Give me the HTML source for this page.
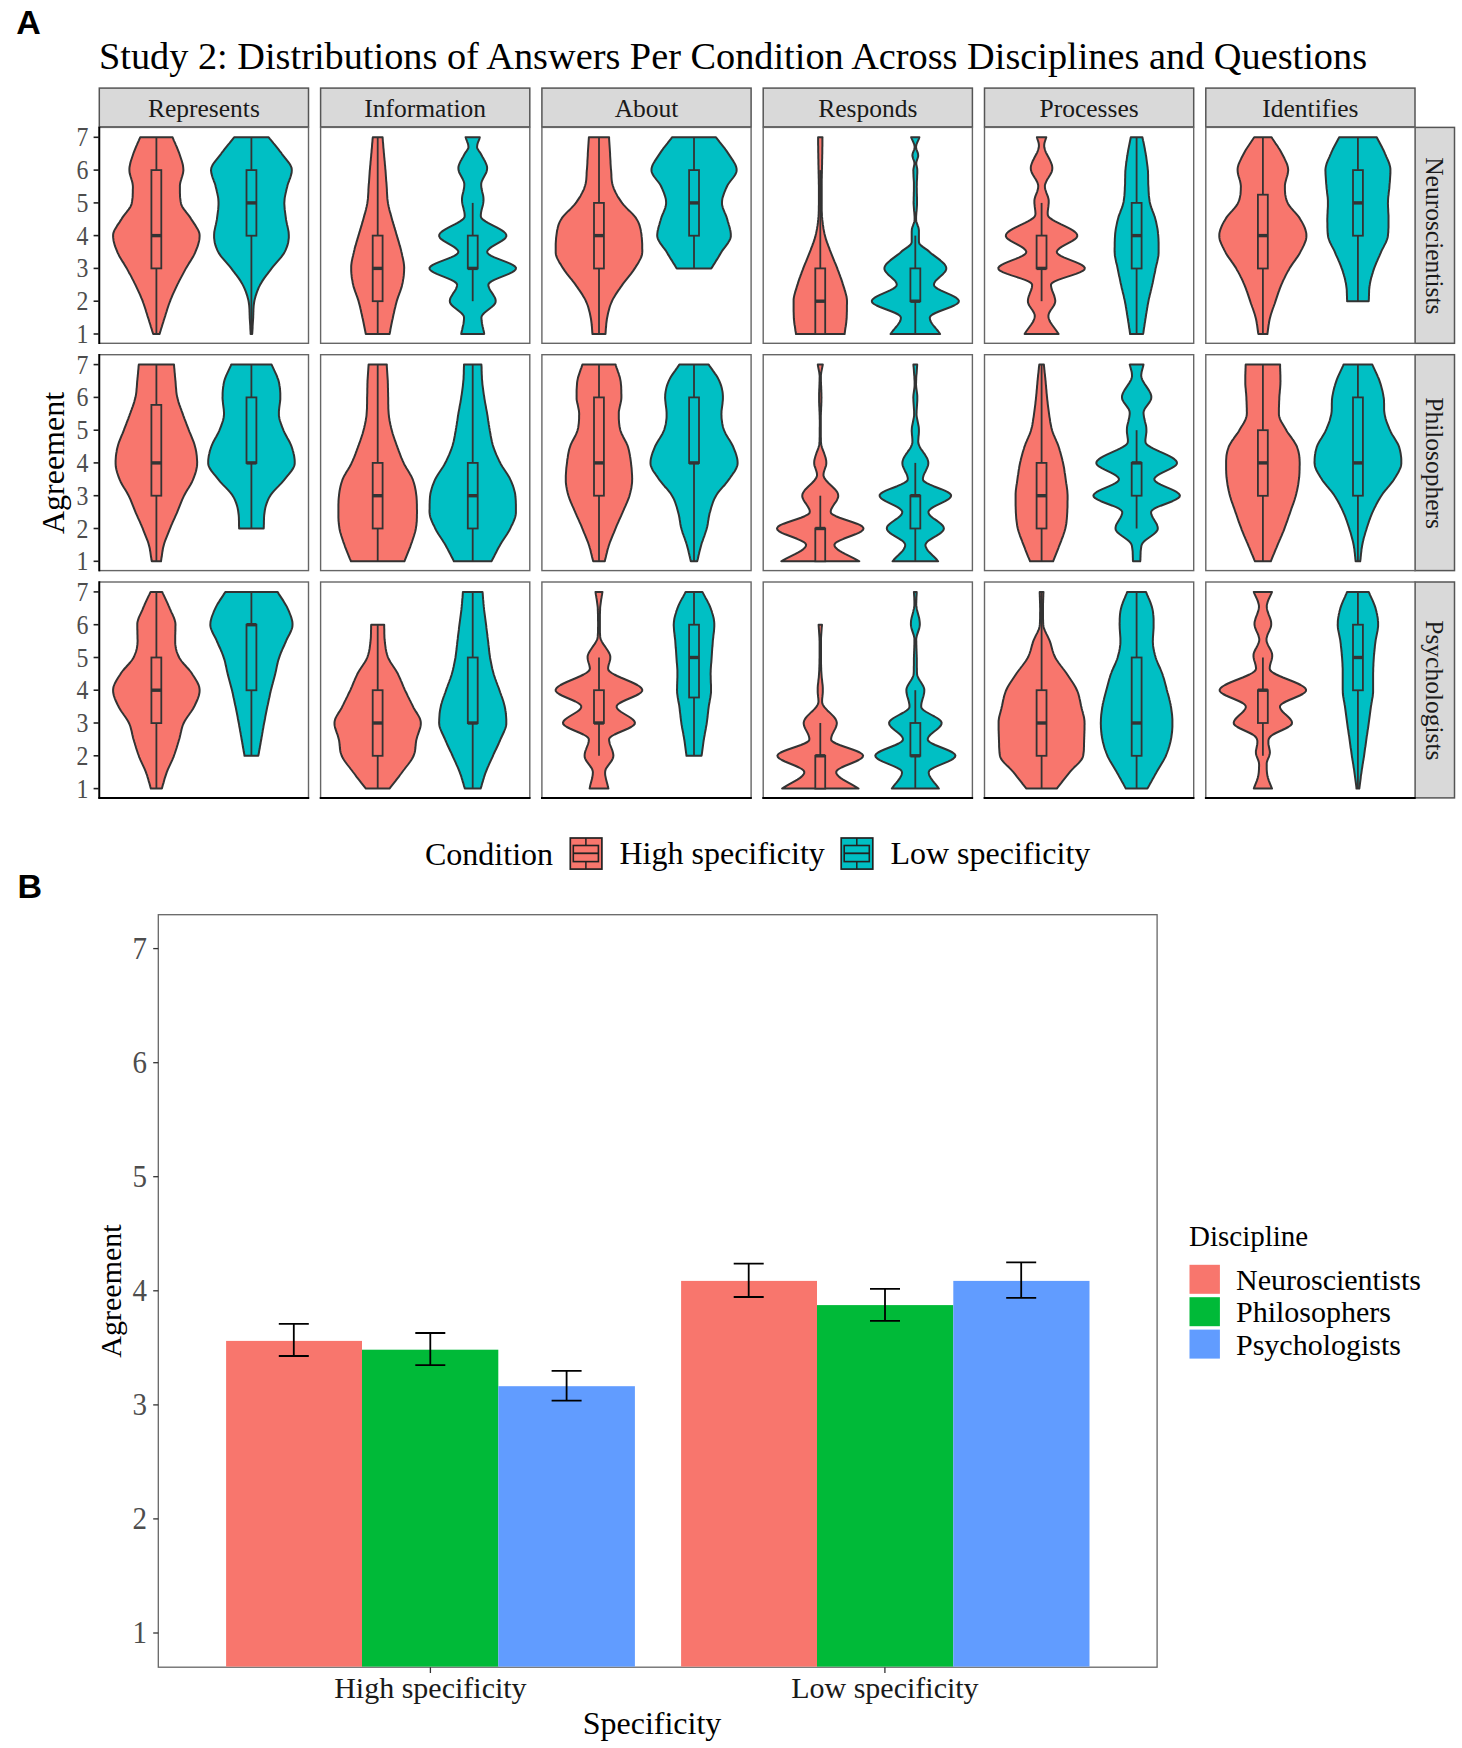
<!DOCTYPE html>
<html><head><meta charset="utf-8"><style>html,body{margin:0;padding:0;background:#fff;width:1462px;height:1748px;overflow:hidden}svg{display:block}</style></head>
<body><svg width="1462" height="1748" viewBox="0 0 1462 1748">
<rect width="100%" height="100%" fill="#fff"/>
<text x="16.3" y="34.2" font-family="&quot;Liberation Sans&quot;, sans-serif" font-weight="bold" font-size="34">A</text>
<text x="99" y="69" font-family="&quot;Liberation Serif&quot;, serif" font-size="38.3" fill="#000">Study 2: Distributions of Answers Per Condition Across Disciplines and Questions</text>
<rect x="99.3" y="88.1" width="209.2" height="38.8" fill="#D9D9D9" stroke="#555" stroke-width="1.5"/>
<text x="203.9" y="116.8" text-anchor="middle" font-family="&quot;Liberation Serif&quot;, serif" font-size="25.5" fill="#1a1a1a">Represents</text>
<rect x="320.6" y="88.1" width="209.2" height="38.8" fill="#D9D9D9" stroke="#555" stroke-width="1.5"/>
<text x="425.2" y="116.8" text-anchor="middle" font-family="&quot;Liberation Serif&quot;, serif" font-size="25.5" fill="#1a1a1a">Information</text>
<rect x="541.9" y="88.1" width="209.2" height="38.8" fill="#D9D9D9" stroke="#555" stroke-width="1.5"/>
<text x="646.5" y="116.8" text-anchor="middle" font-family="&quot;Liberation Serif&quot;, serif" font-size="25.5" fill="#1a1a1a">About</text>
<rect x="763.2" y="88.1" width="209.2" height="38.8" fill="#D9D9D9" stroke="#555" stroke-width="1.5"/>
<text x="867.8" y="116.8" text-anchor="middle" font-family="&quot;Liberation Serif&quot;, serif" font-size="25.5" fill="#1a1a1a">Responds</text>
<rect x="984.5" y="88.1" width="209.2" height="38.8" fill="#D9D9D9" stroke="#555" stroke-width="1.5"/>
<text x="1089.1" y="116.8" text-anchor="middle" font-family="&quot;Liberation Serif&quot;, serif" font-size="25.5" fill="#1a1a1a">Processes</text>
<rect x="1205.8" y="88.1" width="209.2" height="38.8" fill="#D9D9D9" stroke="#555" stroke-width="1.5"/>
<text x="1310.4" y="116.8" text-anchor="middle" font-family="&quot;Liberation Serif&quot;, serif" font-size="25.5" fill="#1a1a1a">Identifies</text>
<rect x="1415.0" y="127.4" width="39.5" height="215.9" fill="#D9D9D9" stroke="#555" stroke-width="1.5"/>
<text transform="translate(1426.2,235.8) rotate(90)" text-anchor="middle" font-family="&quot;Liberation Serif&quot;, serif" font-size="25.5" fill="#1a1a1a">Neuroscientists</text>
<rect x="1415.0" y="354.7" width="39.5" height="215.9" fill="#D9D9D9" stroke="#555" stroke-width="1.5"/>
<text transform="translate(1426.2,463.1) rotate(90)" text-anchor="middle" font-family="&quot;Liberation Serif&quot;, serif" font-size="25.5" fill="#1a1a1a">Philosophers</text>
<rect x="1415.0" y="582.0" width="39.5" height="215.9" fill="#D9D9D9" stroke="#555" stroke-width="1.5"/>
<text transform="translate(1426.2,690.4) rotate(90)" text-anchor="middle" font-family="&quot;Liberation Serif&quot;, serif" font-size="25.5" fill="#1a1a1a">Psychologists</text>
<rect x="99.3" y="127.4" width="209.2" height="215.9" fill="#fff" stroke="#666" stroke-width="1.4"/>
<path d="M172.6,137.3 173.2,138.8 173.8,140.3 174.5,141.8 175.2,143.3 175.8,144.8 176.5,146.3 177.1,147.8 177.7,149.3 178.3,150.8 178.9,152.3 179.4,153.8 179.9,155.3 180.4,156.8 180.9,158.3 181.4,159.8 181.9,161.3 182.3,162.8 182.7,164.3 183.0,165.8 183.2,167.3 183.3,168.8 183.4,170.3 183.2,171.8 183.0,173.3 182.6,174.8 182.2,176.3 181.7,177.8 181.3,179.3 180.8,180.8 180.4,182.3 180.1,183.8 179.9,185.3 179.9,186.8 179.9,188.3 179.9,189.8 179.9,191.3 179.9,192.9 180.0,194.4 180.0,195.9 180.1,197.4 180.3,198.9 180.5,200.4 180.7,201.9 181.0,203.4 181.4,204.9 182.1,206.4 183.0,207.9 184.0,209.4 185.2,210.9 186.3,212.4 187.5,213.9 188.7,215.4 189.8,216.9 190.8,218.4 191.7,219.9 192.7,221.4 193.7,222.9 194.7,224.4 195.7,225.9 196.6,227.4 197.5,228.9 198.3,230.4 198.9,231.9 199.4,233.4 199.6,234.9 199.6,236.4 199.5,237.9 199.4,239.4 199.1,240.9 198.7,242.4 198.3,243.9 197.9,245.4 197.4,246.9 196.8,248.4 196.2,249.9 195.6,251.4 195.0,252.9 194.3,254.4 193.5,255.9 192.6,257.4 191.7,258.9 190.8,260.4 189.9,261.9 188.9,263.4 188.0,264.9 187.1,266.4 186.2,267.9 185.4,269.4 184.6,270.9 183.8,272.4 183.0,273.9 182.2,275.4 181.4,276.9 180.6,278.4 179.8,279.9 179.0,281.4 178.3,282.9 177.5,284.4 176.8,285.9 176.1,287.4 175.4,288.9 174.7,290.4 174.0,291.9 173.3,293.4 172.6,294.9 172.0,296.4 171.4,297.9 170.7,299.4 170.2,300.9 169.6,302.5 169.0,304.0 168.5,305.5 168.0,307.0 167.5,308.5 167.0,310.0 166.6,311.5 166.1,313.0 165.6,314.5 165.2,316.0 164.7,317.5 164.2,319.0 163.7,320.5 163.3,322.0 162.8,323.5 162.3,325.0 161.9,326.5 161.4,328.0 160.9,329.5 160.5,331.0 160.0,332.5 159.6,334.0 153.2,334.0 152.7,332.5 152.2,331.0 151.8,329.5 151.3,328.0 150.8,326.5 150.4,325.0 149.9,323.5 149.4,322.0 149.0,320.5 148.5,319.0 148.0,317.5 147.5,316.0 147.1,314.5 146.6,313.0 146.1,311.5 145.7,310.0 145.2,308.5 144.7,307.0 144.2,305.5 143.7,304.0 143.1,302.5 142.6,300.9 142.0,299.4 141.3,297.9 140.7,296.4 140.1,294.9 139.4,293.4 138.7,291.9 138.0,290.4 137.3,288.9 136.6,287.4 135.9,285.9 135.2,284.4 134.4,282.9 133.7,281.4 132.9,279.9 132.1,278.4 131.4,276.9 130.6,275.4 129.8,273.9 128.9,272.4 128.1,270.9 127.3,269.4 126.5,267.9 125.6,266.4 124.7,264.9 123.8,263.4 122.8,261.9 121.9,260.4 121.0,258.9 120.1,257.4 119.2,255.9 118.5,254.4 117.7,252.9 117.1,251.4 116.5,249.9 115.9,248.4 115.3,246.9 114.8,245.4 114.4,243.9 114.0,242.4 113.6,240.9 113.4,239.4 113.2,237.9 113.1,236.4 113.1,234.9 113.3,233.4 113.8,231.9 114.4,230.4 115.2,228.9 116.1,227.4 117.0,225.9 118.0,224.4 119.1,222.9 120.0,221.4 121.0,219.9 121.9,218.4 122.9,216.9 124.0,215.4 125.2,213.9 126.4,212.4 127.5,210.9 128.7,209.4 129.7,207.9 130.6,206.4 131.3,204.9 131.7,203.4 132.0,201.9 132.2,200.4 132.4,198.9 132.6,197.4 132.7,195.9 132.7,194.4 132.8,192.9 132.8,191.3 132.8,189.8 132.9,188.3 132.9,186.8 132.8,185.3 132.6,183.8 132.3,182.3 131.9,180.8 131.4,179.3 131.0,177.8 130.5,176.3 130.1,174.8 129.7,173.3 129.5,171.8 129.4,170.3 129.4,168.8 129.5,167.3 129.8,165.8 130.1,164.3 130.4,162.8 130.8,161.3 131.3,159.8 131.8,158.3 132.3,156.8 132.8,155.3 133.3,153.8 133.8,152.3 134.4,150.8 135.0,149.3 135.6,147.8 136.2,146.3 136.9,144.8 137.5,143.3 138.2,141.8 138.9,140.3 139.5,138.8 140.2,137.3Z" fill="#F8766D" stroke="#333333" stroke-width="2" stroke-linejoin="round"/>
<line x1="156.4" y1="137.3" x2="156.4" y2="170.1" stroke="#333333" stroke-width="1.8"/>
<line x1="156.4" y1="268.4" x2="156.4" y2="334.0" stroke="#333333" stroke-width="1.8"/>
<rect x="151.4" y="170.1" width="9.9" height="98.3" fill="#F8766D" stroke="#333333" stroke-width="1.8"/>
<line x1="151.4" y1="235.6" x2="161.3" y2="235.6" stroke="#333333" stroke-width="3.4"/>
<path d="M268.7,137.3 269.9,138.8 271.2,140.3 272.4,141.8 273.6,143.3 274.9,144.8 276.1,146.3 277.3,147.8 278.5,149.3 279.6,150.8 280.8,152.3 281.8,153.8 283.0,155.3 284.2,156.8 285.4,158.3 286.6,159.8 287.8,161.3 288.9,162.8 289.9,164.3 290.7,165.8 291.4,167.3 291.7,168.8 291.8,170.3 291.7,171.8 291.5,173.3 291.1,174.8 290.7,176.3 290.2,177.8 289.6,179.3 289.1,180.8 288.5,182.3 288.0,183.8 287.5,185.3 287.2,186.8 286.8,188.3 286.4,189.8 286.1,191.3 285.7,192.9 285.4,194.4 285.1,195.9 284.8,197.4 284.6,198.9 284.5,200.4 284.4,201.9 284.3,203.4 284.4,204.9 284.5,206.4 284.6,207.9 284.7,209.4 284.9,210.9 285.1,212.4 285.3,213.9 285.5,215.4 285.7,216.9 285.9,218.4 286.1,219.9 286.4,221.4 286.7,222.9 287.0,224.4 287.4,225.9 287.7,227.4 288.0,228.9 288.3,230.4 288.6,231.9 288.7,233.4 288.8,234.9 288.8,236.4 288.8,237.9 288.6,239.4 288.4,240.9 288.2,242.4 287.8,243.9 287.4,245.4 286.9,246.9 286.3,248.4 285.7,249.9 285.0,251.4 284.2,252.9 283.2,254.4 282.1,255.9 281.0,257.4 279.7,258.9 278.4,260.4 277.1,261.9 275.8,263.4 274.5,264.9 273.2,266.4 272.0,267.9 270.9,269.4 269.8,270.9 268.6,272.4 267.5,273.9 266.3,275.4 265.2,276.9 264.1,278.4 263.1,279.9 262.1,281.4 261.2,282.9 260.3,284.4 259.6,285.9 258.8,287.4 258.2,288.9 257.6,290.4 257.0,291.9 256.5,293.4 256.0,294.9 255.5,296.4 255.1,297.9 254.7,299.4 254.4,300.9 254.1,302.5 253.9,304.0 253.7,305.5 253.6,307.0 253.5,308.5 253.4,310.0 253.4,311.5 253.3,313.0 253.3,314.5 253.2,316.0 253.2,317.5 253.1,319.0 253.0,320.5 252.9,322.0 252.8,323.5 252.7,325.0 252.6,326.5 252.6,328.0 252.5,329.5 252.4,331.0 252.3,332.5 252.2,334.0 250.6,334.0 250.6,332.5 250.5,331.0 250.4,329.5 250.3,328.0 250.3,326.5 250.2,325.0 250.1,323.5 250.0,322.0 249.9,320.5 249.8,319.0 249.7,317.5 249.7,316.0 249.6,314.5 249.6,313.0 249.5,311.5 249.5,310.0 249.4,308.5 249.3,307.0 249.2,305.5 249.0,304.0 248.8,302.5 248.5,300.9 248.2,299.4 247.8,297.9 247.4,296.4 246.9,294.9 246.4,293.4 245.9,291.9 245.3,290.4 244.7,288.9 244.0,287.4 243.3,285.9 242.5,284.4 241.7,282.9 240.8,281.4 239.8,279.9 238.8,278.4 237.7,276.9 236.6,275.4 235.4,273.9 234.3,272.4 233.1,270.9 232.0,269.4 230.9,267.9 229.7,266.4 228.4,264.9 227.1,263.4 225.8,261.9 224.5,260.4 223.2,258.9 221.9,257.4 220.7,255.9 219.7,254.4 218.7,252.9 217.9,251.4 217.2,249.9 216.6,248.4 216.0,246.9 215.5,245.4 215.1,243.9 214.7,242.4 214.5,240.9 214.3,239.4 214.1,237.9 214.1,236.4 214.1,234.9 214.2,233.4 214.3,231.9 214.6,230.4 214.9,228.9 215.2,227.4 215.5,225.9 215.9,224.4 216.2,222.9 216.5,221.4 216.8,219.9 217.0,218.4 217.2,216.9 217.4,215.4 217.6,213.9 217.8,212.4 218.0,210.9 218.2,209.4 218.3,207.9 218.4,206.4 218.5,204.9 218.5,203.4 218.5,201.9 218.4,200.4 218.3,198.9 218.1,197.4 217.8,195.9 217.5,194.4 217.2,192.9 216.8,191.3 216.5,189.8 216.1,188.3 215.7,186.8 215.4,185.3 214.9,183.8 214.4,182.3 213.8,180.8 213.3,179.3 212.7,177.8 212.2,176.3 211.8,174.8 211.4,173.3 211.2,171.8 211.0,170.3 211.2,168.8 211.5,167.3 212.2,165.8 213.0,164.3 214.0,162.8 215.1,161.3 216.3,159.8 217.5,158.3 218.7,156.8 219.9,155.3 221.1,153.8 222.1,152.3 223.3,150.8 224.4,149.3 225.6,147.8 226.8,146.3 228.0,144.8 229.3,143.3 230.5,141.8 231.7,140.3 232.9,138.8 234.1,137.3Z" fill="#00BFC4" stroke="#333333" stroke-width="2" stroke-linejoin="round"/>
<line x1="251.4" y1="137.3" x2="251.4" y2="170.1" stroke="#333333" stroke-width="1.8"/>
<line x1="251.4" y1="235.6" x2="251.4" y2="334.0" stroke="#333333" stroke-width="1.8"/>
<rect x="246.5" y="170.1" width="9.9" height="65.6" fill="#00BFC4" stroke="#333333" stroke-width="1.8"/>
<line x1="246.5" y1="202.9" x2="256.4" y2="202.9" stroke="#333333" stroke-width="3.4"/>
<rect x="320.6" y="127.4" width="209.2" height="215.9" fill="#fff" stroke="#666" stroke-width="1.4"/>
<path d="M382.6,137.3 382.7,138.8 382.8,140.3 382.9,141.8 383.1,143.3 383.2,144.8 383.3,146.3 383.4,147.8 383.6,149.3 383.7,150.8 383.8,152.3 384.0,153.8 384.1,155.3 384.2,156.8 384.4,158.3 384.5,159.8 384.7,161.3 384.8,162.8 384.9,164.3 385.1,165.8 385.2,167.3 385.3,168.8 385.5,170.3 385.6,171.8 385.7,173.3 385.8,174.8 385.9,176.3 386.0,177.8 386.1,179.3 386.2,180.8 386.4,182.3 386.5,183.8 386.6,185.3 386.7,186.8 386.8,188.3 386.9,189.8 386.9,191.3 387.0,192.9 387.1,194.4 387.2,195.9 387.3,197.4 387.4,198.9 387.6,200.4 387.8,201.9 388.0,203.4 388.3,204.9 388.6,206.4 389.0,207.9 389.3,209.4 389.7,210.9 390.1,212.4 390.6,213.9 391.0,215.4 391.4,216.9 391.8,218.4 392.2,219.9 392.6,221.4 393.1,222.9 393.5,224.4 394.0,225.9 394.4,227.4 394.9,228.9 395.3,230.4 395.8,231.9 396.2,233.4 396.6,234.9 397.1,236.4 397.5,237.9 398.0,239.4 398.4,240.9 398.9,242.4 399.3,243.9 399.7,245.4 400.2,246.9 400.6,248.4 401.0,249.9 401.3,251.4 401.7,252.9 402.0,254.4 402.3,255.9 402.7,257.4 403.0,258.9 403.3,260.4 403.6,261.9 403.8,263.4 404.0,264.9 404.1,266.4 404.2,267.9 404.1,269.4 404.1,270.9 404.0,272.4 403.9,273.9 403.8,275.4 403.6,276.9 403.4,278.4 403.1,279.9 402.9,281.4 402.6,282.9 402.2,284.4 401.9,285.9 401.5,287.4 401.0,288.9 400.5,290.4 400.0,291.9 399.4,293.4 398.9,294.9 398.3,296.4 397.8,297.9 397.3,299.4 396.8,300.9 396.4,302.5 396.0,304.0 395.6,305.5 395.3,307.0 394.9,308.5 394.5,310.0 394.2,311.5 393.9,313.0 393.5,314.5 393.2,316.0 392.9,317.5 392.6,319.0 392.2,320.5 391.9,322.0 391.6,323.5 391.3,325.0 391.0,326.5 390.7,328.0 390.4,329.5 390.2,331.0 389.9,332.5 389.6,334.0 365.8,334.0 365.5,332.5 365.2,331.0 364.9,329.5 364.6,328.0 364.3,326.5 364.0,325.0 363.7,323.5 363.4,322.0 363.1,320.5 362.8,319.0 362.4,317.5 362.1,316.0 361.8,314.5 361.4,313.0 361.1,311.5 360.8,310.0 360.4,308.5 360.1,307.0 359.7,305.5 359.3,304.0 358.9,302.5 358.5,300.9 358.0,299.4 357.5,297.9 357.0,296.4 356.4,294.9 355.9,293.4 355.3,291.9 354.8,290.4 354.3,288.9 353.8,287.4 353.4,285.9 353.1,284.4 352.7,282.9 352.5,281.4 352.2,279.9 351.9,278.4 351.7,276.9 351.6,275.4 351.4,273.9 351.3,272.4 351.2,270.9 351.2,269.4 351.2,267.9 351.2,266.4 351.3,264.9 351.5,263.4 351.7,261.9 352.0,260.4 352.3,258.9 352.6,257.4 353.0,255.9 353.3,254.4 353.7,252.9 354.0,251.4 354.4,249.9 354.7,248.4 355.1,246.9 355.6,245.4 356.0,243.9 356.4,242.4 356.9,240.9 357.3,239.4 357.8,237.9 358.2,236.4 358.7,234.9 359.1,233.4 359.6,231.9 360.0,230.4 360.5,228.9 360.9,227.4 361.4,225.9 361.8,224.4 362.2,222.9 362.7,221.4 363.1,219.9 363.5,218.4 363.9,216.9 364.3,215.4 364.8,213.9 365.2,212.4 365.6,210.9 366.0,209.4 366.3,207.9 366.7,206.4 367.0,204.9 367.3,203.4 367.5,201.9 367.7,200.4 367.9,198.9 368.0,197.4 368.1,195.9 368.2,194.4 368.3,192.9 368.4,191.3 368.4,189.8 368.5,188.3 368.6,186.8 368.7,185.3 368.8,183.8 369.0,182.3 369.1,180.8 369.2,179.3 369.3,177.8 369.4,176.3 369.5,174.8 369.6,173.3 369.7,171.8 369.8,170.3 370.0,168.8 370.1,167.3 370.2,165.8 370.4,164.3 370.5,162.8 370.6,161.3 370.8,159.8 370.9,158.3 371.1,156.8 371.2,155.3 371.3,153.8 371.5,152.3 371.6,150.8 371.7,149.3 371.9,147.8 372.0,146.3 372.1,144.8 372.2,143.3 372.4,141.8 372.5,140.3 372.6,138.8 372.8,137.3Z" fill="#F8766D" stroke="#333333" stroke-width="2" stroke-linejoin="round"/>
<line x1="377.7" y1="137.3" x2="377.7" y2="235.6" stroke="#333333" stroke-width="1.8"/>
<line x1="377.7" y1="301.2" x2="377.7" y2="334.0" stroke="#333333" stroke-width="1.8"/>
<rect x="372.7" y="235.6" width="9.9" height="65.6" fill="#F8766D" stroke="#333333" stroke-width="1.8"/>
<line x1="372.7" y1="268.4" x2="382.6" y2="268.4" stroke="#333333" stroke-width="3.4"/>
<path d="M479.8,137.3 479.4,138.8 478.8,140.3 478.2,141.8 477.7,143.3 477.3,144.8 477.1,146.3 477.1,147.8 477.8,149.3 478.8,150.8 479.9,152.3 480.8,153.8 481.6,155.3 482.4,156.8 483.3,158.3 484.1,159.8 485.0,161.3 485.7,162.8 486.3,164.3 486.8,165.8 487.1,167.3 487.1,168.8 486.9,170.3 486.5,171.8 485.9,173.3 485.1,174.8 484.3,176.3 483.5,177.8 482.7,179.3 482.0,180.8 481.5,182.3 481.2,183.8 481.2,185.3 481.3,186.8 481.5,188.3 481.8,189.8 482.1,191.3 482.5,192.9 482.9,194.4 483.2,195.9 483.4,197.4 483.5,198.9 483.5,200.4 483.4,201.9 483.2,203.4 482.9,204.9 482.5,206.4 482.1,207.9 481.7,209.4 481.4,210.9 481.1,212.4 480.9,213.9 480.8,215.4 480.9,216.9 481.8,218.4 483.4,219.9 485.5,221.4 488.0,222.9 490.8,224.4 493.7,225.9 496.7,227.4 499.4,228.9 501.9,230.4 504.0,231.9 505.5,233.4 506.3,234.9 506.3,236.4 505.5,237.9 503.9,239.4 501.8,240.9 499.3,242.4 496.7,243.9 494.1,245.4 491.6,246.9 489.6,248.4 488.0,249.9 487.2,251.4 487.4,252.9 488.8,254.4 491.2,255.9 494.4,257.4 498.2,258.9 502.1,260.4 506.0,261.9 509.6,263.4 512.6,264.9 514.9,266.4 516.0,267.9 515.7,269.4 514.3,270.9 511.9,272.4 508.8,273.9 505.2,275.4 501.4,276.9 497.7,278.4 494.2,279.9 491.4,281.4 489.4,282.9 488.4,284.4 488.4,285.9 488.9,287.4 489.5,288.9 490.4,290.4 491.3,291.9 492.3,293.4 493.3,294.9 494.2,296.4 495.0,297.9 495.5,299.4 495.7,300.9 495.5,302.5 494.7,304.0 493.4,305.5 491.7,307.0 489.8,308.5 487.9,310.0 486.0,311.5 484.2,313.0 482.8,314.5 481.8,316.0 481.4,317.5 481.5,319.0 481.6,320.5 481.8,322.0 482.0,323.5 482.3,325.0 482.6,326.5 483.0,328.0 483.3,329.5 483.7,331.0 484.0,332.5 484.2,334.0 461.2,334.0 461.5,332.5 461.8,331.0 462.2,329.5 462.5,328.0 462.8,326.5 463.2,325.0 463.5,323.5 463.7,322.0 463.9,320.5 464.0,319.0 464.0,317.5 463.7,316.0 462.7,314.5 461.3,313.0 459.5,311.5 457.6,310.0 455.7,308.5 453.8,307.0 452.1,305.5 450.8,304.0 450.0,302.5 449.8,300.9 450.0,299.4 450.5,297.9 451.3,296.4 452.2,294.9 453.1,293.4 454.2,291.9 455.1,290.4 456.0,288.9 456.6,287.4 457.0,285.9 457.1,284.4 456.1,282.9 454.1,281.4 451.2,279.9 447.8,278.4 444.1,276.9 440.3,275.4 436.7,273.9 433.6,272.4 431.2,270.9 429.7,269.4 429.5,267.9 430.6,266.4 432.8,264.9 435.9,263.4 439.5,261.9 443.4,260.4 447.3,258.9 451.0,257.4 454.3,255.9 456.7,254.4 458.1,252.9 458.3,251.4 457.5,249.9 455.9,248.4 453.9,246.9 451.4,245.4 448.8,243.9 446.2,242.4 443.7,240.9 441.6,239.4 440.0,237.9 439.2,236.4 439.2,234.9 440.0,233.4 441.5,231.9 443.6,230.4 446.1,228.9 448.8,227.4 451.7,225.9 454.7,224.4 457.5,222.9 460.0,221.4 462.1,219.9 463.7,218.4 464.6,216.9 464.7,215.4 464.6,213.9 464.4,212.4 464.1,210.9 463.7,209.4 463.4,207.9 463.0,206.4 462.6,204.9 462.3,203.4 462.1,201.9 462.0,200.4 462.0,198.9 462.1,197.4 462.3,195.9 462.6,194.4 463.0,192.9 463.4,191.3 463.7,189.8 464.0,188.3 464.2,186.8 464.3,185.3 464.3,183.8 464.0,182.3 463.5,180.8 462.8,179.3 462.0,177.8 461.2,176.3 460.4,174.8 459.6,173.3 459.0,171.8 458.6,170.3 458.4,168.8 458.4,167.3 458.7,165.8 459.2,164.3 459.8,162.8 460.5,161.3 461.4,159.8 462.2,158.3 463.1,156.8 463.9,155.3 464.7,153.8 465.6,152.3 466.7,150.8 467.7,149.3 468.4,147.8 468.4,146.3 468.2,144.8 467.8,143.3 467.2,141.8 466.7,140.3 466.1,138.8 465.6,137.3Z" fill="#00BFC4" stroke="#333333" stroke-width="2" stroke-linejoin="round"/>
<line x1="472.7" y1="202.9" x2="472.7" y2="235.6" stroke="#333333" stroke-width="1.8"/>
<line x1="472.7" y1="268.4" x2="472.7" y2="301.2" stroke="#333333" stroke-width="1.8"/>
<rect x="467.8" y="235.6" width="9.9" height="32.8" fill="#00BFC4" stroke="#333333" stroke-width="1.8"/>
<line x1="467.8" y1="268.4" x2="477.7" y2="268.4" stroke="#333333" stroke-width="3.4"/>
<rect x="541.9" y="127.4" width="209.2" height="215.9" fill="#fff" stroke="#666" stroke-width="1.4"/>
<path d="M609.1,137.3 609.1,138.8 609.2,140.3 609.3,141.8 609.4,143.3 609.5,144.8 609.6,146.3 609.7,147.8 609.8,149.3 609.9,150.8 610.0,152.3 610.1,153.8 610.1,155.3 610.2,156.8 610.3,158.3 610.4,159.8 610.5,161.3 610.5,162.8 610.6,164.3 610.7,165.8 610.8,167.3 610.9,168.8 611.1,170.3 611.2,171.8 611.3,173.3 611.4,174.8 611.4,176.3 611.5,177.8 611.6,179.3 611.8,180.8 612.0,182.3 612.3,183.8 612.7,185.3 613.2,186.8 613.7,188.3 614.4,189.8 615.0,191.3 615.8,192.9 616.6,194.4 617.4,195.9 618.3,197.4 619.3,198.9 620.3,200.4 621.3,201.9 622.4,203.4 623.6,204.9 625.0,206.4 626.4,207.9 627.9,209.4 629.5,210.9 631.0,212.4 632.5,213.9 633.8,215.4 635.1,216.9 636.2,218.4 637.1,219.9 637.9,221.4 638.6,222.9 639.2,224.4 639.7,225.9 640.1,227.4 640.5,228.9 640.8,230.4 641.0,231.9 641.3,233.4 641.5,234.9 641.6,236.4 641.8,237.9 641.9,239.4 642.0,240.9 642.1,242.4 642.2,243.9 642.2,245.4 642.2,246.9 642.2,248.4 642.3,249.9 642.3,251.4 642.2,252.9 642.0,254.4 641.6,255.9 641.1,257.4 640.4,258.9 639.6,260.4 638.8,261.9 637.9,263.4 637.0,264.9 636.0,266.4 635.1,267.9 634.1,269.4 633.1,270.9 632.0,272.4 630.9,273.9 629.7,275.4 628.5,276.9 627.3,278.4 626.1,279.9 624.9,281.4 623.7,282.9 622.6,284.4 621.6,285.9 620.5,287.4 619.5,288.9 618.4,290.4 617.4,291.9 616.4,293.4 615.4,294.9 614.5,296.4 613.6,297.9 612.8,299.4 612.1,300.9 611.4,302.5 610.8,304.0 610.2,305.5 609.7,307.0 609.3,308.5 608.9,310.0 608.5,311.5 608.1,313.0 607.8,314.5 607.5,316.0 607.2,317.5 606.9,319.0 606.7,320.5 606.5,322.0 606.3,323.5 606.2,325.0 606.1,326.5 605.9,328.0 605.8,329.5 605.7,331.0 605.6,332.5 605.5,334.0 592.5,334.0 592.3,332.5 592.2,331.0 592.1,329.5 592.0,328.0 591.9,326.5 591.7,325.0 591.6,323.5 591.4,322.0 591.2,320.5 591.0,319.0 590.7,317.5 590.4,316.0 590.1,314.5 589.8,313.0 589.4,311.5 589.0,310.0 588.6,308.5 588.2,307.0 587.7,305.5 587.1,304.0 586.5,302.5 585.8,300.9 585.1,299.4 584.3,297.9 583.4,296.4 582.5,294.9 581.5,293.4 580.5,291.9 579.5,290.4 578.4,288.9 577.4,287.4 576.3,285.9 575.3,284.4 574.2,282.9 573.0,281.4 571.9,279.9 570.6,278.4 569.4,276.9 568.2,275.4 567.0,273.9 565.9,272.4 564.8,270.9 563.8,269.4 562.8,267.9 561.9,266.4 561.0,264.9 560.0,263.4 559.1,261.9 558.3,260.4 557.5,258.9 556.8,257.4 556.3,255.9 555.9,254.4 555.7,252.9 555.7,251.4 555.7,249.9 555.7,248.4 555.7,246.9 555.7,245.4 555.7,243.9 555.8,242.4 555.9,240.9 556.0,239.4 556.1,237.9 556.3,236.4 556.5,234.9 556.7,233.4 556.9,231.9 557.1,230.4 557.5,228.9 557.8,227.4 558.2,225.9 558.7,224.4 559.3,222.9 560.0,221.4 560.8,219.9 561.7,218.4 562.8,216.9 564.1,215.4 565.5,213.9 566.9,212.4 568.4,210.9 570.0,209.4 571.5,207.9 572.9,206.4 574.3,204.9 575.5,203.4 576.6,201.9 577.6,200.4 578.6,198.9 579.6,197.4 580.5,195.9 581.3,194.4 582.1,192.9 582.9,191.3 583.6,189.8 584.2,188.3 584.7,186.8 585.2,185.3 585.6,183.8 585.9,182.3 586.1,180.8 586.3,179.3 586.4,177.8 586.5,176.3 586.6,174.8 586.6,173.3 586.7,171.8 586.8,170.3 587.0,168.8 587.1,167.3 587.2,165.8 587.3,164.3 587.4,162.8 587.4,161.3 587.5,159.8 587.6,158.3 587.7,156.8 587.8,155.3 587.8,153.8 587.9,152.3 588.0,150.8 588.1,149.3 588.2,147.8 588.3,146.3 588.4,144.8 588.5,143.3 588.6,141.8 588.7,140.3 588.8,138.8 588.9,137.3Z" fill="#F8766D" stroke="#333333" stroke-width="2" stroke-linejoin="round"/>
<line x1="599.0" y1="137.3" x2="599.0" y2="202.9" stroke="#333333" stroke-width="1.8"/>
<line x1="599.0" y1="268.4" x2="599.0" y2="334.0" stroke="#333333" stroke-width="1.8"/>
<rect x="594.0" y="202.9" width="9.9" height="65.6" fill="#F8766D" stroke="#333333" stroke-width="1.8"/>
<line x1="594.0" y1="235.6" x2="603.9" y2="235.6" stroke="#333333" stroke-width="3.4"/>
<path d="M716.0,137.3 717.2,138.8 718.4,140.3 719.5,141.8 720.7,143.3 721.9,144.8 723.1,146.3 724.3,147.8 725.4,149.4 726.5,150.9 727.5,152.4 728.5,153.9 729.5,155.4 730.5,156.9 731.5,158.4 732.5,159.9 733.5,161.4 734.4,162.9 735.2,164.4 735.8,165.9 736.3,167.4 736.6,168.9 736.6,170.5 736.4,172.0 735.8,173.5 735.0,175.0 734.0,176.5 732.9,178.0 731.7,179.5 730.5,181.0 729.4,182.5 728.3,184.0 727.4,185.5 726.7,187.0 726.0,188.5 725.4,190.0 724.7,191.6 724.1,193.1 723.6,194.6 723.1,196.1 722.6,197.6 722.3,199.1 722.1,200.6 722.0,202.1 722.0,203.6 722.1,205.1 722.5,206.6 722.9,208.1 723.5,209.6 724.1,211.1 724.7,212.7 725.4,214.2 726.0,215.7 726.6,217.2 727.1,218.7 727.5,220.2 727.9,221.7 728.4,223.2 728.8,224.7 729.3,226.2 729.7,227.7 730.0,229.2 730.4,230.7 730.6,232.2 730.8,233.8 730.8,235.3 730.8,236.8 730.4,238.3 729.8,239.8 729.0,241.3 728.1,242.8 727.0,244.3 725.9,245.8 724.8,247.3 723.6,248.8 722.5,250.3 721.6,251.8 720.7,253.3 719.7,254.9 718.8,256.4 717.9,257.9 717.0,259.4 716.0,260.9 715.1,262.4 714.2,263.9 713.2,265.4 712.3,266.9 711.3,268.4 676.7,268.4 675.8,266.9 674.9,265.4 673.9,263.9 673.0,262.4 672.1,260.9 671.1,259.4 670.2,257.9 669.3,256.4 668.3,254.9 667.4,253.3 666.5,251.8 665.6,250.3 664.5,248.8 663.3,247.3 662.2,245.8 661.1,244.3 660.0,242.8 659.1,241.3 658.3,239.8 657.7,238.3 657.3,236.8 657.2,235.3 657.3,233.8 657.5,232.2 657.7,230.7 658.1,229.2 658.4,227.7 658.8,226.2 659.3,224.7 659.7,223.2 660.1,221.7 660.6,220.2 661.0,218.7 661.5,217.2 662.1,215.7 662.7,214.2 663.4,212.7 664.0,211.1 664.6,209.6 665.2,208.1 665.6,206.6 665.9,205.1 666.1,203.6 666.1,202.1 666.0,200.6 665.8,199.1 665.4,197.6 665.0,196.1 664.5,194.6 664.0,193.1 663.4,191.6 662.7,190.0 662.1,188.5 661.4,187.0 660.7,185.5 659.8,184.0 658.7,182.5 657.5,181.0 656.3,179.5 655.2,178.0 654.0,176.5 653.1,175.0 652.3,173.5 651.7,172.0 651.5,170.5 651.5,168.9 651.8,167.4 652.3,165.9 652.9,164.4 653.7,162.9 654.6,161.4 655.6,159.9 656.6,158.4 657.6,156.9 658.6,155.4 659.6,153.9 660.6,152.4 661.6,150.9 662.7,149.4 663.8,147.8 665.0,146.3 666.2,144.8 667.4,143.3 668.5,141.8 669.7,140.3 670.9,138.8 672.0,137.3Z" fill="#00BFC4" stroke="#333333" stroke-width="2" stroke-linejoin="round"/>
<line x1="694.0" y1="137.3" x2="694.0" y2="170.1" stroke="#333333" stroke-width="1.8"/>
<line x1="694.0" y1="235.6" x2="694.0" y2="268.4" stroke="#333333" stroke-width="1.8"/>
<rect x="689.1" y="170.1" width="9.9" height="65.6" fill="#00BFC4" stroke="#333333" stroke-width="1.8"/>
<line x1="689.1" y1="202.9" x2="699.0" y2="202.9" stroke="#333333" stroke-width="3.4"/>
<rect x="763.2" y="127.4" width="209.2" height="215.9" fill="#fff" stroke="#666" stroke-width="1.4"/>
<path d="M822.5,137.3 822.4,138.8 822.4,140.3 822.4,141.8 822.4,143.3 822.4,144.8 822.4,146.3 822.3,147.8 822.3,149.3 822.3,150.8 822.3,152.3 822.3,153.8 822.2,155.3 822.2,156.8 822.2,158.3 822.1,159.8 822.1,161.3 822.1,162.8 822.1,164.3 822.0,165.8 822.0,167.3 822.0,168.8 821.9,170.3 821.9,171.8 821.9,173.3 821.8,174.8 821.8,176.3 821.8,177.8 821.7,179.3 821.7,180.8 821.7,182.3 821.7,183.8 821.7,185.3 821.7,186.8 821.7,188.3 821.7,189.8 821.7,191.3 821.7,192.9 821.7,194.4 821.7,195.9 821.7,197.4 821.7,198.9 821.7,200.4 821.7,201.9 821.7,203.4 821.7,204.9 821.7,206.4 821.7,207.9 821.7,209.4 821.7,210.9 821.8,212.4 821.9,213.9 821.9,215.4 822.0,216.9 822.2,218.4 822.3,219.9 822.5,221.4 822.7,222.9 822.8,224.4 823.1,225.9 823.3,227.4 823.5,228.9 823.8,230.4 824.1,231.9 824.4,233.4 824.8,234.9 825.2,236.4 825.6,237.9 826.0,239.4 826.5,240.9 827.0,242.4 827.6,243.9 828.1,245.4 828.7,246.9 829.3,248.4 829.8,249.9 830.4,251.4 831.0,252.9 831.6,254.4 832.2,255.9 832.8,257.4 833.4,258.9 834.0,260.4 834.6,261.9 835.3,263.4 835.9,264.9 836.5,266.4 837.1,267.9 837.6,269.4 838.2,270.9 838.8,272.4 839.3,273.9 839.9,275.4 840.4,276.9 841.0,278.4 841.5,279.9 842.0,281.4 842.5,282.9 842.9,284.4 843.4,285.9 843.9,287.4 844.4,288.9 844.8,290.4 845.3,291.9 845.7,293.4 846.1,294.9 846.5,296.4 846.7,297.9 846.9,299.4 847.0,300.9 847.0,302.5 847.0,304.0 846.9,305.5 846.9,307.0 846.9,308.5 846.9,310.0 846.9,311.5 846.8,313.0 846.8,314.5 846.7,316.0 846.7,317.5 846.6,319.0 846.4,320.5 846.3,322.0 846.1,323.5 845.9,325.0 845.7,326.5 845.4,328.0 845.2,329.5 845.0,331.0 844.8,332.5 844.6,334.0 796.0,334.0 795.8,332.5 795.5,331.0 795.3,329.5 795.1,328.0 794.9,326.5 794.6,325.0 794.4,323.5 794.2,322.0 794.1,320.5 793.9,319.0 793.8,317.5 793.8,316.0 793.7,314.5 793.7,313.0 793.6,311.5 793.6,310.0 793.6,308.5 793.6,307.0 793.6,305.5 793.6,304.0 793.6,302.5 793.6,300.9 793.6,299.4 793.8,297.9 794.1,296.4 794.4,294.9 794.8,293.4 795.2,291.9 795.7,290.4 796.2,288.9 796.6,287.4 797.1,285.9 797.6,284.4 798.0,282.9 798.5,281.4 799.0,279.9 799.5,278.4 800.1,276.9 800.6,275.4 801.2,273.9 801.7,272.4 802.3,270.9 802.9,269.4 803.4,267.9 804.0,266.4 804.6,264.9 805.2,263.4 805.9,261.9 806.5,260.4 807.1,258.9 807.7,257.4 808.3,255.9 808.9,254.4 809.5,252.9 810.1,251.4 810.7,249.9 811.2,248.4 811.8,246.9 812.4,245.4 812.9,243.9 813.5,242.4 814.0,240.9 814.5,239.4 814.9,237.9 815.4,236.4 815.7,234.9 816.1,233.4 816.4,231.9 816.7,230.4 817.0,228.9 817.2,227.4 817.5,225.9 817.7,224.4 817.9,222.9 818.0,221.4 818.2,219.9 818.3,218.4 818.5,216.9 818.6,215.4 818.7,213.9 818.7,212.4 818.8,210.9 818.8,209.4 818.8,207.9 818.8,206.4 818.9,204.9 818.9,203.4 818.9,201.9 818.9,200.4 818.9,198.9 818.9,197.4 818.9,195.9 818.9,194.4 818.9,192.9 818.9,191.3 818.9,189.8 818.9,188.3 818.9,186.8 818.9,185.3 818.8,183.8 818.8,182.3 818.8,180.8 818.8,179.3 818.7,177.8 818.7,176.3 818.7,174.8 818.6,173.3 818.6,171.8 818.6,170.3 818.5,168.8 818.5,167.3 818.5,165.8 818.4,164.3 818.4,162.8 818.4,161.3 818.4,159.8 818.3,158.3 818.3,156.8 818.3,155.3 818.3,153.8 818.2,152.3 818.2,150.8 818.2,149.3 818.2,147.8 818.2,146.3 818.1,144.8 818.1,143.3 818.1,141.8 818.1,140.3 818.1,138.8 818.1,137.3Z" fill="#F8766D" stroke="#333333" stroke-width="2" stroke-linejoin="round"/>
<line x1="820.3" y1="170.1" x2="820.3" y2="268.4" stroke="#333333" stroke-width="1.8"/>
<line x1="820.3" y1="334.0" x2="820.3" y2="334.0" stroke="#333333" stroke-width="1.8"/>
<rect x="815.3" y="268.4" width="9.9" height="65.6" fill="#F8766D" stroke="#333333" stroke-width="1.8"/>
<line x1="815.3" y1="301.2" x2="825.2" y2="301.2" stroke="#333333" stroke-width="3.4"/>
<path d="M919.4,137.3 918.9,138.8 918.2,140.3 917.5,141.8 916.9,143.3 916.4,144.8 916.1,146.3 916.1,147.8 916.4,149.3 917.0,150.8 917.6,152.3 918.0,153.8 918.2,155.3 918.1,156.8 917.6,158.3 917.1,159.8 916.6,161.3 916.3,162.8 916.3,164.3 916.6,165.8 916.9,167.3 917.2,168.8 917.3,170.3 917.3,171.8 917.3,173.3 917.2,174.8 917.1,176.3 917.1,177.8 917.0,179.3 916.9,180.8 916.8,182.3 916.8,183.8 916.8,185.3 916.7,186.8 916.8,188.3 916.8,189.8 916.8,191.3 916.8,192.9 916.9,194.4 916.9,195.9 917.0,197.4 917.0,198.9 917.0,200.4 917.0,201.9 917.0,203.4 917.0,204.9 916.9,206.4 916.8,207.9 916.7,209.4 916.6,210.9 916.4,212.4 916.3,213.9 916.2,215.4 916.1,216.9 916.1,218.4 916.1,219.9 916.3,221.4 916.7,222.9 917.3,224.4 917.8,225.9 918.4,227.4 918.7,228.9 918.9,230.4 918.9,231.9 918.9,233.4 918.9,234.9 918.9,236.4 918.9,237.9 918.9,239.4 918.9,240.9 919.0,242.4 919.5,243.9 920.9,245.4 922.8,246.9 924.9,248.4 927.1,249.9 929.0,251.4 930.7,252.9 932.5,254.4 934.5,255.9 936.5,257.4 938.5,258.9 940.4,260.4 942.2,261.9 943.8,263.4 945.0,264.9 945.9,266.4 946.3,267.9 946.2,269.4 945.6,270.9 944.5,272.4 943.1,273.9 941.4,275.4 939.7,276.9 938.1,278.4 936.5,279.9 935.2,281.4 934.3,282.9 933.9,284.4 934.2,285.9 935.6,287.4 937.8,288.9 940.7,290.4 944.0,291.9 947.4,293.4 950.8,294.9 953.8,296.4 956.4,297.9 958.1,299.4 958.9,300.9 958.5,302.5 956.8,304.0 954.1,305.5 950.7,307.0 946.8,308.5 942.8,310.0 938.9,311.5 935.4,313.0 932.5,314.5 930.6,316.0 929.8,317.5 929.9,319.0 930.3,320.5 931.0,322.0 931.9,323.5 933.0,325.0 934.2,326.5 935.5,328.0 936.7,329.5 938.0,331.0 939.1,332.5 940.1,334.0 890.5,334.0 891.6,332.5 892.7,331.0 894.0,329.5 895.2,328.0 896.5,326.5 897.7,325.0 898.7,323.5 899.7,322.0 900.4,320.5 900.8,319.0 900.9,317.5 900.1,316.0 898.2,314.5 895.3,313.0 891.7,311.5 887.8,310.0 883.8,308.5 880.0,307.0 876.6,305.5 873.9,304.0 872.2,302.5 871.8,300.9 872.5,299.4 874.3,297.9 876.9,296.4 879.9,294.9 883.3,293.4 886.7,291.9 890.0,290.4 892.9,288.9 895.1,287.4 896.5,285.9 896.8,284.4 896.4,282.9 895.5,281.4 894.2,279.9 892.6,278.4 891.0,276.9 889.2,275.4 887.6,273.9 886.2,272.4 885.1,270.9 884.5,269.4 884.4,267.9 884.8,266.4 885.7,264.9 886.9,263.4 888.5,261.9 890.3,260.4 892.2,258.9 894.2,257.4 896.2,255.9 898.2,254.4 900.0,252.9 901.6,251.4 903.6,249.9 905.8,248.4 907.9,246.9 909.8,245.4 911.1,243.9 911.7,242.4 911.7,240.9 911.7,239.4 911.7,237.9 911.7,236.4 911.7,234.9 911.7,233.4 911.7,231.9 911.8,230.4 911.9,228.9 912.3,227.4 912.9,225.9 913.4,224.4 914.0,222.9 914.4,221.4 914.6,219.9 914.6,218.4 914.6,216.9 914.5,215.4 914.4,213.9 914.3,212.4 914.1,210.9 914.0,209.4 913.9,207.9 913.8,206.4 913.7,204.9 913.6,203.4 913.6,201.9 913.7,200.4 913.7,198.9 913.7,197.4 913.8,195.9 913.8,194.4 913.8,192.9 913.9,191.3 913.9,189.8 913.9,188.3 913.9,186.8 913.9,185.3 913.9,183.8 913.9,182.3 913.8,180.8 913.7,179.3 913.6,177.8 913.5,176.3 913.5,174.8 913.4,173.3 913.4,171.8 913.3,170.3 913.5,168.8 913.8,167.3 914.1,165.8 914.4,164.3 914.4,162.8 914.1,161.3 913.6,159.8 913.0,158.3 912.6,156.8 912.4,155.3 912.6,153.8 913.1,152.3 913.7,150.8 914.3,149.3 914.6,147.8 914.6,146.3 914.3,144.8 913.8,143.3 913.2,141.8 912.5,140.3 911.8,138.8 911.2,137.3Z" fill="#00BFC4" stroke="#333333" stroke-width="2" stroke-linejoin="round"/>
<line x1="915.3" y1="235.6" x2="915.3" y2="268.4" stroke="#333333" stroke-width="1.8"/>
<line x1="915.3" y1="301.2" x2="915.3" y2="334.0" stroke="#333333" stroke-width="1.8"/>
<rect x="910.4" y="268.4" width="9.9" height="32.8" fill="#00BFC4" stroke="#333333" stroke-width="1.8"/>
<line x1="910.4" y1="301.2" x2="920.3" y2="301.2" stroke="#333333" stroke-width="3.4"/>
<rect x="984.5" y="127.4" width="209.2" height="215.9" fill="#fff" stroke="#666" stroke-width="1.4"/>
<path d="M1046.3,137.3 1045.8,138.8 1045.3,140.3 1044.8,141.8 1044.4,143.3 1044.2,144.8 1044.2,146.3 1044.4,147.8 1044.8,149.3 1045.3,150.8 1045.9,152.3 1046.6,153.8 1047.4,155.3 1048.2,156.8 1049.0,158.3 1049.8,159.8 1050.5,161.3 1051.1,162.8 1051.7,164.3 1052.1,165.8 1052.3,167.3 1052.3,168.8 1052.1,170.3 1051.7,171.8 1051.0,173.3 1050.2,174.8 1049.3,176.3 1048.4,177.8 1047.4,179.3 1046.6,180.8 1045.9,182.3 1045.3,183.8 1044.9,185.3 1044.9,186.8 1045.0,188.3 1045.4,189.8 1045.9,191.3 1046.4,192.9 1047.0,194.4 1047.6,195.9 1048.1,197.4 1048.5,198.9 1048.7,200.4 1048.7,201.9 1048.7,203.4 1048.5,204.9 1048.4,206.4 1048.2,207.9 1048.0,209.4 1047.8,210.9 1047.7,212.4 1047.7,213.9 1047.9,215.4 1048.8,216.9 1050.5,218.4 1052.6,219.9 1055.2,221.4 1058.2,222.9 1061.2,224.4 1064.4,225.9 1067.4,227.4 1070.3,228.9 1072.8,230.4 1074.9,231.9 1076.4,233.4 1077.2,234.9 1077.2,236.4 1076.3,237.9 1074.6,239.4 1072.4,240.9 1069.7,242.4 1066.9,243.9 1064.1,245.4 1061.5,246.9 1059.3,248.4 1057.7,249.9 1056.8,251.4 1057.0,252.9 1058.4,254.4 1060.7,255.9 1063.8,257.4 1067.5,258.9 1071.3,260.4 1075.1,261.9 1078.6,263.4 1081.6,264.9 1083.7,266.4 1084.8,267.9 1084.5,269.4 1082.7,270.9 1079.8,272.4 1076.0,273.9 1071.6,275.4 1066.9,276.9 1062.4,278.4 1058.2,279.9 1054.7,281.4 1052.2,282.9 1051.0,284.4 1051.0,285.9 1051.3,287.4 1051.6,288.9 1052.1,290.4 1052.7,291.9 1053.3,293.4 1053.9,294.9 1054.4,296.4 1054.8,297.9 1055.1,299.4 1055.3,300.9 1055.1,302.5 1054.6,304.0 1053.9,305.5 1052.9,307.0 1051.9,308.5 1050.8,310.0 1049.9,311.5 1049.1,313.0 1048.6,314.5 1048.4,316.0 1048.5,317.5 1048.9,319.0 1049.5,320.5 1050.2,322.0 1051.2,323.5 1052.2,325.0 1053.3,326.5 1054.4,328.0 1055.5,329.5 1056.6,331.0 1057.6,332.5 1058.6,334.0 1024.6,334.0 1025.5,332.5 1026.5,331.0 1027.6,329.5 1028.7,328.0 1029.8,326.5 1030.9,325.0 1031.9,323.5 1032.9,322.0 1033.6,320.5 1034.2,319.0 1034.6,317.5 1034.8,316.0 1034.6,314.5 1034.0,313.0 1033.2,311.5 1032.3,310.0 1031.2,308.5 1030.2,307.0 1029.2,305.5 1028.5,304.0 1028.0,302.5 1027.9,300.9 1028.0,299.4 1028.3,297.9 1028.7,296.4 1029.3,294.9 1029.8,293.4 1030.4,291.9 1031.0,290.4 1031.5,288.9 1031.9,287.4 1032.1,285.9 1032.1,284.4 1030.9,282.9 1028.4,281.4 1024.9,279.9 1020.7,278.4 1016.2,276.9 1011.5,275.4 1007.2,273.9 1003.3,272.4 1000.4,270.9 998.6,269.4 998.3,267.9 999.4,266.4 1001.6,264.9 1004.5,263.4 1008.0,261.9 1011.8,260.4 1015.7,258.9 1019.3,257.4 1022.4,255.9 1024.8,254.4 1026.1,252.9 1026.3,251.4 1025.4,249.9 1023.8,248.4 1021.6,246.9 1019.0,245.4 1016.2,243.9 1013.4,242.4 1010.7,240.9 1008.5,239.4 1006.8,237.9 1005.9,236.4 1005.9,234.9 1006.7,233.4 1008.2,231.9 1010.3,230.4 1012.8,228.9 1015.7,227.4 1018.7,225.9 1021.9,224.4 1025.0,222.9 1027.9,221.4 1030.5,219.9 1032.7,218.4 1034.3,216.9 1035.2,215.4 1035.5,213.9 1035.4,212.4 1035.3,210.9 1035.1,209.4 1034.9,207.9 1034.7,206.4 1034.6,204.9 1034.4,203.4 1034.4,201.9 1034.4,200.4 1034.6,198.9 1035.0,197.4 1035.5,195.9 1036.1,194.4 1036.7,192.9 1037.3,191.3 1037.7,189.8 1038.1,188.3 1038.2,186.8 1038.2,185.3 1037.8,183.8 1037.3,182.3 1036.5,180.8 1035.7,179.3 1034.7,177.8 1033.8,176.3 1032.9,174.8 1032.1,173.3 1031.5,171.8 1031.0,170.3 1030.8,168.8 1030.8,167.3 1031.0,165.8 1031.5,164.3 1032.0,162.8 1032.6,161.3 1033.4,159.8 1034.1,158.3 1034.9,156.8 1035.7,155.3 1036.5,153.8 1037.2,152.3 1037.8,150.8 1038.3,149.3 1038.7,147.8 1038.9,146.3 1038.9,144.8 1038.7,143.3 1038.3,141.8 1037.8,140.3 1037.3,138.8 1036.9,137.3Z" fill="#F8766D" stroke="#333333" stroke-width="2" stroke-linejoin="round"/>
<line x1="1041.6" y1="202.9" x2="1041.6" y2="235.6" stroke="#333333" stroke-width="1.8"/>
<line x1="1041.6" y1="268.4" x2="1041.6" y2="301.2" stroke="#333333" stroke-width="1.8"/>
<rect x="1036.6" y="235.6" width="9.9" height="32.8" fill="#F8766D" stroke="#333333" stroke-width="1.8"/>
<line x1="1036.6" y1="268.4" x2="1046.5" y2="268.4" stroke="#333333" stroke-width="3.4"/>
<path d="M1142.4,137.3 1142.7,138.8 1143.0,140.3 1143.4,141.8 1143.7,143.3 1144.0,144.8 1144.3,146.3 1144.6,147.8 1144.9,149.3 1145.1,150.8 1145.4,152.3 1145.7,153.8 1145.9,155.3 1146.2,156.8 1146.4,158.3 1146.6,159.8 1146.8,161.3 1147.0,162.8 1147.2,164.3 1147.4,165.8 1147.6,167.3 1147.7,168.8 1147.9,170.3 1148.0,171.8 1148.0,173.3 1148.1,174.8 1148.1,176.3 1148.1,177.8 1148.1,179.3 1148.2,180.8 1148.2,182.3 1148.2,183.8 1148.3,185.3 1148.4,186.8 1148.5,188.3 1148.5,189.8 1148.6,191.3 1148.7,192.9 1148.8,194.4 1148.9,195.9 1149.1,197.4 1149.3,198.9 1149.5,200.4 1149.7,201.9 1150.1,203.4 1150.5,204.9 1150.9,206.4 1151.4,207.9 1152.0,209.4 1152.5,210.9 1153.1,212.4 1153.7,213.9 1154.2,215.4 1154.8,216.9 1155.2,218.4 1155.6,219.9 1156.0,221.4 1156.3,222.9 1156.6,224.4 1156.9,225.9 1157.2,227.4 1157.5,228.9 1157.7,230.4 1157.9,231.9 1158.0,233.4 1158.2,234.9 1158.3,236.4 1158.4,237.9 1158.5,239.4 1158.5,240.9 1158.6,242.4 1158.6,243.9 1158.6,245.4 1158.6,246.9 1158.6,248.4 1158.6,249.9 1158.6,251.4 1158.6,252.9 1158.5,254.4 1158.4,255.9 1158.1,257.4 1157.8,258.9 1157.5,260.4 1157.2,261.9 1156.8,263.4 1156.4,264.9 1156.1,266.4 1155.7,267.9 1155.4,269.4 1155.2,270.9 1154.9,272.4 1154.5,273.9 1154.2,275.4 1153.9,276.9 1153.6,278.4 1153.3,279.9 1153.0,281.4 1152.7,282.9 1152.3,284.4 1152.0,285.9 1151.6,287.4 1151.3,288.9 1150.9,290.4 1150.6,291.9 1150.2,293.4 1149.8,294.9 1149.5,296.4 1149.1,297.9 1148.8,299.4 1148.5,300.9 1148.2,302.5 1147.9,304.0 1147.6,305.5 1147.4,307.0 1147.1,308.5 1146.9,310.0 1146.6,311.5 1146.4,313.0 1146.1,314.5 1145.9,316.0 1145.7,317.5 1145.4,319.0 1145.2,320.5 1145.0,322.0 1144.7,323.5 1144.5,325.0 1144.3,326.5 1144.0,328.0 1143.8,329.5 1143.6,331.0 1143.4,332.5 1143.1,334.0 1130.1,334.0 1129.9,332.5 1129.7,331.0 1129.5,329.5 1129.2,328.0 1129.0,326.5 1128.8,325.0 1128.6,323.5 1128.3,322.0 1128.1,320.5 1127.9,319.0 1127.6,317.5 1127.4,316.0 1127.1,314.5 1126.9,313.0 1126.7,311.5 1126.4,310.0 1126.2,308.5 1125.9,307.0 1125.7,305.5 1125.4,304.0 1125.1,302.5 1124.8,300.9 1124.5,299.4 1124.1,297.9 1123.8,296.4 1123.5,294.9 1123.1,293.4 1122.7,291.9 1122.4,290.4 1122.0,288.9 1121.6,287.4 1121.3,285.9 1121.0,284.4 1120.6,282.9 1120.3,281.4 1120.0,279.9 1119.7,278.4 1119.4,276.9 1119.0,275.4 1118.7,273.9 1118.4,272.4 1118.1,270.9 1117.8,269.4 1117.5,267.9 1117.2,266.4 1116.9,264.9 1116.5,263.4 1116.1,261.9 1115.8,260.4 1115.5,258.9 1115.2,257.4 1114.9,255.9 1114.8,254.4 1114.7,252.9 1114.6,251.4 1114.6,249.9 1114.6,248.4 1114.7,246.9 1114.7,245.4 1114.7,243.9 1114.7,242.4 1114.8,240.9 1114.8,239.4 1114.9,237.9 1115.0,236.4 1115.1,234.9 1115.2,233.4 1115.4,231.9 1115.6,230.4 1115.8,228.9 1116.1,227.4 1116.4,225.9 1116.7,224.4 1117.0,222.9 1117.3,221.4 1117.7,219.9 1118.1,218.4 1118.5,216.9 1119.0,215.4 1119.6,213.9 1120.2,212.4 1120.7,210.9 1121.3,209.4 1121.9,207.9 1122.4,206.4 1122.8,204.9 1123.2,203.4 1123.6,201.9 1123.8,200.4 1124.0,198.9 1124.2,197.4 1124.4,195.9 1124.5,194.4 1124.6,192.9 1124.7,191.3 1124.8,189.8 1124.8,188.3 1124.9,186.8 1125.0,185.3 1125.1,183.8 1125.1,182.3 1125.1,180.8 1125.1,179.3 1125.2,177.8 1125.2,176.3 1125.2,174.8 1125.3,173.3 1125.3,171.8 1125.4,170.3 1125.6,168.8 1125.7,167.3 1125.9,165.8 1126.1,164.3 1126.2,162.8 1126.5,161.3 1126.7,159.8 1126.9,158.3 1127.1,156.8 1127.4,155.3 1127.6,153.8 1127.9,152.3 1128.1,150.8 1128.4,149.3 1128.7,147.8 1129.0,146.3 1129.3,144.8 1129.6,143.3 1129.9,141.8 1130.2,140.3 1130.5,138.8 1130.8,137.3Z" fill="#00BFC4" stroke="#333333" stroke-width="2" stroke-linejoin="round"/>
<line x1="1136.6" y1="137.3" x2="1136.6" y2="202.9" stroke="#333333" stroke-width="1.8"/>
<line x1="1136.6" y1="268.4" x2="1136.6" y2="334.0" stroke="#333333" stroke-width="1.8"/>
<rect x="1131.7" y="202.9" width="9.9" height="65.6" fill="#00BFC4" stroke="#333333" stroke-width="1.8"/>
<line x1="1131.7" y1="235.6" x2="1141.6" y2="235.6" stroke="#333333" stroke-width="3.4"/>
<rect x="1205.8" y="127.4" width="209.2" height="215.9" fill="#fff" stroke="#666" stroke-width="1.4"/>
<path d="M1271.6,137.3 1272.5,138.8 1273.5,140.3 1274.5,141.8 1275.5,143.3 1276.6,144.8 1277.6,146.3 1278.5,147.8 1279.5,149.3 1280.4,150.8 1281.2,152.3 1282.0,153.8 1282.8,155.3 1283.6,156.8 1284.4,158.3 1285.1,159.8 1285.8,161.3 1286.5,162.8 1287.1,164.3 1287.5,165.8 1287.9,167.3 1288.1,168.8 1288.2,170.3 1288.0,171.8 1287.8,173.3 1287.5,174.8 1287.1,176.3 1286.6,177.8 1286.2,179.3 1285.8,180.8 1285.4,182.3 1285.1,183.8 1284.9,185.3 1284.9,186.8 1284.9,188.3 1284.9,189.8 1285.0,191.3 1285.1,192.9 1285.2,194.4 1285.5,195.9 1285.8,197.4 1286.2,198.9 1286.6,200.4 1287.2,201.9 1287.9,203.4 1288.8,204.9 1289.8,206.4 1291.0,207.9 1292.3,209.4 1293.6,210.9 1295.0,212.4 1296.3,213.9 1297.6,215.4 1298.8,216.9 1299.8,218.4 1300.7,219.9 1301.6,221.4 1302.4,222.9 1303.2,224.4 1303.9,225.9 1304.6,227.4 1305.1,228.9 1305.6,230.4 1306.0,231.9 1306.3,233.4 1306.4,234.9 1306.4,236.4 1306.3,237.9 1306.0,239.4 1305.6,240.9 1305.0,242.4 1304.4,243.9 1303.8,245.4 1303.0,246.9 1302.3,248.4 1301.5,249.9 1300.7,251.4 1299.9,252.9 1299.0,254.4 1298.1,255.9 1297.1,257.4 1296.0,258.9 1295.0,260.4 1293.9,261.9 1292.8,263.4 1291.8,264.9 1290.8,266.4 1289.8,267.9 1289.0,269.4 1288.1,270.9 1287.3,272.4 1286.5,273.9 1285.7,275.4 1285.0,276.9 1284.3,278.4 1283.5,279.9 1282.8,281.4 1282.2,282.9 1281.5,284.4 1280.9,285.9 1280.3,287.4 1279.7,288.9 1279.2,290.4 1278.6,291.9 1278.1,293.4 1277.6,294.9 1277.1,296.4 1276.6,297.9 1276.1,299.4 1275.6,300.9 1275.1,302.5 1274.6,304.0 1274.0,305.5 1273.5,307.0 1272.9,308.5 1272.4,310.0 1271.9,311.5 1271.4,313.0 1270.9,314.5 1270.5,316.0 1270.1,317.5 1269.7,319.0 1269.4,320.5 1269.1,322.0 1268.9,323.5 1268.6,325.0 1268.4,326.5 1268.2,328.0 1268.0,329.5 1267.8,331.0 1267.6,332.5 1267.4,334.0 1258.4,334.0 1258.1,332.5 1257.9,331.0 1257.7,329.5 1257.5,328.0 1257.3,326.5 1257.1,325.0 1256.8,323.5 1256.6,322.0 1256.3,320.5 1256.0,319.0 1255.6,317.5 1255.2,316.0 1254.8,314.5 1254.3,313.0 1253.8,311.5 1253.3,310.0 1252.8,308.5 1252.2,307.0 1251.7,305.5 1251.1,304.0 1250.6,302.5 1250.1,300.9 1249.6,299.4 1249.1,297.9 1248.6,296.4 1248.1,294.9 1247.6,293.4 1247.1,291.9 1246.5,290.4 1246.0,288.9 1245.4,287.4 1244.8,285.9 1244.2,284.4 1243.5,282.9 1242.9,281.4 1242.2,279.9 1241.5,278.4 1240.7,276.9 1240.0,275.4 1239.2,273.9 1238.4,272.4 1237.6,270.9 1236.7,269.4 1235.9,267.9 1234.9,266.4 1233.9,264.9 1232.9,263.4 1231.8,261.9 1230.8,260.4 1229.7,258.9 1228.6,257.4 1227.6,255.9 1226.7,254.4 1225.8,252.9 1225.0,251.4 1224.2,249.9 1223.5,248.4 1222.7,246.9 1222.0,245.4 1221.3,243.9 1220.7,242.4 1220.1,240.9 1219.7,239.4 1219.4,237.9 1219.3,236.4 1219.3,234.9 1219.4,233.4 1219.7,231.9 1220.1,230.4 1220.6,228.9 1221.2,227.4 1221.8,225.9 1222.5,224.4 1223.3,222.9 1224.1,221.4 1225.0,219.9 1225.9,218.4 1226.9,216.9 1228.1,215.4 1229.4,213.9 1230.7,212.4 1232.1,210.9 1233.4,209.4 1234.7,207.9 1235.9,206.4 1236.9,204.9 1237.8,203.4 1238.5,201.9 1239.1,200.4 1239.6,198.9 1239.9,197.4 1240.2,195.9 1240.5,194.4 1240.6,192.9 1240.7,191.3 1240.8,189.8 1240.8,188.3 1240.9,186.8 1240.8,185.3 1240.6,183.8 1240.3,182.3 1240.0,180.8 1239.5,179.3 1239.1,177.8 1238.6,176.3 1238.2,174.8 1237.9,173.3 1237.7,171.8 1237.6,170.3 1237.6,168.8 1237.8,167.3 1238.2,165.8 1238.6,164.3 1239.2,162.8 1239.9,161.3 1240.6,159.8 1241.3,158.3 1242.1,156.8 1242.9,155.3 1243.7,153.8 1244.5,152.3 1245.3,150.8 1246.2,149.3 1247.2,147.8 1248.2,146.3 1249.2,144.8 1250.2,143.3 1251.2,141.8 1252.2,140.3 1253.2,138.8 1254.2,137.3Z" fill="#F8766D" stroke="#333333" stroke-width="2" stroke-linejoin="round"/>
<line x1="1262.9" y1="137.3" x2="1262.9" y2="194.7" stroke="#333333" stroke-width="1.8"/>
<line x1="1262.9" y1="268.4" x2="1262.9" y2="334.0" stroke="#333333" stroke-width="1.8"/>
<rect x="1257.9" y="194.7" width="9.9" height="73.8" fill="#F8766D" stroke="#333333" stroke-width="1.8"/>
<line x1="1257.9" y1="235.6" x2="1267.8" y2="235.6" stroke="#333333" stroke-width="3.4"/>
<path d="M1376.7,137.3 1377.5,138.8 1378.3,140.3 1379.1,141.8 1379.9,143.3 1380.7,144.8 1381.5,146.3 1382.3,147.8 1383.0,149.3 1383.8,150.8 1384.5,152.3 1385.1,153.8 1385.8,155.3 1386.4,156.8 1387.1,158.4 1387.8,159.9 1388.4,161.4 1389.0,162.9 1389.5,164.4 1389.9,165.9 1390.2,167.4 1390.4,168.9 1390.4,170.4 1390.4,171.9 1390.4,173.4 1390.3,174.9 1390.2,176.4 1390.1,177.9 1390.0,179.4 1389.9,180.9 1389.8,182.4 1389.6,183.9 1389.5,185.4 1389.4,186.9 1389.3,188.4 1389.1,189.9 1388.9,191.4 1388.7,192.9 1388.6,194.4 1388.4,195.9 1388.2,197.4 1388.1,199.0 1388.0,200.5 1388.0,202.0 1387.9,203.5 1388.0,205.0 1388.0,206.5 1388.1,208.0 1388.2,209.5 1388.2,211.0 1388.3,212.5 1388.4,214.0 1388.5,215.5 1388.5,217.0 1388.5,218.5 1388.5,220.0 1388.5,221.5 1388.5,223.0 1388.5,224.5 1388.5,226.0 1388.5,227.5 1388.4,229.0 1388.3,230.5 1388.3,232.0 1388.1,233.5 1388.0,235.0 1387.8,236.5 1387.5,238.0 1387.0,239.5 1386.4,241.1 1385.8,242.6 1385.0,244.1 1384.2,245.6 1383.5,247.1 1382.7,248.6 1381.9,250.1 1381.2,251.6 1380.6,253.1 1379.9,254.6 1379.3,256.1 1378.6,257.6 1377.9,259.1 1377.3,260.6 1376.6,262.1 1376.0,263.6 1375.4,265.1 1374.8,266.6 1374.2,268.1 1373.7,269.6 1373.2,271.1 1372.8,272.6 1372.3,274.1 1371.9,275.6 1371.4,277.1 1371.0,278.6 1370.7,280.1 1370.3,281.7 1370.0,283.2 1369.8,284.7 1369.5,286.2 1369.4,287.7 1369.2,289.2 1369.1,290.7 1369.1,292.2 1369.0,293.7 1369.0,295.2 1368.9,296.7 1368.9,298.2 1368.8,299.7 1368.7,301.2 1347.1,301.2 1347.1,299.7 1347.0,298.2 1347.0,296.7 1346.9,295.2 1346.9,293.7 1346.8,292.2 1346.8,290.7 1346.7,289.2 1346.5,287.7 1346.3,286.2 1346.1,284.7 1345.9,283.2 1345.5,281.7 1345.2,280.1 1344.8,278.6 1344.5,277.1 1344.0,275.6 1343.6,274.1 1343.1,272.6 1342.7,271.1 1342.2,269.6 1341.6,268.1 1341.1,266.6 1340.5,265.1 1339.9,263.6 1339.3,262.1 1338.6,260.6 1338.0,259.1 1337.3,257.6 1336.6,256.1 1335.9,254.6 1335.3,253.1 1334.7,251.6 1334.0,250.1 1333.2,248.6 1332.4,247.1 1331.6,245.6 1330.9,244.1 1330.1,242.6 1329.5,241.1 1328.9,239.5 1328.4,238.0 1328.1,236.5 1327.9,235.0 1327.7,233.5 1327.6,232.0 1327.5,230.5 1327.5,229.0 1327.4,227.5 1327.4,226.0 1327.4,224.5 1327.4,223.0 1327.3,221.5 1327.3,220.0 1327.3,218.5 1327.4,217.0 1327.4,215.5 1327.5,214.0 1327.6,212.5 1327.6,211.0 1327.7,209.5 1327.8,208.0 1327.9,206.5 1327.9,205.0 1327.9,203.5 1327.9,202.0 1327.9,200.5 1327.8,199.0 1327.7,197.4 1327.5,195.9 1327.3,194.4 1327.1,192.9 1327.0,191.4 1326.8,189.9 1326.6,188.4 1326.5,186.9 1326.4,185.4 1326.2,183.9 1326.1,182.4 1326.0,180.9 1325.9,179.4 1325.8,177.9 1325.7,176.4 1325.6,174.9 1325.5,173.4 1325.5,171.9 1325.4,170.4 1325.5,168.9 1325.7,167.4 1326.0,165.9 1326.4,164.4 1326.9,162.9 1327.5,161.4 1328.1,159.9 1328.8,158.4 1329.5,156.8 1330.1,155.3 1330.8,153.8 1331.4,152.3 1332.1,150.8 1332.8,149.3 1333.6,147.8 1334.4,146.3 1335.2,144.8 1336.0,143.3 1336.8,141.8 1337.6,140.3 1338.4,138.8 1339.1,137.3Z" fill="#00BFC4" stroke="#333333" stroke-width="2" stroke-linejoin="round"/>
<line x1="1357.9" y1="137.3" x2="1357.9" y2="170.1" stroke="#333333" stroke-width="1.8"/>
<line x1="1357.9" y1="235.6" x2="1357.9" y2="301.2" stroke="#333333" stroke-width="1.8"/>
<rect x="1353.0" y="170.1" width="9.9" height="65.6" fill="#00BFC4" stroke="#333333" stroke-width="1.8"/>
<line x1="1353.0" y1="202.9" x2="1362.9" y2="202.9" stroke="#333333" stroke-width="3.4"/>
<line x1="99.3" y1="126.7" x2="99.3" y2="344.0" stroke="#000" stroke-width="1.9"/>
<line x1="93.6" y1="334.0" x2="99.3" y2="334.0" stroke="#222" stroke-width="1.6"/>
<text transform="translate(88.3,343.0) scale(0.9,1)" text-anchor="end" font-family="&quot;Liberation Serif&quot;, serif" font-size="26.5" fill="#4D4D4D">1</text>
<line x1="93.6" y1="301.2" x2="99.3" y2="301.2" stroke="#222" stroke-width="1.6"/>
<text transform="translate(88.3,310.2) scale(0.9,1)" text-anchor="end" font-family="&quot;Liberation Serif&quot;, serif" font-size="26.5" fill="#4D4D4D">2</text>
<line x1="93.6" y1="268.4" x2="99.3" y2="268.4" stroke="#222" stroke-width="1.6"/>
<text transform="translate(88.3,277.4) scale(0.9,1)" text-anchor="end" font-family="&quot;Liberation Serif&quot;, serif" font-size="26.5" fill="#4D4D4D">3</text>
<line x1="93.6" y1="235.6" x2="99.3" y2="235.6" stroke="#222" stroke-width="1.6"/>
<text transform="translate(88.3,244.6) scale(0.9,1)" text-anchor="end" font-family="&quot;Liberation Serif&quot;, serif" font-size="26.5" fill="#4D4D4D">4</text>
<line x1="93.6" y1="202.9" x2="99.3" y2="202.9" stroke="#222" stroke-width="1.6"/>
<text transform="translate(88.3,211.9) scale(0.9,1)" text-anchor="end" font-family="&quot;Liberation Serif&quot;, serif" font-size="26.5" fill="#4D4D4D">5</text>
<line x1="93.6" y1="170.1" x2="99.3" y2="170.1" stroke="#222" stroke-width="1.6"/>
<text transform="translate(88.3,179.1) scale(0.9,1)" text-anchor="end" font-family="&quot;Liberation Serif&quot;, serif" font-size="26.5" fill="#4D4D4D">6</text>
<line x1="93.6" y1="137.3" x2="99.3" y2="137.3" stroke="#222" stroke-width="1.6"/>
<text transform="translate(88.3,146.3) scale(0.9,1)" text-anchor="end" font-family="&quot;Liberation Serif&quot;, serif" font-size="26.5" fill="#4D4D4D">7</text>
<rect x="99.3" y="354.7" width="209.2" height="215.9" fill="#fff" stroke="#666" stroke-width="1.4"/>
<path d="M174.0,364.6 174.1,366.1 174.2,367.6 174.4,369.1 174.5,370.6 174.6,372.1 174.8,373.6 174.9,375.1 175.0,376.6 175.2,378.1 175.3,379.6 175.5,381.1 175.6,382.6 175.7,384.1 175.8,385.6 175.9,387.1 176.1,388.6 176.2,390.1 176.3,391.6 176.5,393.1 176.7,394.6 177.0,396.1 177.3,397.6 177.7,399.1 178.1,400.6 178.5,402.1 179.0,403.6 179.5,405.1 180.1,406.6 180.6,408.1 181.2,409.6 181.7,411.1 182.3,412.6 182.8,414.1 183.3,415.6 183.9,417.1 184.4,418.6 185.0,420.2 185.6,421.7 186.2,423.2 186.7,424.7 187.3,426.2 187.9,427.7 188.5,429.2 189.0,430.7 189.6,432.2 190.3,433.7 190.9,435.2 191.5,436.7 192.1,438.2 192.7,439.7 193.3,441.2 193.9,442.7 194.4,444.2 194.8,445.7 195.2,447.2 195.6,448.7 195.9,450.2 196.2,451.7 196.4,453.2 196.6,454.7 196.8,456.2 196.9,457.7 197.0,459.2 197.1,460.7 197.2,462.2 197.1,463.7 197.1,465.2 196.9,466.7 196.6,468.2 196.3,469.7 196.0,471.2 195.5,472.7 195.1,474.2 194.5,475.7 194.0,477.2 193.4,478.7 192.8,480.2 192.1,481.7 191.3,483.2 190.5,484.7 189.6,486.2 188.7,487.7 187.7,489.2 186.8,490.7 185.9,492.2 185.1,493.7 184.3,495.2 183.6,496.7 182.9,498.2 182.2,499.7 181.6,501.2 181.0,502.7 180.4,504.2 179.8,505.7 179.2,507.2 178.6,508.7 178.0,510.2 177.4,511.7 176.8,513.2 176.1,514.7 175.4,516.2 174.8,517.7 174.1,519.2 173.4,520.7 172.7,522.2 172.1,523.7 171.4,525.2 170.8,526.7 170.2,528.2 169.5,529.8 168.9,531.3 168.3,532.8 167.7,534.3 167.1,535.8 166.5,537.3 165.9,538.8 165.3,540.3 164.8,541.8 164.3,543.3 163.9,544.8 163.5,546.3 163.1,547.8 162.8,549.3 162.6,550.8 162.3,552.3 162.1,553.8 161.9,555.3 161.7,556.8 161.4,558.3 161.2,559.8 161.0,561.3 151.8,561.3 151.5,559.8 151.3,558.3 151.0,556.8 150.8,555.3 150.6,553.8 150.4,552.3 150.1,550.8 149.9,549.3 149.6,547.8 149.2,546.3 148.8,544.8 148.4,543.3 147.9,541.8 147.4,540.3 146.8,538.8 146.2,537.3 145.6,535.8 145.0,534.3 144.4,532.8 143.8,531.3 143.2,529.8 142.6,528.2 141.9,526.7 141.3,525.2 140.6,523.7 140.0,522.2 139.3,520.7 138.6,519.2 137.9,517.7 137.3,516.2 136.6,514.7 135.9,513.2 135.3,511.7 134.7,510.2 134.1,508.7 133.5,507.2 132.9,505.7 132.3,504.2 131.7,502.7 131.1,501.2 130.5,499.7 129.8,498.2 129.1,496.7 128.4,495.2 127.6,493.7 126.8,492.2 125.9,490.7 125.0,489.2 124.0,487.7 123.1,486.2 122.2,484.7 121.4,483.2 120.6,481.7 119.9,480.2 119.3,478.7 118.7,477.2 118.2,475.7 117.7,474.2 117.2,472.7 116.8,471.2 116.4,469.7 116.1,468.2 115.8,466.7 115.7,465.2 115.6,463.7 115.6,462.2 115.6,460.7 115.7,459.2 115.8,457.7 115.9,456.2 116.1,454.7 116.3,453.2 116.6,451.7 116.8,450.2 117.1,448.7 117.5,447.2 117.9,445.7 118.3,444.2 118.8,442.7 119.4,441.2 120.0,439.7 120.6,438.2 121.2,436.7 121.8,435.2 122.5,433.7 123.1,432.2 123.7,430.7 124.2,429.2 124.8,427.7 125.4,426.2 126.0,424.7 126.5,423.2 127.1,421.7 127.7,420.2 128.3,418.6 128.8,417.1 129.4,415.6 129.9,414.1 130.5,412.6 131.0,411.1 131.6,409.6 132.1,408.1 132.7,406.6 133.2,405.1 133.7,403.6 134.2,402.1 134.6,400.6 135.0,399.1 135.4,397.6 135.7,396.1 136.0,394.6 136.2,393.1 136.4,391.6 136.5,390.1 136.6,388.6 136.8,387.1 136.9,385.6 137.0,384.1 137.1,382.6 137.2,381.1 137.4,379.6 137.5,378.1 137.7,376.6 137.8,375.1 138.0,373.6 138.1,372.1 138.2,370.6 138.4,369.1 138.5,367.6 138.6,366.1 138.8,364.6Z" fill="#F8766D" stroke="#333333" stroke-width="2" stroke-linejoin="round"/>
<line x1="156.4" y1="364.6" x2="156.4" y2="404.9" stroke="#333333" stroke-width="1.8"/>
<line x1="156.4" y1="495.7" x2="156.4" y2="561.3" stroke="#333333" stroke-width="1.8"/>
<rect x="151.4" y="404.9" width="9.9" height="90.8" fill="#F8766D" stroke="#333333" stroke-width="1.8"/>
<line x1="151.4" y1="462.9" x2="161.3" y2="462.9" stroke="#333333" stroke-width="3.4"/>
<path d="M271.6,364.6 272.3,366.1 273.0,367.6 273.7,369.1 274.4,370.6 275.1,372.1 275.8,373.6 276.5,375.1 277.1,376.6 277.6,378.1 278.2,379.6 278.6,381.1 279.0,382.6 279.3,384.1 279.5,385.7 279.8,387.2 279.9,388.7 280.1,390.2 280.2,391.7 280.3,393.2 280.3,394.7 280.3,396.2 280.3,397.7 280.3,399.2 280.2,400.7 280.0,402.2 279.8,403.7 279.6,405.2 279.4,406.7 279.2,408.2 279.1,409.7 278.9,411.2 278.9,412.7 278.9,414.2 278.9,415.7 279.2,417.2 279.4,418.7 279.8,420.2 280.3,421.7 280.8,423.2 281.3,424.7 281.9,426.3 282.5,427.8 283.1,429.3 283.7,430.8 284.4,432.3 285.1,433.8 285.9,435.3 286.7,436.8 287.5,438.3 288.4,439.8 289.2,441.3 290.0,442.8 290.7,444.3 291.3,445.8 291.8,447.3 292.3,448.8 292.7,450.3 293.2,451.8 293.5,453.3 293.9,454.8 294.2,456.3 294.4,457.8 294.6,459.3 294.7,460.8 294.7,462.3 294.7,463.8 294.4,465.3 293.8,466.8 293.1,468.4 292.1,469.9 291.1,471.4 289.9,472.9 288.7,474.4 287.4,475.9 286.2,477.4 285.0,478.9 283.8,480.4 282.5,481.9 281.2,483.4 279.7,484.9 278.3,486.4 276.8,487.9 275.4,489.4 274.0,490.9 272.7,492.4 271.5,493.9 270.4,495.4 269.5,496.9 268.7,498.4 268.0,499.9 267.4,501.4 266.8,502.9 266.3,504.4 265.8,505.9 265.4,507.4 265.1,509.0 264.8,510.5 264.6,512.0 264.4,513.5 264.2,515.0 264.1,516.5 264.0,518.0 264.0,519.5 263.9,521.0 263.9,522.5 263.9,524.0 263.8,525.5 263.8,527.0 263.7,528.5 239.1,528.5 239.1,527.0 239.0,525.5 239.0,524.0 239.0,522.5 239.0,521.0 238.9,519.5 238.9,518.0 238.8,516.5 238.7,515.0 238.5,513.5 238.3,512.0 238.1,510.5 237.8,509.0 237.5,507.4 237.1,505.9 236.6,504.4 236.1,502.9 235.5,501.4 234.9,499.9 234.2,498.4 233.4,496.9 232.5,495.4 231.4,493.9 230.2,492.4 228.9,490.9 227.5,489.4 226.1,487.9 224.6,486.4 223.1,484.9 221.7,483.4 220.3,481.9 219.1,480.4 217.9,478.9 216.7,477.4 215.5,475.9 214.2,474.4 213.0,472.9 211.8,471.4 210.8,469.9 209.8,468.4 209.1,466.8 208.5,465.3 208.2,463.8 208.2,462.3 208.2,460.8 208.3,459.3 208.5,457.8 208.7,456.3 209.0,454.8 209.4,453.3 209.7,451.8 210.1,450.3 210.6,448.8 211.1,447.3 211.6,445.8 212.2,444.3 212.9,442.8 213.7,441.3 214.5,439.8 215.3,438.3 216.2,436.8 217.0,435.3 217.8,433.8 218.5,432.3 219.2,430.8 219.8,429.3 220.4,427.8 221.0,426.3 221.6,424.7 222.1,423.2 222.6,421.7 223.1,420.2 223.4,418.7 223.7,417.2 223.9,415.7 224.0,414.2 224.0,412.7 223.9,411.2 223.8,409.7 223.6,408.2 223.4,406.7 223.2,405.2 223.0,403.7 222.9,402.2 222.7,400.7 222.6,399.2 222.5,397.7 222.6,396.2 222.6,394.7 222.6,393.2 222.7,391.7 222.8,390.2 223.0,388.7 223.1,387.2 223.4,385.7 223.6,384.1 223.9,382.6 224.3,381.1 224.7,379.6 225.2,378.1 225.8,376.6 226.4,375.1 227.1,373.6 227.8,372.1 228.5,370.6 229.2,369.1 229.9,367.6 230.6,366.1 231.2,364.6Z" fill="#00BFC4" stroke="#333333" stroke-width="2" stroke-linejoin="round"/>
<line x1="251.4" y1="364.6" x2="251.4" y2="397.4" stroke="#333333" stroke-width="1.8"/>
<line x1="251.4" y1="462.9" x2="251.4" y2="528.5" stroke="#333333" stroke-width="1.8"/>
<rect x="246.5" y="397.4" width="9.9" height="65.6" fill="#00BFC4" stroke="#333333" stroke-width="1.8"/>
<line x1="246.5" y1="462.9" x2="256.4" y2="462.9" stroke="#333333" stroke-width="3.4"/>
<rect x="320.6" y="354.7" width="209.2" height="215.9" fill="#fff" stroke="#666" stroke-width="1.4"/>
<path d="M386.8,364.6 386.8,366.1 386.9,367.6 387.0,369.1 387.1,370.6 387.2,372.1 387.3,373.6 387.4,375.1 387.5,376.6 387.6,378.1 387.7,379.6 387.8,381.1 387.8,382.6 387.9,384.1 387.9,385.6 387.9,387.1 388.0,388.6 388.0,390.1 388.0,391.6 388.1,393.1 388.1,394.6 388.1,396.1 388.2,397.6 388.2,399.1 388.2,400.6 388.2,402.1 388.2,403.6 388.3,405.1 388.3,406.6 388.3,408.1 388.4,409.6 388.5,411.1 388.6,412.6 388.7,414.1 388.9,415.6 389.0,417.1 389.3,418.6 389.5,420.2 389.8,421.7 390.1,423.2 390.4,424.7 390.8,426.2 391.1,427.7 391.5,429.2 391.9,430.7 392.3,432.2 392.7,433.7 393.2,435.2 393.7,436.7 394.2,438.2 394.7,439.7 395.2,441.2 395.8,442.7 396.3,444.2 396.8,445.7 397.4,447.2 397.9,448.7 398.5,450.2 399.0,451.7 399.6,453.2 400.2,454.7 400.7,456.2 401.3,457.7 402.0,459.2 402.6,460.7 403.3,462.2 404.0,463.7 404.8,465.2 405.7,466.7 406.5,468.2 407.5,469.7 408.4,471.2 409.3,472.7 410.1,474.2 411.0,475.7 411.7,477.2 412.4,478.7 413.0,480.2 413.5,481.7 414.0,483.2 414.4,484.7 414.8,486.2 415.1,487.7 415.4,489.2 415.7,490.7 415.9,492.2 416.1,493.7 416.3,495.2 416.5,496.7 416.6,498.2 416.7,499.7 416.8,501.2 416.8,502.7 416.9,504.2 416.9,505.7 416.9,507.2 416.9,508.7 417.0,510.2 417.0,511.7 417.0,513.2 416.9,514.7 416.9,516.2 416.9,517.7 416.8,519.2 416.8,520.7 416.7,522.2 416.5,523.7 416.4,525.2 416.1,526.7 415.9,528.2 415.6,529.8 415.3,531.3 414.9,532.8 414.4,534.3 414.0,535.8 413.5,537.3 413.0,538.8 412.5,540.3 412.0,541.8 411.4,543.3 410.9,544.8 410.4,546.3 409.8,547.8 409.2,549.3 408.6,550.8 408.0,552.3 407.4,553.8 406.8,555.3 406.2,556.8 405.6,558.3 405.0,559.8 404.4,561.3 351.0,561.3 350.4,559.8 349.7,558.3 349.1,556.8 348.5,555.3 347.9,553.8 347.3,552.3 346.7,550.8 346.1,549.3 345.5,547.8 344.9,546.3 344.4,544.8 343.9,543.3 343.3,541.8 342.8,540.3 342.3,538.8 341.8,537.3 341.3,535.8 340.9,534.3 340.4,532.8 340.0,531.3 339.7,529.8 339.4,528.2 339.2,526.7 339.0,525.2 338.8,523.7 338.7,522.2 338.5,520.7 338.5,519.2 338.4,517.7 338.4,516.2 338.4,514.7 338.4,513.2 338.4,511.7 338.4,510.2 338.4,508.7 338.4,507.2 338.4,505.7 338.4,504.2 338.5,502.7 338.5,501.2 338.6,499.7 338.7,498.2 338.9,496.7 339.0,495.2 339.2,493.7 339.4,492.2 339.6,490.7 339.9,489.2 340.2,487.7 340.5,486.2 340.9,484.7 341.3,483.2 341.8,481.7 342.3,480.2 342.9,478.7 343.6,477.2 344.3,475.7 345.2,474.2 346.0,472.7 346.9,471.2 347.9,469.7 348.8,468.2 349.7,466.7 350.5,465.2 351.3,463.7 352.0,462.2 352.7,460.7 353.3,459.2 354.0,457.7 354.6,456.2 355.2,454.7 355.7,453.2 356.3,451.7 356.8,450.2 357.4,448.7 357.9,447.2 358.5,445.7 359.0,444.2 359.6,442.7 360.1,441.2 360.6,439.7 361.1,438.2 361.6,436.7 362.1,435.2 362.6,433.7 363.0,432.2 363.4,430.7 363.8,429.2 364.2,427.7 364.5,426.2 364.9,424.7 365.2,423.2 365.5,421.7 365.8,420.2 366.0,418.6 366.3,417.1 366.5,415.6 366.6,414.1 366.7,412.6 366.8,411.1 366.9,409.6 367.0,408.1 367.0,406.6 367.0,405.1 367.1,403.6 367.1,402.1 367.1,400.6 367.1,399.1 367.1,397.6 367.2,396.1 367.2,394.6 367.3,393.1 367.3,391.6 367.3,390.1 367.3,388.6 367.4,387.1 367.4,385.6 367.4,384.1 367.5,382.6 367.5,381.1 367.6,379.6 367.7,378.1 367.8,376.6 367.9,375.1 368.0,373.6 368.1,372.1 368.2,370.6 368.3,369.1 368.4,367.6 368.5,366.1 368.6,364.6Z" fill="#F8766D" stroke="#333333" stroke-width="2" stroke-linejoin="round"/>
<line x1="377.7" y1="364.6" x2="377.7" y2="462.9" stroke="#333333" stroke-width="1.8"/>
<line x1="377.7" y1="528.5" x2="377.7" y2="561.3" stroke="#333333" stroke-width="1.8"/>
<rect x="372.7" y="462.9" width="9.9" height="65.6" fill="#F8766D" stroke="#333333" stroke-width="1.8"/>
<line x1="372.7" y1="495.7" x2="382.6" y2="495.7" stroke="#333333" stroke-width="3.4"/>
<path d="M481.4,364.6 481.5,366.1 481.6,367.6 481.6,369.1 481.6,370.6 481.7,372.1 481.7,373.6 481.8,375.1 481.9,376.6 481.9,378.1 482.0,379.6 482.2,381.1 482.3,382.6 482.4,384.1 482.6,385.6 482.8,387.1 483.0,388.6 483.2,390.1 483.4,391.6 483.6,393.1 483.8,394.6 484.1,396.1 484.3,397.6 484.5,399.1 484.8,400.6 485.0,402.1 485.3,403.6 485.6,405.1 485.9,406.6 486.1,408.1 486.4,409.6 486.7,411.1 487.0,412.6 487.2,414.1 487.5,415.6 487.7,417.1 487.9,418.6 488.1,420.2 488.4,421.7 488.6,423.2 488.8,424.7 489.1,426.2 489.3,427.7 489.6,429.2 489.8,430.7 490.1,432.2 490.4,433.7 490.6,435.2 490.9,436.7 491.2,438.2 491.5,439.7 491.8,441.2 492.2,442.7 492.5,444.2 493.0,445.7 493.4,447.2 494.0,448.7 494.5,450.2 495.1,451.7 495.7,453.2 496.3,454.7 497.0,456.2 497.7,457.7 498.4,459.2 499.1,460.7 499.9,462.2 500.6,463.7 501.5,465.2 502.4,466.7 503.4,468.2 504.4,469.7 505.4,471.2 506.4,472.7 507.4,474.2 508.3,475.7 509.2,477.2 509.9,478.7 510.6,480.2 511.3,481.7 511.9,483.2 512.5,484.7 513.1,486.2 513.6,487.7 514.0,489.2 514.4,490.7 514.8,492.2 515.1,493.7 515.3,495.2 515.4,496.7 515.6,498.2 515.7,499.7 515.8,501.2 515.8,502.7 515.9,504.2 515.9,505.7 515.9,507.2 515.9,508.7 515.9,510.2 515.9,511.7 515.9,513.2 515.7,514.7 515.4,516.2 515.0,517.7 514.5,519.2 513.9,520.7 513.3,522.2 512.6,523.7 511.8,525.2 511.1,526.7 510.4,528.2 509.6,529.8 508.8,531.3 507.9,532.8 507.0,534.3 506.0,535.8 505.0,537.3 504.0,538.8 503.0,540.3 502.0,541.8 501.1,543.3 500.2,544.8 499.4,546.3 498.5,547.8 497.7,549.3 496.9,550.8 496.2,552.3 495.4,553.8 494.6,555.3 493.9,556.8 493.1,558.3 492.3,559.8 491.5,561.3 453.9,561.3 453.2,559.8 452.4,558.3 451.6,556.8 450.9,555.3 450.1,553.8 449.3,552.3 448.5,550.8 447.8,549.3 446.9,547.8 446.1,546.3 445.3,544.8 444.4,543.3 443.4,541.8 442.5,540.3 441.5,538.8 440.5,537.3 439.5,535.8 438.5,534.3 437.6,532.8 436.7,531.3 435.9,529.8 435.1,528.2 434.4,526.7 433.7,525.2 432.9,523.7 432.2,522.2 431.6,520.7 431.0,519.2 430.5,517.7 430.1,516.2 429.8,514.7 429.6,513.2 429.5,511.7 429.5,510.2 429.6,508.7 429.6,507.2 429.6,505.7 429.6,504.2 429.7,502.7 429.7,501.2 429.8,499.7 429.9,498.2 430.0,496.7 430.2,495.2 430.4,493.7 430.7,492.2 431.1,490.7 431.5,489.2 431.9,487.7 432.4,486.2 433.0,484.7 433.6,483.2 434.2,481.7 434.8,480.2 435.5,478.7 436.3,477.2 437.2,475.7 438.1,474.2 439.1,472.7 440.1,471.2 441.1,469.7 442.1,468.2 443.1,466.7 444.0,465.2 444.8,463.7 445.6,462.2 446.4,460.7 447.1,459.2 447.8,457.7 448.5,456.2 449.2,454.7 449.8,453.2 450.4,451.7 451.0,450.2 451.5,448.7 452.0,447.2 452.5,445.7 452.9,444.2 453.3,442.7 453.7,441.2 454.0,439.7 454.3,438.2 454.6,436.7 454.9,435.2 455.1,433.7 455.4,432.2 455.7,430.7 455.9,429.2 456.2,427.7 456.4,426.2 456.7,424.7 456.9,423.2 457.1,421.7 457.4,420.2 457.6,418.6 457.8,417.1 458.0,415.6 458.3,414.1 458.5,412.6 458.8,411.1 459.1,409.6 459.4,408.1 459.6,406.6 459.9,405.1 460.2,403.6 460.5,402.1 460.7,400.6 461.0,399.1 461.2,397.6 461.4,396.1 461.7,394.6 461.9,393.1 462.1,391.6 462.3,390.1 462.5,388.6 462.7,387.1 462.9,385.6 463.0,384.1 463.2,382.6 463.3,381.1 463.5,379.6 463.6,378.1 463.6,376.6 463.7,375.1 463.8,373.6 463.8,372.1 463.8,370.6 463.9,369.1 463.9,367.6 464.0,366.1 464.0,364.6Z" fill="#00BFC4" stroke="#333333" stroke-width="2" stroke-linejoin="round"/>
<line x1="472.7" y1="364.6" x2="472.7" y2="462.9" stroke="#333333" stroke-width="1.8"/>
<line x1="472.7" y1="528.5" x2="472.7" y2="561.3" stroke="#333333" stroke-width="1.8"/>
<rect x="467.8" y="462.9" width="9.9" height="65.6" fill="#00BFC4" stroke="#333333" stroke-width="1.8"/>
<line x1="467.8" y1="495.7" x2="477.7" y2="495.7" stroke="#333333" stroke-width="3.4"/>
<rect x="541.9" y="354.7" width="209.2" height="215.9" fill="#fff" stroke="#666" stroke-width="1.4"/>
<path d="M615.6,364.6 616.0,366.1 616.5,367.6 617.1,369.1 617.6,370.6 618.1,372.1 618.7,373.6 619.1,375.1 619.6,376.6 620.0,378.1 620.3,379.6 620.6,381.1 620.8,382.6 620.9,384.1 621.1,385.6 621.2,387.1 621.2,388.6 621.3,390.1 621.3,391.6 621.3,393.1 621.4,394.6 621.4,396.1 621.4,397.6 621.3,399.1 621.1,400.6 620.8,402.1 620.5,403.6 620.2,405.1 619.8,406.6 619.5,408.1 619.2,409.6 618.9,411.1 618.8,412.6 618.8,414.1 618.8,415.6 618.8,417.1 618.8,418.6 618.9,420.2 619.0,421.7 619.1,423.2 619.3,424.7 619.5,426.2 619.8,427.7 620.1,429.2 620.5,430.7 621.0,432.2 621.6,433.7 622.4,435.2 623.1,436.7 623.9,438.2 624.7,439.7 625.5,441.2 626.3,442.7 626.9,444.2 627.6,445.7 628.1,447.2 628.5,448.7 628.9,450.2 629.2,451.7 629.5,453.2 629.8,454.7 630.0,456.2 630.3,457.7 630.5,459.2 630.7,460.7 630.9,462.2 631.1,463.7 631.2,465.2 631.4,466.7 631.6,468.2 631.7,469.7 631.8,471.2 631.9,472.7 632.0,474.2 632.1,475.7 632.1,477.2 632.2,478.7 632.1,480.2 632.1,481.7 632.0,483.2 631.8,484.7 631.6,486.2 631.4,487.7 631.1,489.2 630.7,490.7 630.4,492.2 630.0,493.7 629.6,495.2 629.2,496.7 628.7,498.2 628.1,499.7 627.5,501.2 626.9,502.7 626.2,504.2 625.6,505.7 624.9,507.2 624.2,508.7 623.6,510.2 622.9,511.7 622.3,513.2 621.6,514.7 621.0,516.2 620.3,517.7 619.6,519.2 618.9,520.7 618.3,522.2 617.6,523.7 616.9,525.2 616.3,526.7 615.7,528.2 615.0,529.8 614.4,531.3 613.8,532.8 613.1,534.3 612.5,535.8 611.9,537.3 611.3,538.8 610.7,540.3 610.1,541.8 609.6,543.3 609.1,544.8 608.6,546.3 608.2,547.8 607.7,549.3 607.3,550.8 607.0,552.3 606.6,553.8 606.2,555.3 605.9,556.8 605.5,558.3 605.1,559.8 604.8,561.3 593.2,561.3 592.8,559.8 592.4,558.3 592.0,556.8 591.7,555.3 591.3,553.8 590.9,552.3 590.6,550.8 590.2,549.3 589.7,547.8 589.3,546.3 588.8,544.8 588.3,543.3 587.8,541.8 587.2,540.3 586.6,538.8 586.0,537.3 585.4,535.8 584.8,534.3 584.1,532.8 583.5,531.3 582.9,529.8 582.2,528.2 581.6,526.7 581.0,525.2 580.3,523.7 579.6,522.2 579.0,520.7 578.3,519.2 577.6,517.7 576.9,516.2 576.3,514.7 575.6,513.2 575.0,511.7 574.3,510.2 573.7,508.7 573.0,507.2 572.3,505.7 571.7,504.2 571.0,502.7 570.4,501.2 569.8,499.7 569.3,498.2 568.8,496.7 568.3,495.2 567.9,493.7 567.5,492.2 567.2,490.7 566.8,489.2 566.6,487.7 566.3,486.2 566.1,484.7 565.9,483.2 565.8,481.7 565.8,480.2 565.8,478.7 565.8,477.2 565.8,475.7 565.9,474.2 566.0,472.7 566.1,471.2 566.2,469.7 566.3,468.2 566.5,466.7 566.7,465.2 566.9,463.7 567.1,462.2 567.2,460.7 567.4,459.2 567.7,457.7 567.9,456.2 568.1,454.7 568.4,453.2 568.7,451.7 569.0,450.2 569.4,448.7 569.9,447.2 570.4,445.7 571.0,444.2 571.7,442.7 572.4,441.2 573.2,439.7 574.0,438.2 574.8,436.7 575.6,435.2 576.3,433.7 576.9,432.2 577.4,430.7 577.8,429.2 578.2,427.7 578.4,426.2 578.6,424.7 578.8,423.2 578.9,421.7 579.0,420.2 579.1,418.6 579.1,417.1 579.1,415.6 579.2,414.1 579.1,412.6 579.0,411.1 578.7,409.6 578.4,408.1 578.1,406.6 577.8,405.1 577.4,403.6 577.1,402.1 576.8,400.6 576.6,399.1 576.6,397.6 576.6,396.1 576.6,394.6 576.6,393.1 576.6,391.6 576.6,390.1 576.7,388.6 576.8,387.1 576.9,385.6 577.0,384.1 577.1,382.6 577.3,381.1 577.6,379.6 577.9,378.1 578.3,376.6 578.8,375.1 579.3,373.6 579.8,372.1 580.3,370.6 580.8,369.1 581.4,367.6 581.9,366.1 582.4,364.6Z" fill="#F8766D" stroke="#333333" stroke-width="2" stroke-linejoin="round"/>
<line x1="599.0" y1="364.6" x2="599.0" y2="397.4" stroke="#333333" stroke-width="1.8"/>
<line x1="599.0" y1="495.7" x2="599.0" y2="561.3" stroke="#333333" stroke-width="1.8"/>
<rect x="594.0" y="397.4" width="9.9" height="98.3" fill="#F8766D" stroke="#333333" stroke-width="1.8"/>
<line x1="594.0" y1="462.9" x2="603.9" y2="462.9" stroke="#333333" stroke-width="3.4"/>
<path d="M708.7,364.6 709.7,366.1 710.8,367.6 711.9,369.1 712.9,370.6 714.0,372.1 715.0,373.6 716.1,375.1 717.0,376.6 717.9,378.1 718.7,379.6 719.4,381.1 720.0,382.6 720.6,384.1 721.1,385.6 721.5,387.1 721.9,388.6 722.2,390.1 722.5,391.6 722.7,393.1 722.8,394.6 722.9,396.1 722.9,397.6 722.9,399.1 722.8,400.6 722.6,402.1 722.5,403.6 722.3,405.1 722.1,406.6 721.9,408.1 721.7,409.6 721.5,411.1 721.5,412.6 721.4,414.1 721.5,415.6 721.5,417.1 721.6,418.6 721.8,420.2 722.0,421.7 722.2,423.2 722.5,424.7 722.8,426.2 723.2,427.7 723.7,429.2 724.2,430.7 724.9,432.2 725.6,433.7 726.5,435.2 727.4,436.7 728.3,438.2 729.3,439.7 730.2,441.2 731.1,442.7 731.9,444.2 732.7,445.7 733.3,447.2 733.9,448.7 734.5,450.2 735.1,451.7 735.7,453.2 736.2,454.7 736.6,456.2 737.0,457.7 737.3,459.2 737.5,460.7 737.6,462.2 737.6,463.7 737.4,465.2 736.9,466.7 736.3,468.2 735.5,469.7 734.7,471.2 733.7,472.7 732.6,474.2 731.6,475.7 730.5,477.2 729.5,478.7 728.4,480.2 727.3,481.7 726.1,483.2 724.9,484.7 723.5,486.2 722.2,487.7 720.9,489.2 719.6,490.7 718.4,492.2 717.3,493.7 716.3,495.2 715.5,496.7 714.7,498.2 714.0,499.7 713.4,501.2 712.8,502.7 712.3,504.2 711.8,505.7 711.3,507.2 710.9,508.7 710.5,510.2 710.1,511.7 709.6,513.2 709.3,514.7 709.0,516.2 708.7,517.7 708.5,519.2 708.2,520.7 708.0,522.2 707.8,523.7 707.5,525.2 707.2,526.7 706.8,528.2 706.4,529.8 705.9,531.3 705.4,532.8 704.9,534.3 704.4,535.8 703.8,537.3 703.3,538.8 702.8,540.3 702.2,541.8 701.7,543.3 701.3,544.8 700.9,546.3 700.5,547.8 700.1,549.3 699.7,550.8 699.3,552.3 699.0,553.8 698.6,555.3 698.3,556.8 698.0,558.3 697.6,559.8 697.2,561.3 690.8,561.3 690.5,559.8 690.1,558.3 689.8,556.8 689.4,555.3 689.1,553.8 688.7,552.3 688.4,550.8 688.0,549.3 687.6,547.8 687.2,546.3 686.8,544.8 686.3,543.3 685.9,541.8 685.3,540.3 684.8,538.8 684.3,537.3 683.7,535.8 683.2,534.3 682.6,532.8 682.2,531.3 681.7,529.8 681.3,528.2 680.9,526.7 680.6,525.2 680.3,523.7 680.1,522.2 679.9,520.7 679.6,519.2 679.4,517.7 679.1,516.2 678.8,514.7 678.4,513.2 678.0,511.7 677.6,510.2 677.2,508.7 676.8,507.2 676.3,505.7 675.8,504.2 675.3,502.7 674.7,501.2 674.1,499.7 673.4,498.2 672.6,496.7 671.7,495.2 670.8,493.7 669.6,492.2 668.4,490.7 667.2,489.2 665.9,487.7 664.5,486.2 663.2,484.7 662.0,483.2 660.8,481.7 659.6,480.2 658.6,478.7 657.6,477.2 656.5,475.7 655.5,474.2 654.4,472.7 653.4,471.2 652.5,469.7 651.8,468.2 651.2,466.7 650.7,465.2 650.5,463.7 650.5,462.2 650.6,460.7 650.8,459.2 651.1,457.7 651.5,456.2 651.9,454.7 652.4,453.2 653.0,451.7 653.6,450.2 654.2,448.7 654.8,447.2 655.4,445.7 656.2,444.2 657.0,442.7 657.9,441.2 658.8,439.7 659.8,438.2 660.7,436.7 661.6,435.2 662.5,433.7 663.2,432.2 663.9,430.7 664.4,429.2 664.8,427.7 665.2,426.2 665.6,424.7 665.9,423.2 666.1,421.7 666.3,420.2 666.5,418.6 666.6,417.1 666.6,415.6 666.6,414.1 666.6,412.6 666.5,411.1 666.4,409.6 666.2,408.1 666.0,406.6 665.8,405.1 665.6,403.6 665.5,402.1 665.3,400.6 665.2,399.1 665.1,397.6 665.2,396.1 665.2,394.6 665.4,393.1 665.6,391.6 665.9,390.1 666.2,388.6 666.6,387.1 667.0,385.6 667.5,384.1 668.1,382.6 668.7,381.1 669.4,379.6 670.2,378.1 671.1,376.6 672.0,375.1 673.0,373.6 674.1,372.1 675.2,370.6 676.2,369.1 677.3,367.6 678.3,366.1 679.3,364.6Z" fill="#00BFC4" stroke="#333333" stroke-width="2" stroke-linejoin="round"/>
<line x1="694.0" y1="364.6" x2="694.0" y2="397.4" stroke="#333333" stroke-width="1.8"/>
<line x1="694.0" y1="462.9" x2="694.0" y2="561.3" stroke="#333333" stroke-width="1.8"/>
<rect x="689.1" y="397.4" width="9.9" height="65.6" fill="#00BFC4" stroke="#333333" stroke-width="1.8"/>
<line x1="689.1" y1="462.9" x2="699.0" y2="462.9" stroke="#333333" stroke-width="3.4"/>
<rect x="763.2" y="354.7" width="209.2" height="215.9" fill="#fff" stroke="#666" stroke-width="1.4"/>
<path d="M822.8,364.6 822.5,366.1 822.2,367.6 821.9,369.1 821.6,370.6 821.3,372.1 821.1,373.6 820.9,375.1 820.9,376.6 820.9,378.1 820.9,379.6 820.9,381.1 821.0,382.6 821.0,384.1 821.1,385.6 821.2,387.1 821.2,388.6 821.3,390.1 821.3,391.6 821.4,393.1 821.4,394.6 821.4,396.1 821.5,397.6 821.4,399.1 821.4,400.6 821.4,402.1 821.3,403.6 821.3,405.1 821.2,406.6 821.1,408.1 821.1,409.6 821.0,411.1 820.9,412.6 820.9,414.1 820.8,415.6 820.8,417.1 820.8,418.6 820.8,420.2 820.8,421.7 820.8,423.2 820.8,424.7 820.8,426.2 820.8,427.7 820.8,429.2 820.8,430.7 820.8,432.2 820.8,433.7 820.8,435.2 820.8,436.7 820.9,438.2 820.9,439.7 820.9,441.2 821.0,442.7 821.2,444.2 821.5,445.7 821.9,447.2 822.4,448.7 822.9,450.2 823.5,451.7 824.1,453.2 824.6,454.7 825.1,456.2 825.6,457.7 825.9,459.2 826.2,460.7 826.3,462.2 826.3,463.7 826.1,465.2 825.7,466.7 825.1,468.2 824.6,469.7 824.1,471.2 823.7,472.7 823.5,474.2 823.5,475.7 824.0,477.2 824.8,478.7 825.9,480.2 827.3,481.7 828.7,483.2 830.3,484.7 831.9,486.2 833.4,487.7 834.9,489.2 836.1,490.7 837.2,492.2 837.9,493.7 838.2,495.2 838.2,496.7 837.8,498.2 837.1,499.7 836.3,501.2 835.3,502.7 834.2,504.2 833.2,505.7 832.3,507.2 831.5,508.7 830.9,510.2 830.7,511.7 831.1,513.2 832.9,514.7 835.9,516.2 839.6,517.7 843.9,519.2 848.4,520.7 852.8,522.2 856.9,523.7 860.2,525.2 862.5,526.7 863.5,528.2 863.1,529.8 861.4,531.3 858.7,532.8 855.3,534.3 851.5,535.8 847.5,537.3 843.6,538.8 840.0,540.3 837.1,541.8 835.2,543.3 834.4,544.8 834.7,546.3 835.8,547.8 837.4,549.3 839.6,550.8 842.2,552.3 845.0,553.8 848.0,555.3 851.0,556.8 854.0,558.3 856.8,559.8 859.3,561.3 781.3,561.3 783.7,559.8 786.5,558.3 789.5,556.8 792.5,555.3 795.5,553.8 798.3,552.3 800.9,550.8 803.1,549.3 804.8,547.8 805.8,546.3 806.1,544.8 805.3,543.3 803.4,541.8 800.5,540.3 797.0,538.8 793.1,537.3 789.1,535.8 785.2,534.3 781.8,532.8 779.1,531.3 777.4,529.8 777.0,528.2 778.0,526.7 780.3,525.2 783.7,523.7 787.7,522.2 792.1,520.7 796.6,519.2 800.9,517.7 804.6,516.2 807.6,514.7 809.4,513.2 809.8,511.7 809.6,510.2 809.0,508.7 808.2,507.2 807.3,505.7 806.3,504.2 805.2,502.7 804.3,501.2 803.4,499.7 802.7,498.2 802.3,496.7 802.3,495.2 802.6,493.7 803.4,492.2 804.4,490.7 805.6,489.2 807.1,487.7 808.6,486.2 810.2,484.7 811.8,483.2 813.2,481.7 814.6,480.2 815.7,478.7 816.5,477.2 817.0,475.7 817.0,474.2 816.8,472.7 816.4,471.2 815.9,469.7 815.4,468.2 814.8,466.7 814.4,465.2 814.2,463.7 814.2,462.2 814.3,460.7 814.6,459.2 815.0,457.7 815.4,456.2 815.9,454.7 816.4,453.2 817.0,451.7 817.6,450.2 818.1,448.7 818.6,447.2 819.0,445.7 819.3,444.2 819.5,442.7 819.6,441.2 819.6,439.7 819.6,438.2 819.7,436.7 819.7,435.2 819.7,433.7 819.7,432.2 819.7,430.7 819.7,429.2 819.7,427.7 819.8,426.2 819.8,424.7 819.8,423.2 819.8,421.7 819.8,420.2 819.7,418.6 819.7,417.1 819.7,415.6 819.6,414.1 819.6,412.6 819.5,411.1 819.4,409.6 819.4,408.1 819.3,406.6 819.2,405.1 819.2,403.6 819.1,402.1 819.1,400.6 819.1,399.1 819.1,397.6 819.1,396.1 819.1,394.6 819.1,393.1 819.2,391.6 819.2,390.1 819.3,388.6 819.4,387.1 819.4,385.6 819.5,384.1 819.5,382.6 819.6,381.1 819.6,379.6 819.6,378.1 819.7,376.6 819.6,375.1 819.4,373.6 819.2,372.1 818.9,370.6 818.6,369.1 818.3,367.6 818.0,366.1 817.8,364.6Z" fill="#F8766D" stroke="#333333" stroke-width="2" stroke-linejoin="round"/>
<line x1="820.3" y1="495.7" x2="820.3" y2="528.5" stroke="#333333" stroke-width="1.8"/>
<line x1="820.3" y1="561.3" x2="820.3" y2="561.3" stroke="#333333" stroke-width="1.8"/>
<rect x="815.3" y="528.5" width="9.9" height="32.8" fill="#F8766D" stroke="#333333" stroke-width="1.8"/>
<line x1="815.3" y1="528.5" x2="825.2" y2="528.5" stroke="#333333" stroke-width="3.4"/>
<path d="M917.2,364.6 917.1,366.1 917.0,367.6 916.9,369.1 916.8,370.6 916.7,372.1 916.6,373.6 916.4,375.1 916.3,376.6 916.2,378.1 916.2,379.6 916.1,381.1 916.1,382.6 916.0,384.1 916.1,385.6 916.2,387.1 916.4,388.6 916.6,390.1 916.8,391.6 917.0,393.1 917.2,394.6 917.3,396.1 917.3,397.6 917.3,399.1 917.3,400.6 917.2,402.1 917.1,403.6 917.0,405.1 916.9,406.6 916.8,408.1 916.7,409.6 916.6,411.1 916.6,412.6 916.5,414.1 916.6,415.6 916.8,417.1 917.1,418.6 917.4,420.2 917.7,421.7 918.0,423.2 918.3,424.7 918.6,426.2 918.8,427.7 918.9,429.2 918.9,430.7 918.9,432.2 918.8,433.7 918.7,435.2 918.5,436.7 918.4,438.2 918.3,439.7 918.2,441.2 918.3,442.7 918.6,444.2 919.2,445.7 919.9,447.2 920.8,448.7 921.8,450.2 922.9,451.7 923.9,453.2 925.0,454.7 925.9,456.2 926.8,457.7 927.5,459.2 928.0,460.7 928.3,462.2 928.3,463.7 928.1,465.2 927.6,466.7 927.0,468.2 926.3,469.7 925.6,471.2 924.8,472.7 924.1,474.2 923.5,475.7 923.1,477.2 922.9,478.7 923.1,480.2 924.5,481.7 926.8,483.2 930.0,484.7 933.6,486.2 937.5,487.7 941.3,489.2 944.8,490.7 947.8,492.2 950.0,493.7 951.1,495.2 950.9,496.7 949.7,498.2 947.7,499.7 945.2,501.2 942.2,502.7 939.1,504.2 936.0,505.7 933.2,507.2 930.9,508.7 929.2,510.2 928.4,511.7 928.6,513.2 929.4,514.7 930.8,516.2 932.6,517.7 934.6,519.2 936.8,520.7 938.9,522.2 940.8,523.7 942.3,525.2 943.4,526.7 943.9,528.2 943.6,529.8 942.6,531.3 940.9,532.8 938.7,534.3 936.3,535.8 933.7,537.3 931.3,538.8 929.0,540.3 927.2,541.8 926.0,543.3 925.4,544.8 925.6,546.3 926.2,547.8 927.0,549.3 928.1,550.8 929.4,552.3 930.9,553.8 932.4,555.3 934.0,556.8 935.5,558.3 936.9,559.8 938.1,561.3 892.5,561.3 893.8,559.8 895.2,558.3 896.7,556.8 898.3,555.3 899.8,553.8 901.3,552.3 902.6,550.8 903.7,549.3 904.5,547.8 905.1,546.3 905.2,544.8 904.7,543.3 903.5,541.8 901.7,540.3 899.4,538.8 896.9,537.3 894.4,535.8 892.0,534.3 889.8,532.8 888.1,531.3 887.1,529.8 886.8,528.2 887.2,526.7 888.3,525.2 889.9,523.7 891.8,522.2 893.9,520.7 896.1,519.2 898.1,517.7 899.9,516.2 901.3,514.7 902.1,513.2 902.3,511.7 901.5,510.2 899.8,508.7 897.5,507.2 894.7,505.7 891.6,504.2 888.5,502.7 885.5,501.2 883.0,499.7 881.0,498.2 879.8,496.7 879.6,495.2 880.7,493.7 882.9,492.2 885.8,490.7 889.4,489.2 893.2,487.7 897.1,486.2 900.7,484.7 903.8,483.2 906.2,481.7 907.6,480.2 907.8,478.7 907.6,477.2 907.2,475.7 906.6,474.2 905.9,472.7 905.1,471.2 904.4,469.7 903.7,468.2 903.1,466.7 902.6,465.2 902.4,463.7 902.4,462.2 902.7,460.7 903.2,459.2 903.9,457.7 904.7,456.2 905.7,454.7 906.8,453.2 907.8,451.7 908.9,450.2 909.9,448.7 910.8,447.2 911.5,445.7 912.0,444.2 912.4,442.7 912.4,441.2 912.4,439.7 912.3,438.2 912.2,436.7 912.0,435.2 911.9,433.7 911.8,432.2 911.7,430.7 911.8,429.2 911.9,427.7 912.1,426.2 912.4,424.7 912.7,423.2 913.0,421.7 913.3,420.2 913.6,418.6 913.9,417.1 914.1,415.6 914.1,414.1 914.1,412.6 914.1,411.1 914.0,409.6 913.9,408.1 913.8,406.6 913.7,405.1 913.6,403.6 913.5,402.1 913.4,400.6 913.4,399.1 913.3,397.6 913.4,396.1 913.5,394.6 913.7,393.1 913.9,391.6 914.1,390.1 914.3,388.6 914.5,387.1 914.6,385.6 914.6,384.1 914.6,382.6 914.6,381.1 914.5,379.6 914.4,378.1 914.4,376.6 914.2,375.1 914.1,373.6 914.0,372.1 913.9,370.6 913.8,369.1 913.7,367.6 913.5,366.1 913.4,364.6Z" fill="#00BFC4" stroke="#333333" stroke-width="2" stroke-linejoin="round"/>
<line x1="915.3" y1="462.9" x2="915.3" y2="495.7" stroke="#333333" stroke-width="1.8"/>
<line x1="915.3" y1="528.5" x2="915.3" y2="561.3" stroke="#333333" stroke-width="1.8"/>
<rect x="910.4" y="495.7" width="9.9" height="32.8" fill="#00BFC4" stroke="#333333" stroke-width="1.8"/>
<line x1="910.4" y1="495.7" x2="920.3" y2="495.7" stroke="#333333" stroke-width="3.4"/>
<rect x="984.5" y="354.7" width="209.2" height="215.9" fill="#fff" stroke="#666" stroke-width="1.4"/>
<path d="M1043.9,364.6 1044.0,366.1 1044.2,367.6 1044.3,369.1 1044.5,370.6 1044.6,372.1 1044.8,373.6 1045.0,375.1 1045.1,376.6 1045.3,378.1 1045.4,379.6 1045.6,381.1 1045.7,382.6 1045.8,384.1 1046.0,385.6 1046.1,387.1 1046.2,388.6 1046.4,390.1 1046.5,391.6 1046.6,393.1 1046.8,394.6 1046.9,396.1 1047.1,397.6 1047.2,399.1 1047.4,400.6 1047.6,402.1 1047.7,403.6 1047.9,405.1 1048.1,406.6 1048.3,408.1 1048.5,409.6 1048.7,411.1 1048.9,412.6 1049.1,414.1 1049.3,415.6 1049.5,417.1 1049.8,418.6 1050.0,420.2 1050.2,421.7 1050.5,423.2 1050.8,424.7 1051.1,426.2 1051.4,427.7 1051.8,429.2 1052.2,430.7 1052.7,432.2 1053.2,433.7 1053.8,435.2 1054.5,436.7 1055.1,438.2 1055.8,439.7 1056.4,441.2 1057.1,442.7 1057.7,444.2 1058.3,445.7 1058.8,447.2 1059.3,448.7 1059.7,450.2 1060.2,451.7 1060.6,453.2 1061.0,454.7 1061.4,456.2 1061.8,457.7 1062.2,459.2 1062.5,460.7 1062.9,462.2 1063.2,463.7 1063.5,465.2 1063.8,466.7 1064.1,468.2 1064.3,469.7 1064.5,471.2 1064.7,472.7 1065.0,474.2 1065.2,475.7 1065.4,477.2 1065.6,478.7 1065.8,480.2 1066.0,481.7 1066.2,483.2 1066.5,484.7 1066.7,486.2 1066.9,487.7 1067.1,489.2 1067.3,490.7 1067.4,492.2 1067.5,493.7 1067.6,495.2 1067.6,496.7 1067.6,498.2 1067.6,499.7 1067.5,501.2 1067.5,502.7 1067.5,504.2 1067.5,505.7 1067.5,507.2 1067.4,508.7 1067.3,510.2 1067.3,511.7 1067.2,513.2 1067.1,514.7 1067.0,516.2 1066.9,517.7 1066.8,519.2 1066.6,520.7 1066.5,522.2 1066.3,523.7 1066.0,525.2 1065.7,526.7 1065.4,528.2 1065.0,529.8 1064.6,531.3 1064.1,532.8 1063.6,534.3 1063.1,535.8 1062.5,537.3 1061.9,538.8 1061.4,540.3 1060.8,541.8 1060.2,543.3 1059.6,544.8 1059.0,546.3 1058.5,547.8 1057.9,549.3 1057.3,550.8 1056.7,552.3 1056.1,553.8 1055.5,555.3 1054.9,556.8 1054.3,558.3 1053.7,559.8 1053.1,561.3 1030.1,561.3 1029.5,559.8 1028.9,558.3 1028.2,556.8 1027.6,555.3 1027.0,553.8 1026.4,552.3 1025.8,550.8 1025.2,549.3 1024.7,547.8 1024.1,546.3 1023.5,544.8 1022.9,543.3 1022.3,541.8 1021.8,540.3 1021.2,538.8 1020.6,537.3 1020.0,535.8 1019.5,534.3 1019.0,532.8 1018.5,531.3 1018.1,529.8 1017.7,528.2 1017.4,526.7 1017.1,525.2 1016.9,523.7 1016.7,522.2 1016.5,520.7 1016.3,519.2 1016.2,517.7 1016.1,516.2 1016.0,514.7 1015.9,513.2 1015.8,511.7 1015.8,510.2 1015.7,508.7 1015.7,507.2 1015.6,505.7 1015.6,504.2 1015.6,502.7 1015.6,501.2 1015.6,499.7 1015.6,498.2 1015.6,496.7 1015.6,495.2 1015.6,493.7 1015.7,492.2 1015.8,490.7 1016.0,489.2 1016.2,487.7 1016.4,486.2 1016.6,484.7 1016.9,483.2 1017.1,481.7 1017.3,480.2 1017.5,478.7 1017.7,477.2 1017.9,475.7 1018.2,474.2 1018.4,472.7 1018.6,471.2 1018.8,469.7 1019.1,468.2 1019.3,466.7 1019.6,465.2 1019.9,463.7 1020.2,462.2 1020.6,460.7 1020.9,459.2 1021.3,457.7 1021.7,456.2 1022.1,454.7 1022.5,453.2 1022.9,451.7 1023.4,450.2 1023.9,448.7 1024.3,447.2 1024.9,445.7 1025.4,444.2 1026.0,442.7 1026.7,441.2 1027.3,439.7 1028.0,438.2 1028.6,436.7 1029.3,435.2 1029.9,433.7 1030.4,432.2 1030.9,430.7 1031.3,429.2 1031.7,427.7 1032.1,426.2 1032.4,424.7 1032.6,423.2 1032.9,421.7 1033.1,420.2 1033.3,418.6 1033.6,417.1 1033.8,415.6 1034.0,414.1 1034.2,412.6 1034.4,411.1 1034.6,409.6 1034.8,408.1 1035.0,406.6 1035.2,405.1 1035.4,403.6 1035.5,402.1 1035.7,400.6 1035.9,399.1 1036.0,397.6 1036.2,396.1 1036.3,394.6 1036.5,393.1 1036.6,391.6 1036.7,390.1 1036.9,388.6 1037.0,387.1 1037.1,385.6 1037.3,384.1 1037.4,382.6 1037.5,381.1 1037.7,379.6 1037.8,378.1 1038.0,376.6 1038.1,375.1 1038.3,373.6 1038.5,372.1 1038.6,370.6 1038.8,369.1 1038.9,367.6 1039.1,366.1 1039.3,364.6Z" fill="#F8766D" stroke="#333333" stroke-width="2" stroke-linejoin="round"/>
<line x1="1041.6" y1="364.6" x2="1041.6" y2="462.9" stroke="#333333" stroke-width="1.8"/>
<line x1="1041.6" y1="528.5" x2="1041.6" y2="561.3" stroke="#333333" stroke-width="1.8"/>
<rect x="1036.6" y="462.9" width="9.9" height="65.6" fill="#F8766D" stroke="#333333" stroke-width="1.8"/>
<line x1="1036.6" y1="495.7" x2="1046.5" y2="495.7" stroke="#333333" stroke-width="3.4"/>
<path d="M1143.5,364.6 1143.2,366.1 1142.8,367.6 1142.4,369.1 1142.0,370.6 1141.6,372.1 1141.4,373.6 1141.2,375.1 1141.3,376.6 1141.7,378.1 1142.2,379.6 1142.9,381.1 1143.8,382.6 1144.7,384.1 1145.8,385.6 1146.8,387.1 1147.8,388.6 1148.8,390.1 1149.6,391.6 1150.4,393.1 1150.9,394.6 1151.3,396.1 1151.3,397.6 1151.1,399.1 1150.4,400.6 1149.6,402.1 1148.5,403.6 1147.4,405.1 1146.3,406.6 1145.2,408.1 1144.4,409.6 1143.8,411.1 1143.5,412.6 1143.6,414.1 1143.8,415.6 1144.0,417.1 1144.3,418.6 1144.7,420.2 1145.0,421.7 1145.4,423.2 1145.8,424.7 1146.1,426.2 1146.3,427.7 1146.4,429.2 1146.4,430.7 1146.4,432.2 1146.2,433.7 1146.0,435.2 1145.8,436.7 1145.6,438.2 1145.4,439.7 1145.4,441.2 1145.6,442.7 1146.6,444.2 1148.3,445.7 1150.7,447.2 1153.4,448.7 1156.6,450.2 1159.8,451.7 1163.2,453.2 1166.5,454.7 1169.5,456.2 1172.2,457.7 1174.4,459.2 1176.1,460.7 1176.9,462.2 1176.9,463.7 1175.9,465.2 1174.0,466.7 1171.5,468.2 1168.6,469.7 1165.5,471.2 1162.4,472.7 1159.5,474.2 1157.1,475.7 1155.3,477.2 1154.3,478.7 1154.5,480.2 1155.7,481.7 1157.9,483.2 1160.7,484.7 1164.0,486.2 1167.5,487.7 1171.0,489.2 1174.2,490.7 1176.9,492.2 1178.9,493.7 1179.9,495.2 1179.6,496.7 1178.1,498.2 1175.6,499.7 1172.4,501.2 1168.6,502.7 1164.7,504.2 1160.8,505.7 1157.2,507.2 1154.2,508.7 1152.1,510.2 1151.1,511.7 1151.1,513.2 1151.5,514.7 1152.1,516.2 1152.9,517.7 1153.8,519.2 1154.7,520.7 1155.6,522.2 1156.5,523.7 1157.1,525.2 1157.6,526.7 1157.8,528.2 1157.6,529.8 1156.7,531.3 1155.3,532.8 1153.6,534.3 1151.6,535.8 1149.5,537.3 1147.4,538.8 1145.4,540.3 1143.7,541.8 1142.4,543.3 1141.7,544.8 1141.3,546.3 1141.1,547.8 1140.9,549.3 1140.7,550.8 1140.6,552.3 1140.6,553.8 1140.5,555.3 1140.5,556.8 1140.4,558.3 1140.4,559.8 1140.2,561.3 1133.0,561.3 1132.9,559.8 1132.9,558.3 1132.8,556.8 1132.8,555.3 1132.7,553.8 1132.7,552.3 1132.6,550.8 1132.4,549.3 1132.2,547.8 1132.0,546.3 1131.6,544.8 1130.9,543.3 1129.6,541.8 1127.9,540.3 1125.9,538.8 1123.8,537.3 1121.7,535.8 1119.7,534.3 1117.9,532.8 1116.6,531.3 1115.7,529.8 1115.5,528.2 1115.7,526.7 1116.1,525.2 1116.8,523.7 1117.7,522.2 1118.6,520.7 1119.5,519.2 1120.4,517.7 1121.2,516.2 1121.8,514.7 1122.2,513.2 1122.2,511.7 1121.2,510.2 1119.1,508.7 1116.1,507.2 1112.5,505.7 1108.6,504.2 1104.7,502.7 1100.9,501.2 1097.7,499.7 1095.2,498.2 1093.7,496.7 1093.4,495.2 1094.4,493.7 1096.4,492.2 1099.1,490.7 1102.3,489.2 1105.8,487.7 1109.3,486.2 1112.6,484.7 1115.4,483.2 1117.6,481.7 1118.8,480.2 1118.9,478.7 1118.0,477.2 1116.2,475.7 1113.7,474.2 1110.9,472.7 1107.8,471.2 1104.7,469.7 1101.8,468.2 1099.3,466.7 1097.4,465.2 1096.4,463.7 1096.4,462.2 1097.2,460.7 1098.9,459.2 1101.1,457.7 1103.8,456.2 1106.8,454.7 1110.1,453.2 1113.4,451.7 1116.7,450.2 1119.8,448.7 1122.6,447.2 1125.0,445.7 1126.7,444.2 1127.7,442.7 1127.9,441.2 1127.9,439.7 1127.7,438.2 1127.5,436.7 1127.3,435.2 1127.1,433.7 1126.9,432.2 1126.9,430.7 1126.9,429.2 1127.0,427.7 1127.2,426.2 1127.5,424.7 1127.9,423.2 1128.3,421.7 1128.6,420.2 1129.0,418.6 1129.3,417.1 1129.5,415.6 1129.7,414.1 1129.7,412.6 1129.5,411.1 1128.9,409.6 1128.0,408.1 1127.0,406.6 1125.9,405.1 1124.8,403.6 1123.7,402.1 1122.8,400.6 1122.2,399.1 1122.0,397.6 1122.0,396.1 1122.4,394.6 1122.9,393.1 1123.7,391.6 1124.5,390.1 1125.5,388.6 1126.5,387.1 1127.5,385.6 1128.5,384.1 1129.5,382.6 1130.4,381.1 1131.1,379.6 1131.6,378.1 1132.0,376.6 1132.0,375.1 1131.9,373.6 1131.7,372.1 1131.3,370.6 1130.9,369.1 1130.5,367.6 1130.1,366.1 1129.7,364.6Z" fill="#00BFC4" stroke="#333333" stroke-width="2" stroke-linejoin="round"/>
<line x1="1136.6" y1="430.2" x2="1136.6" y2="462.9" stroke="#333333" stroke-width="1.8"/>
<line x1="1136.6" y1="495.7" x2="1136.6" y2="528.5" stroke="#333333" stroke-width="1.8"/>
<rect x="1131.7" y="462.9" width="9.9" height="32.8" fill="#00BFC4" stroke="#333333" stroke-width="1.8"/>
<line x1="1131.7" y1="462.9" x2="1141.6" y2="462.9" stroke="#333333" stroke-width="3.4"/>
<rect x="1205.8" y="354.7" width="209.2" height="215.9" fill="#fff" stroke="#666" stroke-width="1.4"/>
<path d="M1280.1,364.6 1280.1,366.1 1280.1,367.6 1280.2,369.1 1280.2,370.6 1280.3,372.1 1280.3,373.6 1280.4,375.1 1280.4,376.6 1280.4,378.1 1280.4,379.6 1280.5,381.1 1280.4,382.6 1280.4,384.1 1280.3,385.6 1280.2,387.1 1280.1,388.6 1279.9,390.1 1279.8,391.6 1279.7,393.1 1279.5,394.6 1279.4,396.1 1279.3,397.6 1279.3,399.1 1279.2,400.6 1279.1,402.1 1279.1,403.6 1279.0,405.1 1279.0,406.6 1278.9,408.1 1278.9,409.6 1278.9,411.1 1278.9,412.6 1278.9,414.1 1279.0,415.6 1279.4,417.1 1279.9,418.6 1280.5,420.2 1281.3,421.7 1282.2,423.2 1283.1,424.7 1284.0,426.2 1284.9,427.7 1285.8,429.2 1286.6,430.7 1287.5,432.2 1288.5,433.7 1289.6,435.2 1290.7,436.7 1291.8,438.2 1292.8,439.7 1293.9,441.2 1294.8,442.7 1295.7,444.2 1296.5,445.7 1297.1,447.2 1297.6,448.7 1298.1,450.2 1298.5,451.7 1298.8,453.2 1299.1,454.7 1299.3,456.2 1299.4,457.7 1299.6,459.2 1299.6,460.7 1299.7,462.2 1299.7,463.7 1299.7,465.2 1299.6,466.7 1299.6,468.2 1299.6,469.7 1299.5,471.2 1299.5,472.7 1299.4,474.2 1299.3,475.7 1299.2,477.2 1299.0,478.7 1298.8,480.2 1298.6,481.7 1298.4,483.2 1298.2,484.7 1297.9,486.2 1297.6,487.7 1297.3,489.2 1297.0,490.7 1296.6,492.2 1296.3,493.7 1295.9,495.2 1295.5,496.7 1295.0,498.2 1294.6,499.7 1294.1,501.2 1293.6,502.7 1293.1,504.2 1292.5,505.7 1292.0,507.2 1291.4,508.7 1290.9,510.2 1290.4,511.7 1289.9,513.2 1289.4,514.7 1288.8,516.2 1288.3,517.7 1287.8,519.2 1287.3,520.7 1286.8,522.2 1286.2,523.7 1285.7,525.2 1285.1,526.7 1284.6,528.2 1284.0,529.8 1283.4,531.3 1282.7,532.8 1282.1,534.3 1281.5,535.8 1280.8,537.3 1280.2,538.8 1279.5,540.3 1278.9,541.8 1278.2,543.3 1277.6,544.8 1277.0,546.3 1276.4,547.8 1275.7,549.3 1275.1,550.8 1274.5,552.3 1273.9,553.8 1273.2,555.3 1272.6,556.8 1272.0,558.3 1271.4,559.8 1270.8,561.3 1255.0,561.3 1254.3,559.8 1253.7,558.3 1253.1,556.8 1252.5,555.3 1251.8,553.8 1251.2,552.3 1250.6,550.8 1250.0,549.3 1249.4,547.8 1248.7,546.3 1248.1,544.8 1247.5,543.3 1246.8,541.8 1246.2,540.3 1245.5,538.8 1244.9,537.3 1244.2,535.8 1243.6,534.3 1243.0,532.8 1242.4,531.3 1241.7,529.8 1241.2,528.2 1240.6,526.7 1240.0,525.2 1239.5,523.7 1238.9,522.2 1238.4,520.7 1237.9,519.2 1237.4,517.7 1236.9,516.2 1236.4,514.7 1235.8,513.2 1235.3,511.7 1234.8,510.2 1234.3,508.7 1233.7,507.2 1233.2,505.7 1232.7,504.2 1232.1,502.7 1231.6,501.2 1231.1,499.7 1230.7,498.2 1230.2,496.7 1229.8,495.2 1229.4,493.7 1229.1,492.2 1228.7,490.7 1228.4,489.2 1228.1,487.7 1227.8,486.2 1227.5,484.7 1227.3,483.2 1227.1,481.7 1226.9,480.2 1226.7,478.7 1226.5,477.2 1226.4,475.7 1226.3,474.2 1226.2,472.7 1226.2,471.2 1226.1,469.7 1226.1,468.2 1226.1,466.7 1226.1,465.2 1226.1,463.7 1226.1,462.2 1226.1,460.7 1226.2,459.2 1226.3,457.7 1226.4,456.2 1226.6,454.7 1226.9,453.2 1227.2,451.7 1227.6,450.2 1228.1,448.7 1228.6,447.2 1229.2,445.7 1230.0,444.2 1230.9,442.7 1231.8,441.2 1232.9,439.7 1233.9,438.2 1235.0,436.7 1236.1,435.2 1237.2,433.7 1238.2,432.2 1239.1,430.7 1239.9,429.2 1240.8,427.7 1241.7,426.2 1242.7,424.7 1243.6,423.2 1244.4,421.7 1245.2,420.2 1245.8,418.6 1246.3,417.1 1246.7,415.6 1246.8,414.1 1246.9,412.6 1246.8,411.1 1246.8,409.6 1246.8,408.1 1246.7,406.6 1246.7,405.1 1246.6,403.6 1246.6,402.1 1246.5,400.6 1246.4,399.1 1246.4,397.6 1246.3,396.1 1246.2,394.6 1246.1,393.1 1245.9,391.6 1245.8,390.1 1245.7,388.6 1245.5,387.1 1245.4,385.6 1245.3,384.1 1245.3,382.6 1245.3,381.1 1245.3,379.6 1245.3,378.1 1245.3,376.6 1245.3,375.1 1245.4,373.6 1245.4,372.1 1245.5,370.6 1245.5,369.1 1245.6,367.6 1245.6,366.1 1245.7,364.6Z" fill="#F8766D" stroke="#333333" stroke-width="2" stroke-linejoin="round"/>
<line x1="1262.9" y1="364.6" x2="1262.9" y2="430.2" stroke="#333333" stroke-width="1.8"/>
<line x1="1262.9" y1="495.7" x2="1262.9" y2="561.3" stroke="#333333" stroke-width="1.8"/>
<rect x="1257.9" y="430.2" width="9.9" height="65.6" fill="#F8766D" stroke="#333333" stroke-width="1.8"/>
<line x1="1257.9" y1="462.9" x2="1267.8" y2="462.9" stroke="#333333" stroke-width="3.4"/>
<path d="M1372.3,364.6 1373.0,366.1 1373.7,367.6 1374.4,369.1 1375.1,370.6 1375.8,372.1 1376.5,373.6 1377.2,375.1 1377.8,376.6 1378.5,378.1 1379.1,379.6 1379.6,381.1 1380.1,382.6 1380.6,384.1 1381.0,385.6 1381.4,387.1 1381.8,388.6 1382.2,390.1 1382.6,391.6 1382.9,393.1 1383.2,394.6 1383.4,396.1 1383.7,397.6 1383.9,399.1 1384.0,400.6 1384.0,402.1 1384.1,403.6 1384.1,405.1 1384.1,406.6 1384.1,408.1 1384.1,409.6 1384.2,411.1 1384.4,412.6 1384.6,414.1 1384.9,415.6 1385.2,417.1 1385.6,418.6 1386.1,420.2 1386.6,421.7 1387.1,423.2 1387.7,424.7 1388.3,426.2 1388.9,427.7 1389.5,429.2 1390.2,430.7 1390.9,432.2 1391.7,433.7 1392.6,435.2 1393.6,436.7 1394.5,438.2 1395.4,439.7 1396.3,441.2 1397.2,442.7 1398.0,444.2 1398.6,445.7 1399.2,447.2 1399.6,448.7 1400.0,450.2 1400.3,451.7 1400.6,453.2 1400.8,454.7 1401.0,456.2 1401.2,457.7 1401.3,459.2 1401.3,460.7 1401.3,462.2 1401.3,463.7 1401.1,465.2 1400.8,466.7 1400.3,468.2 1399.6,469.7 1398.9,471.2 1398.1,472.7 1397.2,474.2 1396.3,475.7 1395.4,477.2 1394.4,478.7 1393.5,480.2 1392.5,481.7 1391.3,483.2 1390.1,484.7 1388.9,486.2 1387.6,487.7 1386.4,489.2 1385.1,490.7 1383.9,492.2 1382.7,493.7 1381.7,495.2 1380.7,496.7 1379.8,498.2 1378.9,499.7 1378.0,501.2 1377.2,502.7 1376.4,504.2 1375.7,505.7 1374.9,507.2 1374.2,508.7 1373.5,510.2 1372.8,511.7 1372.1,513.2 1371.5,514.7 1370.9,516.2 1370.3,517.7 1369.8,519.2 1369.2,520.7 1368.7,522.2 1368.2,523.7 1367.7,525.2 1367.2,526.7 1366.7,528.2 1366.3,529.8 1365.8,531.3 1365.3,532.8 1364.9,534.3 1364.5,535.8 1364.0,537.3 1363.6,538.8 1363.3,540.3 1362.9,541.8 1362.6,543.3 1362.3,544.8 1362.0,546.3 1361.8,547.8 1361.5,549.3 1361.4,550.8 1361.2,552.3 1361.0,553.8 1360.9,555.3 1360.7,556.8 1360.6,558.3 1360.4,559.8 1360.2,561.3 1355.6,561.3 1355.5,559.8 1355.3,558.3 1355.2,556.8 1355.0,555.3 1354.9,553.8 1354.7,552.3 1354.5,550.8 1354.4,549.3 1354.1,547.8 1353.9,546.3 1353.6,544.8 1353.3,543.3 1353.0,541.8 1352.6,540.3 1352.2,538.8 1351.8,537.3 1351.4,535.8 1351.0,534.3 1350.6,532.8 1350.1,531.3 1349.6,529.8 1349.2,528.2 1348.7,526.7 1348.2,525.2 1347.7,523.7 1347.2,522.2 1346.7,520.7 1346.1,519.2 1345.6,517.7 1345.0,516.2 1344.4,514.7 1343.7,513.2 1343.1,511.7 1342.4,510.2 1341.7,508.7 1341.0,507.2 1340.2,505.7 1339.5,504.2 1338.7,502.7 1337.9,501.2 1337.0,499.7 1336.1,498.2 1335.2,496.7 1334.2,495.2 1333.1,493.7 1332.0,492.2 1330.8,490.7 1329.5,489.2 1328.3,487.7 1327.0,486.2 1325.8,484.7 1324.6,483.2 1323.4,481.7 1322.4,480.2 1321.5,478.7 1320.5,477.2 1319.6,475.7 1318.7,474.2 1317.8,472.7 1317.0,471.2 1316.2,469.7 1315.6,468.2 1315.1,466.7 1314.8,465.2 1314.6,463.7 1314.5,462.2 1314.6,460.7 1314.6,459.2 1314.7,457.7 1314.9,456.2 1315.0,454.7 1315.3,453.2 1315.5,451.7 1315.9,450.2 1316.3,448.7 1316.7,447.2 1317.3,445.7 1317.9,444.2 1318.7,442.7 1319.5,441.2 1320.4,439.7 1321.4,438.2 1322.3,436.7 1323.2,435.2 1324.1,433.7 1325.0,432.2 1325.7,430.7 1326.4,429.2 1327.0,427.7 1327.6,426.2 1328.2,424.7 1328.8,423.2 1329.3,421.7 1329.8,420.2 1330.2,418.6 1330.6,417.1 1331.0,415.6 1331.3,414.1 1331.5,412.6 1331.7,411.1 1331.7,409.6 1331.8,408.1 1331.8,406.6 1331.8,405.1 1331.8,403.6 1331.9,402.1 1331.9,400.6 1332.0,399.1 1332.2,397.6 1332.4,396.1 1332.7,394.6 1333.0,393.1 1333.3,391.6 1333.7,390.1 1334.0,388.6 1334.4,387.1 1334.9,385.6 1335.3,384.1 1335.8,382.6 1336.3,381.1 1336.8,379.6 1337.4,378.1 1338.0,376.6 1338.7,375.1 1339.4,373.6 1340.1,372.1 1340.8,370.6 1341.5,369.1 1342.2,367.6 1342.9,366.1 1343.5,364.6Z" fill="#00BFC4" stroke="#333333" stroke-width="2" stroke-linejoin="round"/>
<line x1="1357.9" y1="364.6" x2="1357.9" y2="397.4" stroke="#333333" stroke-width="1.8"/>
<line x1="1357.9" y1="495.7" x2="1357.9" y2="561.3" stroke="#333333" stroke-width="1.8"/>
<rect x="1353.0" y="397.4" width="9.9" height="98.3" fill="#00BFC4" stroke="#333333" stroke-width="1.8"/>
<line x1="1353.0" y1="462.9" x2="1362.9" y2="462.9" stroke="#333333" stroke-width="3.4"/>
<line x1="99.3" y1="354.0" x2="99.3" y2="571.3" stroke="#000" stroke-width="1.9"/>
<line x1="93.6" y1="561.3" x2="99.3" y2="561.3" stroke="#222" stroke-width="1.6"/>
<text transform="translate(88.3,570.3) scale(0.9,1)" text-anchor="end" font-family="&quot;Liberation Serif&quot;, serif" font-size="26.5" fill="#4D4D4D">1</text>
<line x1="93.6" y1="528.5" x2="99.3" y2="528.5" stroke="#222" stroke-width="1.6"/>
<text transform="translate(88.3,537.5) scale(0.9,1)" text-anchor="end" font-family="&quot;Liberation Serif&quot;, serif" font-size="26.5" fill="#4D4D4D">2</text>
<line x1="93.6" y1="495.7" x2="99.3" y2="495.7" stroke="#222" stroke-width="1.6"/>
<text transform="translate(88.3,504.7) scale(0.9,1)" text-anchor="end" font-family="&quot;Liberation Serif&quot;, serif" font-size="26.5" fill="#4D4D4D">3</text>
<line x1="93.6" y1="462.9" x2="99.3" y2="462.9" stroke="#222" stroke-width="1.6"/>
<text transform="translate(88.3,471.9) scale(0.9,1)" text-anchor="end" font-family="&quot;Liberation Serif&quot;, serif" font-size="26.5" fill="#4D4D4D">4</text>
<line x1="93.6" y1="430.2" x2="99.3" y2="430.2" stroke="#222" stroke-width="1.6"/>
<text transform="translate(88.3,439.2) scale(0.9,1)" text-anchor="end" font-family="&quot;Liberation Serif&quot;, serif" font-size="26.5" fill="#4D4D4D">5</text>
<line x1="93.6" y1="397.4" x2="99.3" y2="397.4" stroke="#222" stroke-width="1.6"/>
<text transform="translate(88.3,406.4) scale(0.9,1)" text-anchor="end" font-family="&quot;Liberation Serif&quot;, serif" font-size="26.5" fill="#4D4D4D">6</text>
<line x1="93.6" y1="364.6" x2="99.3" y2="364.6" stroke="#222" stroke-width="1.6"/>
<text transform="translate(88.3,373.6) scale(0.9,1)" text-anchor="end" font-family="&quot;Liberation Serif&quot;, serif" font-size="26.5" fill="#4D4D4D">7</text>
<rect x="99.3" y="582.0" width="209.2" height="215.9" fill="#fff" stroke="#666" stroke-width="1.4"/>
<path d="M162.2,591.9 162.8,593.4 163.6,594.9 164.3,596.4 165.0,597.9 165.7,599.4 166.4,600.9 167.1,602.4 167.8,603.9 168.4,605.4 169.1,606.9 169.7,608.4 170.4,609.9 171.0,611.4 171.7,612.9 172.5,614.4 173.1,615.9 173.8,617.4 174.3,618.9 174.8,620.4 175.2,621.9 175.4,623.4 175.5,624.9 175.4,626.4 175.4,627.9 175.4,629.4 175.4,630.9 175.3,632.4 175.3,633.9 175.2,635.4 175.2,636.9 175.2,638.4 175.2,639.9 175.2,641.4 175.2,642.9 175.3,644.4 175.5,645.9 175.7,647.5 176.0,649.0 176.4,650.5 176.8,652.0 177.4,653.5 178.0,655.0 178.7,656.5 179.4,658.0 180.4,659.5 181.4,661.0 182.6,662.5 183.9,664.0 185.3,665.5 186.6,667.0 188.0,668.5 189.3,670.0 190.5,671.5 191.6,673.0 192.5,674.5 193.5,676.0 194.5,677.5 195.4,679.0 196.3,680.5 197.2,682.0 197.9,683.5 198.6,685.0 199.1,686.5 199.4,688.0 199.6,689.5 199.6,691.0 199.5,692.5 199.2,694.0 198.9,695.5 198.4,697.0 197.9,698.5 197.3,700.0 196.6,701.5 195.9,703.0 195.2,704.5 194.5,706.0 193.7,707.5 192.9,709.0 191.9,710.5 190.9,712.0 189.8,713.5 188.8,715.0 187.7,716.5 186.7,718.0 185.7,719.5 184.8,721.0 184.0,722.5 183.3,724.0 182.7,725.5 182.2,727.0 181.8,728.5 181.4,730.0 181.1,731.5 180.7,733.0 180.4,734.5 180.0,736.0 179.7,737.5 179.3,739.0 178.8,740.5 178.4,742.0 177.9,743.5 177.5,745.0 177.0,746.5 176.6,748.0 176.1,749.5 175.6,751.0 175.1,752.5 174.6,754.0 174.0,755.5 173.5,757.1 172.8,758.6 172.2,760.1 171.5,761.6 170.8,763.1 170.1,764.6 169.4,766.1 168.7,767.6 168.0,769.1 167.4,770.6 166.8,772.1 166.3,773.6 165.8,775.1 165.3,776.6 164.8,778.1 164.4,779.6 164.0,781.1 163.6,782.6 163.1,784.1 162.7,785.6 162.3,787.1 161.9,788.6 150.9,788.6 150.4,787.1 150.0,785.6 149.6,784.1 149.2,782.6 148.7,781.1 148.3,779.6 147.9,778.1 147.4,776.6 147.0,775.1 146.4,773.6 145.9,772.1 145.3,770.6 144.7,769.1 144.0,767.6 143.3,766.1 142.6,764.6 141.9,763.1 141.2,761.6 140.5,760.1 139.9,758.6 139.2,757.1 138.7,755.5 138.1,754.0 137.6,752.5 137.1,751.0 136.6,749.5 136.1,748.0 135.7,746.5 135.2,745.0 134.8,743.5 134.3,742.0 133.9,740.5 133.4,739.0 133.0,737.5 132.7,736.0 132.3,734.5 132.0,733.0 131.7,731.5 131.3,730.0 130.9,728.5 130.5,727.0 130.0,725.5 129.4,724.0 128.7,722.5 127.9,721.0 127.0,719.5 126.0,718.0 125.0,716.5 123.9,715.0 122.9,713.5 121.8,712.0 120.8,710.5 119.9,709.0 119.0,707.5 118.3,706.0 117.5,704.5 116.8,703.0 116.1,701.5 115.4,700.0 114.8,698.5 114.3,697.0 113.8,695.5 113.5,694.0 113.2,692.5 113.1,691.0 113.1,689.5 113.3,688.0 113.6,686.5 114.2,685.0 114.8,683.5 115.6,682.0 116.4,680.5 117.3,679.0 118.2,677.5 119.2,676.0 120.2,674.5 121.1,673.0 122.2,671.5 123.4,670.0 124.7,668.5 126.1,667.0 127.4,665.5 128.8,664.0 130.1,662.5 131.3,661.0 132.4,659.5 133.3,658.0 134.1,656.5 134.7,655.0 135.3,653.5 135.9,652.0 136.3,650.5 136.7,649.0 137.0,647.5 137.2,645.9 137.4,644.4 137.5,642.9 137.6,641.4 137.6,639.9 137.5,638.4 137.5,636.9 137.5,635.4 137.4,633.9 137.4,632.4 137.4,630.9 137.3,629.4 137.3,627.9 137.3,626.4 137.3,624.9 137.3,623.4 137.5,621.9 137.9,620.4 138.4,618.9 138.9,617.4 139.6,615.9 140.3,614.4 141.0,612.9 141.7,611.4 142.4,609.9 143.0,608.4 143.6,606.9 144.3,605.4 144.9,603.9 145.6,602.4 146.3,600.9 147.0,599.4 147.7,597.9 148.4,596.4 149.2,594.9 149.9,593.4 150.6,591.9Z" fill="#F8766D" stroke="#333333" stroke-width="2" stroke-linejoin="round"/>
<line x1="156.4" y1="591.9" x2="156.4" y2="657.5" stroke="#333333" stroke-width="1.8"/>
<line x1="156.4" y1="723.0" x2="156.4" y2="788.6" stroke="#333333" stroke-width="1.8"/>
<rect x="151.4" y="657.5" width="9.9" height="65.6" fill="#F8766D" stroke="#333333" stroke-width="1.8"/>
<line x1="151.4" y1="690.2" x2="161.3" y2="690.2" stroke="#333333" stroke-width="3.4"/>
<path d="M277.5,591.9 278.5,593.4 279.4,594.9 280.4,596.4 281.4,597.9 282.4,599.4 283.4,600.9 284.3,602.4 285.2,603.9 286.1,605.4 286.9,606.9 287.6,608.4 288.3,609.9 289.0,611.4 289.6,613.0 290.2,614.5 290.8,616.0 291.3,617.5 291.7,619.0 292.1,620.5 292.4,622.0 292.5,623.5 292.5,625.0 292.4,626.5 292.1,628.0 291.6,629.5 291.0,631.0 290.3,632.5 289.6,634.0 288.8,635.5 288.0,637.0 287.2,638.5 286.5,640.0 285.9,641.5 285.2,643.0 284.6,644.5 283.9,646.0 283.2,647.5 282.5,649.0 281.9,650.5 281.2,652.0 280.6,653.6 280.0,655.1 279.5,656.6 279.0,658.1 278.5,659.6 278.1,661.1 277.7,662.6 277.4,664.1 277.0,665.6 276.7,667.1 276.4,668.6 276.1,670.1 275.8,671.6 275.4,673.1 275.1,674.6 274.7,676.1 274.3,677.6 273.9,679.1 273.5,680.6 273.1,682.1 272.7,683.6 272.2,685.1 271.9,686.6 271.5,688.1 271.1,689.6 270.7,691.1 270.4,692.6 270.0,694.1 269.7,695.7 269.4,697.2 269.0,698.7 268.7,700.2 268.4,701.7 268.1,703.2 267.8,704.7 267.4,706.2 267.1,707.7 266.8,709.2 266.5,710.7 266.2,712.2 265.9,713.7 265.6,715.2 265.3,716.7 265.1,718.2 264.8,719.7 264.5,721.2 264.2,722.7 263.9,724.2 263.6,725.7 263.4,727.2 263.1,728.7 262.8,730.2 262.6,731.7 262.3,733.2 262.1,734.7 261.8,736.3 261.5,737.8 261.3,739.3 261.0,740.8 260.7,742.3 260.5,743.8 260.2,745.3 259.9,746.8 259.7,748.3 259.4,749.8 259.1,751.3 258.9,752.8 258.6,754.3 258.3,755.8 244.5,755.8 244.3,754.3 244.0,752.8 243.7,751.3 243.5,749.8 243.2,748.3 242.9,746.8 242.7,745.3 242.4,743.8 242.2,742.3 241.9,740.8 241.6,739.3 241.4,737.8 241.1,736.3 240.8,734.7 240.6,733.2 240.3,731.7 240.0,730.2 239.8,728.7 239.5,727.2 239.2,725.7 239.0,724.2 238.7,722.7 238.4,721.2 238.1,719.7 237.8,718.2 237.6,716.7 237.3,715.2 237.0,713.7 236.7,712.2 236.4,710.7 236.1,709.2 235.8,707.7 235.5,706.2 235.1,704.7 234.8,703.2 234.5,701.7 234.2,700.2 233.9,698.7 233.5,697.2 233.2,695.7 232.9,694.1 232.5,692.6 232.2,691.1 231.8,689.6 231.4,688.1 231.0,686.6 230.6,685.1 230.2,683.6 229.8,682.1 229.4,680.6 229.0,679.1 228.6,677.6 228.2,676.1 227.8,674.6 227.5,673.1 227.1,671.6 226.8,670.1 226.5,668.6 226.2,667.1 225.8,665.6 225.5,664.1 225.2,662.6 224.8,661.1 224.4,659.6 223.9,658.1 223.4,656.6 222.9,655.1 222.3,653.6 221.7,652.0 221.0,650.5 220.4,649.0 219.7,647.5 219.0,646.0 218.3,644.5 217.7,643.0 217.0,641.5 216.4,640.0 215.7,638.5 214.9,637.0 214.1,635.5 213.3,634.0 212.6,632.5 211.9,631.0 211.3,629.5 210.8,628.0 210.5,626.5 210.3,625.0 210.4,623.5 210.5,622.0 210.8,620.5 211.2,619.0 211.6,617.5 212.1,616.0 212.7,614.5 213.3,613.0 213.9,611.4 214.6,609.9 215.3,608.4 216.0,606.9 216.8,605.4 217.6,603.9 218.6,602.4 219.5,600.9 220.5,599.4 221.5,597.9 222.5,596.4 223.4,594.9 224.4,593.4 225.3,591.9Z" fill="#00BFC4" stroke="#333333" stroke-width="2" stroke-linejoin="round"/>
<line x1="251.4" y1="591.9" x2="251.4" y2="624.7" stroke="#333333" stroke-width="1.8"/>
<line x1="251.4" y1="690.2" x2="251.4" y2="755.8" stroke="#333333" stroke-width="1.8"/>
<rect x="246.5" y="624.7" width="9.9" height="65.6" fill="#00BFC4" stroke="#333333" stroke-width="1.8"/>
<line x1="246.5" y1="624.7" x2="256.4" y2="624.7" stroke="#333333" stroke-width="3.4"/>
<rect x="320.6" y="582.0" width="209.2" height="215.9" fill="#fff" stroke="#666" stroke-width="1.4"/>
<path d="M384.2,624.7 384.2,626.2 384.2,627.7 384.3,629.2 384.3,630.7 384.3,632.2 384.3,633.7 384.4,635.2 384.4,636.7 384.5,638.2 384.6,639.7 384.8,641.2 384.9,642.7 385.1,644.2 385.3,645.7 385.5,647.2 385.7,648.7 386.0,650.2 386.3,651.7 386.7,653.2 387.1,654.8 387.6,656.3 388.2,657.8 388.9,659.3 389.7,660.8 390.5,662.3 391.5,663.8 392.5,665.3 393.5,666.8 394.5,668.3 395.5,669.8 396.4,671.3 397.3,672.8 398.1,674.3 398.8,675.8 399.5,677.3 400.2,678.8 400.8,680.3 401.5,681.8 402.1,683.3 402.7,684.8 403.3,686.3 404.0,687.8 404.6,689.3 405.3,690.8 406.0,692.3 406.8,693.8 407.5,695.4 408.2,696.9 409.0,698.4 409.7,699.9 410.5,701.4 411.2,702.9 412.0,704.4 412.7,705.9 413.4,707.4 414.3,708.9 415.2,710.4 416.1,711.9 417.1,713.4 418.0,714.9 418.8,716.4 419.6,717.9 420.2,719.4 420.6,720.9 420.8,722.4 420.8,723.9 420.7,725.4 420.4,726.9 420.0,728.4 419.5,729.9 419.0,731.4 418.5,732.9 418.0,734.4 417.4,736.0 417.0,737.5 416.6,739.0 416.2,740.5 416.0,742.0 415.8,743.5 415.7,745.0 415.5,746.5 415.4,748.0 415.2,749.5 415.0,751.0 414.7,752.5 414.2,754.0 413.7,755.5 413.0,757.0 412.2,758.5 411.3,760.0 410.3,761.5 409.2,763.0 408.1,764.5 406.9,766.0 405.7,767.5 404.6,769.0 403.4,770.5 402.3,772.0 401.2,773.5 400.0,775.0 398.9,776.6 397.7,778.1 396.5,779.6 395.4,781.1 394.2,782.6 393.0,784.1 391.8,785.6 390.6,787.1 389.5,788.6 365.9,788.6 364.7,787.1 363.5,785.6 362.3,784.1 361.1,782.6 360.0,781.1 358.8,779.6 357.6,778.1 356.4,776.6 355.3,775.0 354.2,773.5 353.0,772.0 351.9,770.5 350.7,769.0 349.6,767.5 348.4,766.0 347.2,764.5 346.1,763.0 345.0,761.5 344.0,760.0 343.1,758.5 342.3,757.0 341.6,755.5 341.1,754.0 340.6,752.5 340.3,751.0 340.1,749.5 339.9,748.0 339.8,746.5 339.6,745.0 339.5,743.5 339.3,742.0 339.1,740.5 338.7,739.0 338.3,737.5 337.9,736.0 337.4,734.4 336.8,732.9 336.3,731.4 335.8,729.9 335.3,728.4 334.9,726.9 334.6,725.4 334.5,723.9 334.5,722.4 334.7,720.9 335.1,719.4 335.7,717.9 336.5,716.4 337.3,714.9 338.2,713.4 339.2,711.9 340.1,710.4 341.0,708.9 341.9,707.4 342.6,705.9 343.4,704.4 344.1,702.9 344.8,701.4 345.6,699.9 346.3,698.4 347.1,696.9 347.8,695.4 348.5,693.8 349.3,692.3 350.0,690.8 350.7,689.3 351.3,687.8 352.0,686.3 352.6,684.8 353.2,683.3 353.8,681.8 354.5,680.3 355.1,678.8 355.8,677.3 356.5,675.8 357.2,674.3 358.0,672.8 358.9,671.3 359.8,669.8 360.8,668.3 361.8,666.8 362.8,665.3 363.8,663.8 364.8,662.3 365.7,660.8 366.4,659.3 367.1,657.8 367.7,656.3 368.2,654.8 368.6,653.2 369.0,651.7 369.3,650.2 369.6,648.7 369.8,647.2 370.0,645.7 370.2,644.2 370.4,642.7 370.5,641.2 370.7,639.7 370.8,638.2 370.9,636.7 370.9,635.2 371.0,633.7 371.0,632.2 371.0,630.7 371.1,629.2 371.1,627.7 371.1,626.2 371.2,624.7Z" fill="#F8766D" stroke="#333333" stroke-width="2" stroke-linejoin="round"/>
<line x1="377.7" y1="624.7" x2="377.7" y2="690.2" stroke="#333333" stroke-width="1.8"/>
<line x1="377.7" y1="755.8" x2="377.7" y2="788.6" stroke="#333333" stroke-width="1.8"/>
<rect x="372.7" y="690.2" width="9.9" height="65.6" fill="#F8766D" stroke="#333333" stroke-width="1.8"/>
<line x1="372.7" y1="723.0" x2="382.6" y2="723.0" stroke="#333333" stroke-width="3.4"/>
<path d="M482.5,591.9 482.7,593.4 482.8,594.9 482.9,596.4 483.0,597.9 483.1,599.4 483.3,600.9 483.4,602.4 483.5,603.9 483.7,605.4 483.8,606.9 484.0,608.4 484.1,609.9 484.3,611.4 484.5,612.9 484.7,614.4 484.9,615.9 485.1,617.4 485.3,618.9 485.5,620.4 485.7,621.9 485.9,623.4 486.1,624.9 486.3,626.4 486.4,627.9 486.6,629.4 486.8,630.9 487.0,632.4 487.2,633.9 487.4,635.4 487.5,636.9 487.7,638.4 487.9,639.9 488.1,641.4 488.3,642.9 488.4,644.4 488.6,645.9 488.8,647.5 488.9,649.0 489.1,650.5 489.3,652.0 489.4,653.5 489.7,655.0 489.9,656.5 490.1,658.0 490.4,659.5 490.7,661.0 491.0,662.5 491.3,664.0 491.6,665.5 491.9,667.0 492.2,668.5 492.6,670.0 493.0,671.5 493.4,673.0 493.8,674.5 494.3,676.0 494.8,677.5 495.3,679.0 495.9,680.5 496.4,682.0 497.0,683.5 497.5,685.0 498.1,686.5 498.7,688.0 499.2,689.5 499.7,691.0 500.2,692.5 500.8,694.0 501.3,695.5 501.9,697.0 502.4,698.5 502.9,700.0 503.4,701.5 503.8,703.0 504.2,704.5 504.6,706.0 504.9,707.5 505.2,709.0 505.4,710.5 505.7,712.0 505.8,713.5 506.0,715.0 506.1,716.5 506.2,718.0 506.3,719.5 506.3,721.0 506.3,722.5 506.3,724.0 506.1,725.5 505.8,727.0 505.3,728.5 504.7,730.0 504.1,731.5 503.4,733.0 502.7,734.5 502.0,736.0 501.3,737.5 500.6,739.0 500.0,740.5 499.3,742.0 498.7,743.5 498.0,745.0 497.3,746.5 496.6,748.0 495.9,749.5 495.1,751.0 494.4,752.5 493.7,754.0 493.1,755.5 492.4,757.1 491.7,758.6 491.0,760.1 490.3,761.6 489.6,763.1 488.9,764.6 488.3,766.1 487.6,767.6 487.0,769.1 486.4,770.6 485.8,772.1 485.2,773.6 484.7,775.1 484.2,776.6 483.8,778.1 483.3,779.6 482.9,781.1 482.4,782.6 482.0,784.1 481.6,785.6 481.1,787.1 480.6,788.6 464.8,788.6 464.4,787.1 463.9,785.6 463.5,784.1 463.1,782.6 462.6,781.1 462.2,779.6 461.7,778.1 461.3,776.6 460.8,775.1 460.2,773.6 459.7,772.1 459.1,770.6 458.5,769.1 457.9,767.6 457.2,766.1 456.5,764.6 455.9,763.1 455.2,761.6 454.5,760.1 453.8,758.6 453.1,757.1 452.4,755.5 451.7,754.0 451.1,752.5 450.3,751.0 449.6,749.5 448.9,748.0 448.2,746.5 447.5,745.0 446.8,743.5 446.2,742.0 445.5,740.5 444.9,739.0 444.2,737.5 443.5,736.0 442.8,734.5 442.1,733.0 441.4,731.5 440.8,730.0 440.2,728.5 439.7,727.0 439.4,725.5 439.2,724.0 439.1,722.5 439.2,721.0 439.2,719.5 439.3,718.0 439.4,716.5 439.5,715.0 439.6,713.5 439.8,712.0 440.0,710.5 440.3,709.0 440.6,707.5 440.9,706.0 441.2,704.5 441.7,703.0 442.1,701.5 442.6,700.0 443.1,698.5 443.6,697.0 444.2,695.5 444.7,694.0 445.3,692.5 445.8,691.0 446.3,689.5 446.8,688.0 447.4,686.5 447.9,685.0 448.5,683.5 449.1,682.0 449.6,680.5 450.2,679.0 450.7,677.5 451.2,676.0 451.7,674.5 452.1,673.0 452.5,671.5 452.9,670.0 453.2,668.5 453.6,667.0 453.9,665.5 454.2,664.0 454.5,662.5 454.8,661.0 455.1,659.5 455.4,658.0 455.6,656.5 455.8,655.0 456.0,653.5 456.2,652.0 456.4,650.5 456.6,649.0 456.7,647.5 456.9,645.9 457.1,644.4 457.2,642.9 457.4,641.4 457.6,639.9 457.8,638.4 457.9,636.9 458.1,635.4 458.3,633.9 458.5,632.4 458.7,630.9 458.9,629.4 459.0,627.9 459.2,626.4 459.4,624.9 459.6,623.4 459.8,621.9 460.0,620.4 460.2,618.9 460.4,617.4 460.6,615.9 460.8,614.4 461.0,612.9 461.2,611.4 461.4,609.9 461.5,608.4 461.7,606.9 461.8,605.4 462.0,603.9 462.1,602.4 462.2,600.9 462.3,599.4 462.5,597.9 462.6,596.4 462.7,594.9 462.8,593.4 462.9,591.9Z" fill="#00BFC4" stroke="#333333" stroke-width="2" stroke-linejoin="round"/>
<line x1="472.7" y1="591.9" x2="472.7" y2="657.5" stroke="#333333" stroke-width="1.8"/>
<line x1="472.7" y1="723.0" x2="472.7" y2="788.6" stroke="#333333" stroke-width="1.8"/>
<rect x="467.8" y="657.5" width="9.9" height="65.6" fill="#00BFC4" stroke="#333333" stroke-width="1.8"/>
<line x1="467.8" y1="723.0" x2="477.7" y2="723.0" stroke="#333333" stroke-width="3.4"/>
<rect x="541.9" y="582.0" width="209.2" height="215.9" fill="#fff" stroke="#666" stroke-width="1.4"/>
<path d="M602.5,591.9 602.2,593.4 602.0,594.9 601.7,596.4 601.5,597.9 601.2,599.4 601.0,600.9 600.8,602.4 600.6,603.9 600.4,605.4 600.2,606.9 600.1,608.4 600.1,609.9 600.0,611.4 600.0,612.9 599.9,614.4 599.9,615.9 599.9,617.4 599.9,618.9 599.9,620.4 599.9,621.9 599.9,623.4 599.9,624.9 599.9,626.4 599.9,627.9 599.9,629.4 599.9,630.9 599.9,632.4 600.0,633.9 600.1,635.4 600.2,636.9 600.4,638.4 601.0,639.9 601.7,641.4 602.5,642.9 603.5,644.4 604.6,645.9 605.7,647.5 606.7,649.0 607.7,650.5 608.6,652.0 609.4,653.5 610.0,655.0 610.3,656.5 610.3,658.0 610.2,659.5 609.8,661.0 609.4,662.5 608.9,664.0 608.5,665.5 608.2,667.0 608.1,668.5 608.4,670.0 609.7,671.5 611.7,673.0 614.3,674.5 617.3,676.0 620.6,677.5 624.2,679.0 627.7,680.5 631.2,682.0 634.4,683.5 637.3,685.0 639.6,686.5 641.3,688.0 642.2,689.5 642.2,691.0 641.0,692.5 638.9,694.0 636.1,695.5 632.8,697.0 629.3,698.5 625.8,700.0 622.6,701.5 619.8,703.0 617.7,704.5 616.7,706.0 616.7,707.5 617.6,709.0 619.2,710.5 621.2,712.0 623.6,713.5 626.1,715.0 628.6,716.5 630.9,718.0 632.8,719.5 634.2,721.0 634.9,722.5 634.7,724.0 633.3,725.5 631.1,727.0 628.2,728.5 624.8,730.0 621.3,731.5 617.8,733.0 614.6,734.5 611.9,736.0 610.0,737.5 609.1,739.0 609.1,740.5 609.4,742.0 609.7,743.5 610.2,745.0 610.8,746.5 611.4,748.0 612.0,749.5 612.5,751.0 612.9,752.5 613.2,754.0 613.4,755.5 613.2,757.1 612.7,758.6 612.0,760.1 611.0,761.6 609.9,763.1 608.8,764.6 607.7,766.1 606.7,767.6 605.8,769.1 605.3,770.6 605.1,772.1 605.1,773.6 605.2,775.1 605.5,776.6 605.8,778.1 606.1,779.6 606.5,781.1 606.9,782.6 607.3,784.1 607.7,785.6 608.0,787.1 608.4,788.6 589.6,788.6 589.9,787.1 590.2,785.6 590.6,784.1 591.0,782.6 591.4,781.1 591.8,779.6 592.2,778.1 592.4,776.6 592.7,775.1 592.8,773.6 592.9,772.1 592.6,770.6 592.1,769.1 591.2,767.6 590.2,766.1 589.1,764.6 588.0,763.1 586.9,761.6 585.9,760.1 585.2,758.6 584.7,757.1 584.6,755.5 584.7,754.0 585.0,752.5 585.4,751.0 586.0,749.5 586.5,748.0 587.1,746.5 587.7,745.0 588.2,743.5 588.6,742.0 588.8,740.5 588.8,739.0 587.9,737.5 586.0,736.0 583.3,734.5 580.1,733.0 576.6,731.5 573.1,730.0 569.8,728.5 566.8,727.0 564.6,725.5 563.2,724.0 563.0,722.5 563.7,721.0 565.1,719.5 567.1,718.0 569.4,716.5 571.8,715.0 574.3,713.5 576.7,712.0 578.8,710.5 580.3,709.0 581.2,707.5 581.2,706.0 580.2,704.5 578.1,703.0 575.4,701.5 572.1,700.0 568.6,698.5 565.1,697.0 561.8,695.5 559.0,694.0 556.9,692.5 555.7,691.0 555.7,689.5 556.6,688.0 558.3,686.5 560.6,685.0 563.5,683.5 566.7,682.0 570.2,680.5 573.8,679.0 577.3,677.5 580.6,676.0 583.6,674.5 586.2,673.0 588.2,671.5 589.5,670.0 589.9,668.5 589.7,667.0 589.4,665.5 589.0,664.0 588.5,662.5 588.1,661.0 587.8,659.5 587.6,658.0 587.6,656.5 587.9,655.0 588.5,653.5 589.3,652.0 590.2,650.5 591.2,649.0 592.2,647.5 593.3,645.9 594.4,644.4 595.4,642.9 596.2,641.4 597.0,639.9 597.5,638.4 597.7,636.9 597.8,635.4 597.9,633.9 598.0,632.4 598.0,630.9 598.0,629.4 598.0,627.9 598.1,626.4 598.1,624.9 598.1,623.4 598.1,621.9 598.0,620.4 598.0,618.9 598.0,617.4 598.0,615.9 598.0,614.4 597.9,612.9 597.9,611.4 597.8,609.9 597.8,608.4 597.7,606.9 597.5,605.4 597.3,603.9 597.1,602.4 596.9,600.9 596.7,599.4 596.4,597.9 596.2,596.4 595.9,594.9 595.7,593.4 595.5,591.9Z" fill="#F8766D" stroke="#333333" stroke-width="2" stroke-linejoin="round"/>
<line x1="599.0" y1="657.5" x2="599.0" y2="690.2" stroke="#333333" stroke-width="1.8"/>
<line x1="599.0" y1="723.0" x2="599.0" y2="755.8" stroke="#333333" stroke-width="1.8"/>
<rect x="594.0" y="690.2" width="9.9" height="32.8" fill="#F8766D" stroke="#333333" stroke-width="1.8"/>
<line x1="594.0" y1="723.0" x2="603.9" y2="723.0" stroke="#333333" stroke-width="3.4"/>
<path d="M702.4,591.9 703.2,593.4 704.0,594.9 704.8,596.4 705.6,597.9 706.5,599.4 707.3,600.9 708.0,602.4 708.8,603.9 709.5,605.4 710.1,606.9 710.7,608.4 711.2,609.9 711.8,611.4 712.2,613.0 712.7,614.5 713.1,616.0 713.5,617.5 713.8,619.0 714.0,620.5 714.2,622.0 714.3,623.5 714.3,625.0 714.3,626.5 714.2,628.0 714.1,629.5 714.0,631.0 713.8,632.5 713.6,634.0 713.4,635.5 713.3,637.0 713.1,638.5 712.9,640.0 712.8,641.5 712.7,643.0 712.6,644.5 712.5,646.0 712.3,647.5 712.2,649.0 712.1,650.5 712.0,652.0 711.9,653.6 711.8,655.1 711.7,656.6 711.6,658.1 711.5,659.6 711.4,661.1 711.3,662.6 711.1,664.1 711.0,665.6 710.9,667.1 710.8,668.6 710.7,670.1 710.7,671.6 710.6,673.1 710.6,674.6 710.7,676.1 710.7,677.6 710.7,679.1 710.8,680.6 710.8,682.1 710.9,683.6 711.0,685.1 711.0,686.6 711.0,688.1 711.0,689.6 711.0,691.1 711.0,692.6 710.8,694.1 710.6,695.7 710.4,697.2 710.1,698.7 709.8,700.2 709.6,701.7 709.3,703.2 709.0,704.7 708.8,706.2 708.6,707.7 708.4,709.2 708.2,710.7 708.1,712.2 707.9,713.7 707.7,715.2 707.6,716.7 707.4,718.2 707.2,719.7 707.0,721.2 706.8,722.7 706.6,724.2 706.3,725.7 706.0,727.2 705.8,728.7 705.5,730.2 705.2,731.7 704.9,733.2 704.7,734.7 704.4,736.3 704.1,737.8 703.9,739.3 703.6,740.8 703.4,742.3 703.2,743.8 703.0,745.3 702.8,746.8 702.6,748.3 702.4,749.8 702.2,751.3 702.0,752.8 701.8,754.3 701.5,755.8 686.5,755.8 686.3,754.3 686.1,752.8 685.9,751.3 685.7,749.8 685.5,748.3 685.3,746.8 685.1,745.3 684.9,743.8 684.7,742.3 684.5,740.8 684.2,739.3 684.0,737.8 683.7,736.3 683.4,734.7 683.2,733.2 682.9,731.7 682.6,730.2 682.3,728.7 682.0,727.2 681.8,725.7 681.5,724.2 681.3,722.7 681.1,721.2 680.9,719.7 680.7,718.2 680.5,716.7 680.4,715.2 680.2,713.7 680.0,712.2 679.8,710.7 679.7,709.2 679.5,707.7 679.3,706.2 679.1,704.7 678.8,703.2 678.5,701.7 678.2,700.2 678.0,698.7 677.7,697.2 677.5,695.7 677.3,694.1 677.1,692.6 677.1,691.1 677.0,689.6 677.1,688.1 677.1,686.6 677.1,685.1 677.2,683.6 677.2,682.1 677.3,680.6 677.3,679.1 677.4,677.6 677.4,676.1 677.4,674.6 677.4,673.1 677.4,671.6 677.4,670.1 677.3,668.6 677.2,667.1 677.1,665.6 677.0,664.1 676.8,662.6 676.7,661.1 676.6,659.6 676.5,658.1 676.4,656.6 676.3,655.1 676.2,653.6 676.1,652.0 676.0,650.5 675.9,649.0 675.7,647.5 675.6,646.0 675.5,644.5 675.4,643.0 675.3,641.5 675.2,640.0 675.0,638.5 674.8,637.0 674.6,635.5 674.5,634.0 674.3,632.5 674.1,631.0 674.0,629.5 673.9,628.0 673.8,626.5 673.7,625.0 673.8,623.5 673.9,622.0 674.1,620.5 674.3,619.0 674.6,617.5 675.0,616.0 675.4,614.5 675.9,613.0 676.3,611.4 676.9,609.9 677.4,608.4 678.0,606.9 678.6,605.4 679.3,603.9 680.0,602.4 680.8,600.9 681.6,599.4 682.4,597.9 683.3,596.4 684.1,594.9 684.9,593.4 685.6,591.9Z" fill="#00BFC4" stroke="#333333" stroke-width="2" stroke-linejoin="round"/>
<line x1="694.0" y1="591.9" x2="694.0" y2="624.7" stroke="#333333" stroke-width="1.8"/>
<line x1="694.0" y1="697.5" x2="694.0" y2="755.8" stroke="#333333" stroke-width="1.8"/>
<rect x="689.1" y="624.7" width="9.9" height="72.8" fill="#00BFC4" stroke="#333333" stroke-width="1.8"/>
<line x1="689.1" y1="657.5" x2="699.0" y2="657.5" stroke="#333333" stroke-width="3.4"/>
<rect x="763.2" y="582.0" width="209.2" height="215.9" fill="#fff" stroke="#666" stroke-width="1.4"/>
<path d="M822.0,624.7 821.9,626.2 821.7,627.7 821.6,629.2 821.5,630.7 821.4,632.2 821.3,633.7 821.2,635.2 821.1,636.7 821.0,638.2 821.0,639.7 821.0,641.2 821.0,642.7 821.0,644.2 821.0,645.7 821.0,647.2 821.0,648.7 821.0,650.2 821.0,651.7 821.0,653.2 821.0,654.8 821.0,656.3 821.0,657.8 821.0,659.3 821.0,660.8 821.0,662.3 821.0,663.8 821.1,665.3 821.1,666.8 821.2,668.3 821.2,669.8 821.3,671.3 821.4,672.8 821.5,674.3 821.6,675.8 821.7,677.3 821.9,678.8 822.1,680.3 822.2,681.8 822.4,683.3 822.6,684.8 822.7,686.3 822.8,687.8 822.8,689.3 822.8,690.8 822.8,692.3 822.7,693.8 822.5,695.4 822.4,696.9 822.2,698.4 822.1,699.9 822.1,701.4 822.2,702.9 822.7,704.4 823.5,705.9 824.6,707.4 826.0,708.9 827.4,710.4 829.0,711.9 830.5,713.4 832.0,714.9 833.5,716.4 834.7,717.9 835.7,719.4 836.4,720.9 836.8,722.4 836.8,723.9 836.5,725.4 836.0,726.9 835.4,728.4 834.6,729.9 833.8,731.4 833.1,732.9 832.3,734.4 831.7,736.0 831.3,737.5 831.1,739.0 831.4,740.5 833.2,742.0 836.0,743.5 839.6,745.0 843.8,746.5 848.2,748.0 852.5,749.5 856.5,751.0 859.8,752.5 862.1,754.0 863.1,755.5 862.7,757.0 861.2,758.5 858.7,760.0 855.6,761.5 852.1,763.0 848.4,764.5 844.7,766.0 841.5,767.5 838.8,769.0 836.9,770.5 836.2,772.0 836.4,773.5 837.4,775.0 838.9,776.6 840.8,778.1 843.1,779.6 845.7,781.1 848.4,782.6 851.1,784.1 853.7,785.6 856.2,787.1 858.5,788.6 782.1,788.6 784.3,787.1 786.8,785.6 789.4,784.1 792.1,782.6 794.8,781.1 797.4,779.6 799.7,778.1 801.6,776.6 803.1,775.0 804.1,773.5 804.3,772.0 803.6,770.5 801.7,769.0 799.0,767.5 795.8,766.0 792.2,764.5 788.5,763.0 784.9,761.5 781.8,760.0 779.3,758.5 777.8,757.0 777.4,755.5 778.4,754.0 780.7,752.5 784.0,751.0 788.0,749.5 792.3,748.0 796.7,746.5 800.9,745.0 804.5,743.5 807.4,742.0 809.1,740.5 809.4,739.0 809.2,737.5 808.8,736.0 808.2,734.4 807.5,732.9 806.7,731.4 805.9,729.9 805.1,728.4 804.5,726.9 804.0,725.4 803.7,723.9 803.7,722.4 804.1,720.9 804.8,719.4 805.8,717.9 807.0,716.4 808.5,714.9 810.0,713.4 811.5,711.9 813.1,710.4 814.6,708.9 815.9,707.4 817.0,705.9 817.8,704.4 818.3,702.9 818.5,701.4 818.4,699.9 818.3,698.4 818.1,696.9 818.0,695.4 817.8,693.8 817.7,692.3 817.7,690.8 817.7,689.3 817.7,687.8 817.8,686.3 817.9,684.8 818.1,683.3 818.3,681.8 818.4,680.3 818.6,678.8 818.8,677.3 818.9,675.8 819.0,674.3 819.1,672.8 819.2,671.3 819.3,669.8 819.3,668.3 819.4,666.8 819.4,665.3 819.5,663.8 819.5,662.3 819.5,660.8 819.5,659.3 819.6,657.8 819.6,656.3 819.6,654.8 819.6,653.2 819.6,651.7 819.6,650.2 819.6,648.7 819.6,647.2 819.6,645.7 819.6,644.2 819.6,642.7 819.6,641.2 819.5,639.7 819.5,638.2 819.4,636.7 819.3,635.2 819.2,633.7 819.1,632.2 819.0,630.7 818.9,629.2 818.8,627.7 818.7,626.2 818.6,624.7Z" fill="#F8766D" stroke="#333333" stroke-width="2" stroke-linejoin="round"/>
<line x1="820.3" y1="723.0" x2="820.3" y2="755.8" stroke="#333333" stroke-width="1.8"/>
<line x1="820.3" y1="788.6" x2="820.3" y2="788.6" stroke="#333333" stroke-width="1.8"/>
<rect x="815.3" y="755.8" width="9.9" height="32.8" fill="#F8766D" stroke="#333333" stroke-width="1.8"/>
<line x1="815.3" y1="755.8" x2="825.2" y2="755.8" stroke="#333333" stroke-width="3.4"/>
<path d="M916.7,591.9 916.7,593.4 916.6,594.9 916.5,596.4 916.4,597.9 916.4,599.4 916.3,600.9 916.3,602.4 916.2,603.9 916.3,605.4 916.5,606.9 916.7,608.4 917.0,609.9 917.4,611.4 917.8,612.9 918.2,614.4 918.6,615.9 919.0,617.4 919.3,618.9 919.5,620.4 919.7,621.9 919.8,623.4 919.8,624.9 919.6,626.4 919.3,627.9 918.9,629.4 918.4,630.9 917.9,632.4 917.4,633.9 916.9,635.4 916.6,636.9 916.3,638.4 916.2,639.9 916.3,641.4 916.3,642.9 916.3,644.4 916.4,645.9 916.4,647.5 916.5,649.0 916.5,650.5 916.6,652.0 916.6,653.5 916.7,655.0 916.7,656.5 916.8,658.0 916.8,659.5 916.8,661.0 916.8,662.5 916.8,664.0 916.8,665.5 916.8,667.0 916.9,668.5 916.9,670.0 916.9,671.5 917.0,673.0 917.1,674.5 917.5,676.0 918.1,677.5 918.9,679.0 919.8,680.5 920.8,682.0 921.7,683.5 922.6,685.0 923.4,686.5 924.0,688.0 924.3,689.5 924.3,691.0 924.2,692.5 923.9,694.0 923.6,695.5 923.2,697.0 922.7,698.5 922.3,700.0 921.9,701.5 921.5,703.0 921.3,704.5 921.2,706.0 921.3,707.5 922.3,709.0 924.0,710.5 926.3,712.0 929.0,713.5 931.7,715.0 934.5,716.5 937.1,718.0 939.2,719.5 940.8,721.0 941.6,722.5 941.5,724.0 940.8,725.5 939.5,727.0 938.0,728.5 936.2,730.0 934.2,731.5 932.4,733.0 930.6,734.5 929.2,736.0 928.2,737.5 927.7,739.0 928.0,740.5 929.6,742.0 932.0,743.5 935.2,745.0 938.9,746.5 942.7,748.0 946.4,749.5 949.8,751.0 952.6,752.5 954.6,754.0 955.4,755.5 955.0,757.1 953.4,758.6 951.0,760.1 947.9,761.6 944.3,763.1 940.7,764.6 937.1,766.1 933.9,767.6 931.2,769.1 929.4,770.6 928.7,772.1 928.8,773.6 929.2,775.1 929.9,776.6 930.8,778.1 931.9,779.6 933.0,781.1 934.2,782.6 935.5,784.1 936.7,785.6 937.8,787.1 938.8,788.6 891.8,788.6 892.9,787.1 894.0,785.6 895.2,784.1 896.5,782.6 897.7,781.1 898.8,779.6 899.9,778.1 900.8,776.6 901.5,775.1 901.9,773.6 902.0,772.1 901.3,770.6 899.5,769.1 896.8,767.6 893.6,766.1 890.0,764.6 886.4,763.1 882.8,761.6 879.7,760.1 877.3,758.6 875.7,757.1 875.3,755.5 876.1,754.0 878.1,752.5 880.9,751.0 884.3,749.5 888.0,748.0 891.8,746.5 895.5,745.0 898.6,743.5 901.1,742.0 902.7,740.5 903.0,739.0 902.5,737.5 901.5,736.0 900.1,734.5 898.3,733.0 896.4,731.5 894.5,730.0 892.7,728.5 891.1,727.0 889.9,725.5 889.2,724.0 889.1,722.5 889.9,721.0 891.5,719.5 893.6,718.0 896.2,716.5 898.9,715.0 901.7,713.5 904.4,712.0 906.6,710.5 908.4,709.0 909.4,707.5 909.5,706.0 909.4,704.5 909.1,703.0 908.8,701.5 908.4,700.0 908.0,698.5 907.5,697.0 907.1,695.5 906.8,694.0 906.5,692.5 906.4,691.0 906.4,689.5 906.7,688.0 907.3,686.5 908.1,685.0 909.0,683.5 909.9,682.0 910.9,680.5 911.8,679.0 912.6,677.5 913.2,676.0 913.6,674.5 913.7,673.0 913.8,671.5 913.8,670.0 913.8,668.5 913.8,667.0 913.9,665.5 913.9,664.0 913.9,662.5 913.9,661.0 913.9,659.5 913.9,658.0 914.0,656.5 914.0,655.0 914.1,653.5 914.1,652.0 914.2,650.5 914.2,649.0 914.3,647.5 914.3,645.9 914.4,644.4 914.4,642.9 914.4,641.4 914.4,639.9 914.4,638.4 914.1,636.9 913.8,635.4 913.3,633.9 912.8,632.4 912.3,630.9 911.8,629.4 911.4,627.9 911.1,626.4 910.9,624.9 910.9,623.4 911.0,621.9 911.1,620.4 911.4,618.9 911.7,617.4 912.1,615.9 912.5,614.4 912.9,612.9 913.3,611.4 913.6,609.9 914.0,608.4 914.2,606.9 914.4,605.4 914.4,603.9 914.4,602.4 914.4,600.9 914.3,599.4 914.3,597.9 914.2,596.4 914.1,594.9 914.0,593.4 913.9,591.9Z" fill="#00BFC4" stroke="#333333" stroke-width="2" stroke-linejoin="round"/>
<line x1="915.3" y1="690.2" x2="915.3" y2="723.0" stroke="#333333" stroke-width="1.8"/>
<line x1="915.3" y1="755.8" x2="915.3" y2="788.6" stroke="#333333" stroke-width="1.8"/>
<rect x="910.4" y="723.0" width="9.9" height="32.8" fill="#00BFC4" stroke="#333333" stroke-width="1.8"/>
<line x1="910.4" y1="755.8" x2="920.3" y2="755.8" stroke="#333333" stroke-width="3.4"/>
<rect x="984.5" y="582.0" width="209.2" height="215.9" fill="#fff" stroke="#666" stroke-width="1.4"/>
<path d="M1043.5,591.9 1043.4,593.4 1043.3,594.9 1043.3,596.4 1043.2,597.9 1043.2,599.4 1043.1,600.9 1043.1,602.4 1043.0,603.9 1043.0,605.4 1043.0,606.9 1043.0,608.4 1043.0,609.9 1043.0,611.4 1043.0,612.9 1043.0,614.4 1043.0,615.9 1043.0,617.4 1043.0,618.9 1043.1,620.4 1043.1,621.9 1043.2,623.4 1043.3,624.9 1043.5,626.4 1043.8,627.9 1044.4,629.4 1045.0,630.9 1045.7,632.4 1046.4,633.9 1047.2,635.4 1047.9,636.9 1048.6,638.4 1049.3,639.9 1049.9,641.4 1050.4,642.9 1050.9,644.4 1051.3,645.9 1051.7,647.5 1052.1,649.0 1052.5,650.5 1053.0,652.0 1053.5,653.5 1054.1,655.0 1054.8,656.5 1055.5,658.0 1056.4,659.5 1057.4,661.0 1058.4,662.5 1059.5,664.0 1060.6,665.5 1061.8,667.0 1062.9,668.5 1064.1,670.0 1065.2,671.5 1066.3,673.0 1067.3,674.5 1068.3,676.0 1069.3,677.5 1070.3,679.0 1071.3,680.5 1072.3,682.0 1073.3,683.5 1074.2,685.0 1075.1,686.5 1075.9,688.0 1076.6,689.5 1077.3,691.0 1077.9,692.5 1078.4,694.0 1078.8,695.5 1079.2,697.0 1079.5,698.5 1079.9,700.0 1080.2,701.5 1080.5,703.0 1080.8,704.5 1081.1,706.0 1081.5,707.5 1081.8,709.0 1082.2,710.5 1082.7,712.0 1083.0,713.5 1083.4,715.0 1083.8,716.5 1084.1,718.0 1084.3,719.5 1084.5,721.0 1084.5,722.5 1084.6,724.0 1084.5,725.5 1084.5,727.0 1084.5,728.5 1084.5,730.0 1084.4,731.5 1084.4,733.0 1084.3,734.5 1084.3,736.0 1084.2,737.5 1084.2,739.0 1084.1,740.5 1084.1,742.0 1084.0,743.5 1084.0,745.0 1084.0,746.5 1083.9,748.0 1083.9,749.5 1083.8,751.0 1083.6,752.5 1083.4,754.0 1083.2,755.5 1082.8,757.1 1082.1,758.6 1081.1,760.1 1079.9,761.6 1078.6,763.1 1077.1,764.6 1075.6,766.1 1074.0,767.6 1072.5,769.1 1071.1,770.6 1069.8,772.1 1068.6,773.6 1067.4,775.1 1066.2,776.6 1065.0,778.1 1063.8,779.6 1062.6,781.1 1061.5,782.6 1060.3,784.1 1059.1,785.6 1057.9,787.1 1056.8,788.6 1026.4,788.6 1025.2,787.1 1024.0,785.6 1022.8,784.1 1021.7,782.6 1020.5,781.1 1019.3,779.6 1018.1,778.1 1016.9,776.6 1015.8,775.1 1014.6,773.6 1013.4,772.1 1012.0,770.6 1010.6,769.1 1009.1,767.6 1007.5,766.1 1006.0,764.6 1004.5,763.1 1003.2,761.6 1002.0,760.1 1001.0,758.6 1000.3,757.1 999.9,755.5 999.7,754.0 999.5,752.5 999.4,751.0 999.3,749.5 999.2,748.0 999.1,746.5 999.1,745.0 999.1,743.5 999.0,742.0 999.0,740.5 998.9,739.0 998.9,737.5 998.8,736.0 998.8,734.5 998.7,733.0 998.7,731.5 998.6,730.0 998.6,728.5 998.6,727.0 998.6,725.5 998.6,724.0 998.6,722.5 998.6,721.0 998.8,719.5 999.0,718.0 999.3,716.5 999.7,715.0 1000.1,713.5 1000.5,712.0 1000.9,710.5 1001.3,709.0 1001.6,707.5 1002.0,706.0 1002.3,704.5 1002.6,703.0 1002.9,701.5 1003.2,700.0 1003.6,698.5 1003.9,697.0 1004.3,695.5 1004.8,694.0 1005.3,692.5 1005.8,691.0 1006.5,689.5 1007.2,688.0 1008.0,686.5 1008.9,685.0 1009.8,683.5 1010.8,682.0 1011.8,680.5 1012.8,679.0 1013.8,677.5 1014.8,676.0 1015.8,674.5 1016.8,673.0 1017.9,671.5 1019.0,670.0 1020.2,668.5 1021.3,667.0 1022.5,665.5 1023.6,664.0 1024.7,662.5 1025.8,661.0 1026.7,659.5 1027.6,658.0 1028.4,656.5 1029.0,655.0 1029.6,653.5 1030.1,652.0 1030.6,650.5 1031.0,649.0 1031.4,647.5 1031.8,645.9 1032.3,644.4 1032.7,642.9 1033.2,641.4 1033.8,639.9 1034.5,638.4 1035.2,636.9 1035.9,635.4 1036.7,633.9 1037.5,632.4 1038.1,630.9 1038.8,629.4 1039.3,627.9 1039.6,626.4 1039.8,624.9 1039.9,623.4 1040.0,621.9 1040.0,620.4 1040.1,618.9 1040.1,617.4 1040.1,615.9 1040.1,614.4 1040.1,612.9 1040.2,611.4 1040.2,609.9 1040.2,608.4 1040.1,606.9 1040.1,605.4 1040.1,603.9 1040.0,602.4 1040.0,600.9 1039.9,599.4 1039.9,597.9 1039.8,596.4 1039.8,594.9 1039.7,593.4 1039.7,591.9Z" fill="#F8766D" stroke="#333333" stroke-width="2" stroke-linejoin="round"/>
<line x1="1041.6" y1="591.9" x2="1041.6" y2="690.2" stroke="#333333" stroke-width="1.8"/>
<line x1="1041.6" y1="755.8" x2="1041.6" y2="788.6" stroke="#333333" stroke-width="1.8"/>
<rect x="1036.6" y="690.2" width="9.9" height="65.6" fill="#F8766D" stroke="#333333" stroke-width="1.8"/>
<line x1="1036.6" y1="723.0" x2="1046.5" y2="723.0" stroke="#333333" stroke-width="3.4"/>
<path d="M1146.0,591.9 1146.6,593.4 1147.2,594.9 1147.9,596.4 1148.5,597.9 1149.2,599.4 1149.8,600.9 1150.4,602.4 1150.9,603.9 1151.4,605.4 1151.9,606.9 1152.3,608.4 1152.6,609.9 1152.9,611.4 1153.1,612.9 1153.2,614.4 1153.4,615.9 1153.5,617.4 1153.6,618.9 1153.6,620.4 1153.6,621.9 1153.6,623.4 1153.6,624.9 1153.6,626.4 1153.6,627.9 1153.5,629.4 1153.4,630.9 1153.3,632.4 1153.2,633.9 1153.1,635.4 1153.0,636.9 1152.9,638.4 1152.9,639.9 1152.8,641.4 1152.9,642.9 1153.0,644.4 1153.1,645.9 1153.3,647.5 1153.6,649.0 1153.9,650.5 1154.2,652.0 1154.6,653.5 1154.9,655.0 1155.4,656.5 1155.8,658.0 1156.3,659.5 1156.9,661.0 1157.5,662.5 1158.1,664.0 1158.8,665.5 1159.5,667.0 1160.2,668.5 1160.8,670.0 1161.4,671.5 1162.0,673.0 1162.6,674.5 1163.0,676.0 1163.5,677.5 1164.0,679.0 1164.4,680.5 1164.8,682.0 1165.2,683.5 1165.6,685.0 1166.0,686.5 1166.4,688.0 1166.7,689.5 1167.1,691.0 1167.5,692.5 1168.0,694.0 1168.4,695.5 1168.8,697.0 1169.2,698.5 1169.5,700.0 1169.9,701.5 1170.2,703.0 1170.6,704.5 1170.8,706.0 1171.1,707.5 1171.3,709.0 1171.5,710.5 1171.7,712.0 1171.9,713.5 1172.1,715.0 1172.2,716.5 1172.3,718.0 1172.4,719.5 1172.4,721.0 1172.4,722.5 1172.4,724.0 1172.4,725.5 1172.4,727.0 1172.3,728.5 1172.2,730.0 1172.1,731.5 1171.9,733.0 1171.7,734.5 1171.5,736.0 1171.3,737.5 1171.0,739.0 1170.7,740.5 1170.4,742.0 1170.0,743.5 1169.6,745.0 1169.2,746.5 1168.7,748.0 1168.3,749.5 1167.7,751.0 1167.2,752.5 1166.6,754.0 1166.0,755.5 1165.3,757.1 1164.5,758.6 1163.7,760.1 1162.9,761.6 1162.0,763.1 1161.1,764.6 1160.2,766.1 1159.3,767.6 1158.4,769.1 1157.5,770.6 1156.6,772.1 1155.8,773.6 1154.9,775.1 1154.1,776.6 1153.3,778.1 1152.4,779.6 1151.6,781.1 1150.8,782.6 1149.9,784.1 1149.1,785.6 1148.3,787.1 1147.4,788.6 1125.8,788.6 1125.0,787.1 1124.2,785.6 1123.4,784.1 1122.5,782.6 1121.7,781.1 1120.9,779.6 1120.0,778.1 1119.2,776.6 1118.4,775.1 1117.5,773.6 1116.7,772.1 1115.8,770.6 1114.9,769.1 1114.0,767.6 1113.1,766.1 1112.2,764.6 1111.3,763.1 1110.4,761.6 1109.6,760.1 1108.8,758.6 1108.0,757.1 1107.3,755.5 1106.7,754.0 1106.1,752.5 1105.6,751.0 1105.0,749.5 1104.5,748.0 1104.1,746.5 1103.7,745.0 1103.3,743.5 1102.9,742.0 1102.6,740.5 1102.3,739.0 1102.0,737.5 1101.8,736.0 1101.5,734.5 1101.4,733.0 1101.2,731.5 1101.1,730.0 1101.0,728.5 1100.9,727.0 1100.9,725.5 1100.8,724.0 1100.8,722.5 1100.9,721.0 1100.9,719.5 1101.0,718.0 1101.1,716.5 1101.2,715.0 1101.4,713.5 1101.6,712.0 1101.8,710.5 1102.0,709.0 1102.2,707.5 1102.5,706.0 1102.7,704.5 1103.1,703.0 1103.4,701.5 1103.8,700.0 1104.1,698.5 1104.5,697.0 1104.9,695.5 1105.3,694.0 1105.7,692.5 1106.1,691.0 1106.5,689.5 1106.9,688.0 1107.3,686.5 1107.7,685.0 1108.1,683.5 1108.5,682.0 1108.9,680.5 1109.3,679.0 1109.8,677.5 1110.2,676.0 1110.7,674.5 1111.3,673.0 1111.8,671.5 1112.5,670.0 1113.1,668.5 1113.8,667.0 1114.5,665.5 1115.2,664.0 1115.8,662.5 1116.4,661.0 1117.0,659.5 1117.5,658.0 1117.9,656.5 1118.3,655.0 1118.7,653.5 1119.1,652.0 1119.4,650.5 1119.7,649.0 1119.9,647.5 1120.1,645.9 1120.3,644.4 1120.4,642.9 1120.4,641.4 1120.4,639.9 1120.4,638.4 1120.3,636.9 1120.2,635.4 1120.1,633.9 1120.0,632.4 1119.9,630.9 1119.8,629.4 1119.7,627.9 1119.7,626.4 1119.6,624.9 1119.6,623.4 1119.7,621.9 1119.7,620.4 1119.7,618.9 1119.8,617.4 1119.9,615.9 1120.0,614.4 1120.2,612.9 1120.4,611.4 1120.7,609.9 1121.0,608.4 1121.4,606.9 1121.8,605.4 1122.4,603.9 1122.9,602.4 1123.5,600.9 1124.1,599.4 1124.8,597.9 1125.4,596.4 1126.0,594.9 1126.7,593.4 1127.2,591.9Z" fill="#00BFC4" stroke="#333333" stroke-width="2" stroke-linejoin="round"/>
<line x1="1136.6" y1="591.9" x2="1136.6" y2="657.5" stroke="#333333" stroke-width="1.8"/>
<line x1="1136.6" y1="755.8" x2="1136.6" y2="788.6" stroke="#333333" stroke-width="1.8"/>
<rect x="1131.7" y="657.5" width="9.9" height="98.3" fill="#00BFC4" stroke="#333333" stroke-width="1.8"/>
<line x1="1131.7" y1="723.0" x2="1141.6" y2="723.0" stroke="#333333" stroke-width="3.4"/>
<rect x="1205.8" y="582.0" width="209.2" height="215.9" fill="#fff" stroke="#666" stroke-width="1.4"/>
<path d="M1272.0,591.9 1271.4,593.4 1270.7,594.9 1270.0,596.4 1269.3,597.9 1268.6,599.4 1268.0,600.9 1267.5,602.4 1267.1,603.9 1266.8,605.4 1266.8,606.9 1266.9,608.4 1267.2,609.9 1267.6,611.4 1268.1,612.9 1268.6,614.4 1269.2,615.9 1269.8,617.4 1270.3,618.9 1270.8,620.4 1271.1,621.9 1271.2,623.4 1271.2,624.9 1271.0,626.4 1270.5,627.9 1269.9,629.4 1269.3,630.9 1268.6,632.4 1267.9,633.9 1267.3,635.4 1266.9,636.9 1266.5,638.4 1266.5,639.9 1266.6,641.4 1267.1,642.9 1267.7,644.4 1268.4,645.9 1269.3,647.5 1270.1,649.0 1270.9,650.5 1271.5,652.0 1272.0,653.5 1272.2,655.0 1272.2,656.5 1272.0,658.0 1271.7,659.5 1271.3,661.0 1270.8,662.5 1270.4,664.0 1270.0,665.5 1269.8,667.0 1269.7,668.5 1270.1,670.0 1271.4,671.5 1273.5,673.0 1276.3,674.5 1279.5,676.0 1283.0,677.5 1286.8,679.0 1290.6,680.5 1294.3,682.0 1297.7,683.5 1300.7,685.0 1303.2,686.5 1305.1,688.0 1306.0,689.5 1306.0,691.0 1304.8,692.5 1302.6,694.0 1299.8,695.5 1296.4,697.0 1292.9,698.5 1289.3,700.0 1286.0,701.5 1283.2,703.0 1281.1,704.5 1280.0,706.0 1280.0,707.5 1280.6,709.0 1281.6,710.5 1282.9,712.0 1284.5,713.5 1286.2,715.0 1287.8,716.5 1289.3,718.0 1290.6,719.5 1291.6,721.0 1292.0,722.5 1291.8,724.0 1290.5,725.5 1288.3,727.0 1285.5,728.5 1282.4,730.0 1279.1,731.5 1275.9,733.0 1273.1,734.5 1271.0,736.0 1269.6,737.5 1268.8,739.0 1268.4,740.5 1268.4,742.0 1268.4,743.5 1268.6,745.0 1268.9,746.5 1269.2,748.0 1269.5,749.5 1269.8,751.0 1269.9,752.5 1269.7,754.0 1269.3,755.5 1268.8,757.1 1268.1,758.6 1267.5,760.1 1267.0,761.6 1266.7,763.1 1266.7,764.6 1266.7,766.1 1266.7,767.6 1266.7,769.1 1266.8,770.6 1266.9,772.1 1267.1,773.6 1267.3,775.1 1267.6,776.6 1268.0,778.1 1268.5,779.6 1269.0,781.1 1269.6,782.6 1270.2,784.1 1270.8,785.6 1271.4,787.1 1272.0,788.6 1253.8,788.6 1254.3,787.1 1254.9,785.6 1255.5,784.1 1256.1,782.6 1256.7,781.1 1257.2,779.6 1257.7,778.1 1258.1,776.6 1258.4,775.1 1258.6,773.6 1258.8,772.1 1258.9,770.6 1259.0,769.1 1259.0,767.6 1259.1,766.1 1259.1,764.6 1259.0,763.1 1258.7,761.6 1258.2,760.1 1257.6,758.6 1257.0,757.1 1256.4,755.5 1256.0,754.0 1255.9,752.5 1255.9,751.0 1256.2,749.5 1256.5,748.0 1256.8,746.5 1257.1,745.0 1257.3,743.5 1257.4,742.0 1257.3,740.5 1256.9,739.0 1256.1,737.5 1254.7,736.0 1252.6,734.5 1249.8,733.0 1246.6,731.5 1243.4,730.0 1240.2,728.5 1237.4,727.0 1235.2,725.5 1233.9,724.0 1233.7,722.5 1234.2,721.0 1235.1,719.5 1236.4,718.0 1237.9,716.5 1239.5,715.0 1241.2,713.5 1242.8,712.0 1244.1,710.5 1245.2,709.0 1245.8,707.5 1245.7,706.0 1244.6,704.5 1242.6,703.0 1239.7,701.5 1236.4,700.0 1232.9,698.5 1229.3,697.0 1225.9,695.5 1223.1,694.0 1220.9,692.5 1219.7,691.0 1219.7,689.5 1220.7,688.0 1222.5,686.5 1225.0,685.0 1228.0,683.5 1231.4,682.0 1235.1,680.5 1238.9,679.0 1242.7,677.5 1246.2,676.0 1249.5,674.5 1252.2,673.0 1254.3,671.5 1255.6,670.0 1256.1,668.5 1255.9,667.0 1255.7,665.5 1255.3,664.0 1254.9,662.5 1254.4,661.0 1254.0,659.5 1253.7,658.0 1253.5,656.5 1253.5,655.0 1253.7,653.5 1254.2,652.0 1254.9,650.5 1255.6,649.0 1256.5,647.5 1257.3,645.9 1258.0,644.4 1258.6,642.9 1259.1,641.4 1259.3,639.9 1259.2,638.4 1258.8,636.9 1258.4,635.4 1257.8,633.9 1257.1,632.4 1256.4,630.9 1255.8,629.4 1255.2,627.9 1254.8,626.4 1254.5,624.9 1254.5,623.4 1254.6,621.9 1255.0,620.4 1255.4,618.9 1255.9,617.4 1256.5,615.9 1257.1,614.4 1257.6,612.9 1258.1,611.4 1258.5,609.9 1258.8,608.4 1259.0,606.9 1258.9,605.4 1258.6,603.9 1258.2,602.4 1257.7,600.9 1257.1,599.4 1256.4,597.9 1255.7,596.4 1255.0,594.9 1254.3,593.4 1253.8,591.9Z" fill="#F8766D" stroke="#333333" stroke-width="2" stroke-linejoin="round"/>
<line x1="1262.9" y1="657.5" x2="1262.9" y2="690.2" stroke="#333333" stroke-width="1.8"/>
<line x1="1262.9" y1="723.0" x2="1262.9" y2="755.8" stroke="#333333" stroke-width="1.8"/>
<rect x="1257.9" y="690.2" width="9.9" height="32.8" fill="#F8766D" stroke="#333333" stroke-width="1.8"/>
<line x1="1257.9" y1="690.2" x2="1267.8" y2="690.2" stroke="#333333" stroke-width="3.4"/>
<path d="M1368.7,591.9 1369.4,593.4 1370.0,594.9 1370.7,596.4 1371.4,597.9 1372.1,599.4 1372.8,600.9 1373.4,602.4 1374.0,603.9 1374.6,605.4 1375.1,606.9 1375.6,608.4 1376.0,609.9 1376.4,611.4 1376.7,612.9 1377.1,614.4 1377.3,615.9 1377.6,617.4 1377.8,618.9 1377.9,620.4 1378.1,621.9 1378.1,623.4 1378.1,624.9 1378.1,626.4 1377.9,627.9 1377.7,629.4 1377.5,630.9 1377.2,632.4 1376.9,633.9 1376.6,635.4 1376.3,636.9 1376.0,638.4 1375.7,639.9 1375.5,641.4 1375.3,642.9 1375.1,644.4 1374.9,645.9 1374.8,647.5 1374.6,649.0 1374.5,650.5 1374.3,652.0 1374.2,653.5 1374.0,655.0 1373.9,656.5 1373.8,658.0 1373.7,659.5 1373.6,661.0 1373.5,662.5 1373.4,664.0 1373.4,665.5 1373.3,667.0 1373.2,668.5 1373.2,670.0 1373.2,671.5 1373.1,673.0 1373.1,674.5 1373.1,676.0 1373.1,677.5 1373.1,679.0 1373.1,680.5 1373.1,682.0 1373.1,683.5 1373.1,685.0 1373.1,686.5 1373.1,688.0 1373.1,689.5 1373.1,691.0 1373.1,692.5 1372.9,694.0 1372.8,695.5 1372.6,697.0 1372.3,698.5 1372.0,700.0 1371.8,701.5 1371.5,703.0 1371.3,704.5 1371.0,706.0 1370.8,707.5 1370.6,709.0 1370.4,710.5 1370.2,712.0 1370.0,713.5 1369.8,715.0 1369.6,716.5 1369.4,718.0 1369.2,719.5 1369.0,721.0 1368.8,722.5 1368.6,724.0 1368.4,725.5 1368.2,727.0 1368.0,728.5 1367.7,730.0 1367.5,731.5 1367.3,733.0 1367.1,734.5 1366.8,736.0 1366.6,737.5 1366.4,739.0 1366.2,740.5 1366.0,742.0 1365.8,743.5 1365.6,745.0 1365.4,746.5 1365.1,748.0 1364.9,749.5 1364.7,751.0 1364.5,752.5 1364.3,754.0 1364.1,755.5 1363.9,757.1 1363.6,758.6 1363.4,760.1 1363.1,761.6 1362.9,763.1 1362.6,764.6 1362.4,766.1 1362.2,767.6 1361.9,769.1 1361.7,770.6 1361.5,772.1 1361.3,773.6 1361.0,775.1 1360.8,776.6 1360.7,778.1 1360.5,779.6 1360.3,781.1 1360.1,782.6 1359.9,784.1 1359.7,785.6 1359.5,787.1 1359.3,788.6 1356.5,788.6 1356.4,787.1 1356.2,785.6 1356.0,784.1 1355.8,782.6 1355.6,781.1 1355.4,779.6 1355.2,778.1 1355.0,776.6 1354.8,775.1 1354.6,773.6 1354.4,772.1 1354.2,770.6 1354.0,769.1 1353.7,767.6 1353.5,766.1 1353.3,764.6 1353.0,763.1 1352.8,761.6 1352.5,760.1 1352.3,758.6 1352.0,757.1 1351.8,755.5 1351.6,754.0 1351.4,752.5 1351.2,751.0 1351.0,749.5 1350.7,748.0 1350.5,746.5 1350.3,745.0 1350.1,743.5 1349.9,742.0 1349.7,740.5 1349.5,739.0 1349.3,737.5 1349.1,736.0 1348.8,734.5 1348.6,733.0 1348.4,731.5 1348.2,730.0 1347.9,728.5 1347.7,727.0 1347.5,725.5 1347.3,724.0 1347.1,722.5 1346.9,721.0 1346.7,719.5 1346.5,718.0 1346.3,716.5 1346.1,715.0 1345.9,713.5 1345.7,712.0 1345.5,710.5 1345.3,709.0 1345.1,707.5 1344.9,706.0 1344.6,704.5 1344.4,703.0 1344.1,701.5 1343.8,700.0 1343.6,698.5 1343.3,697.0 1343.1,695.5 1342.9,694.0 1342.8,692.5 1342.8,691.0 1342.7,689.5 1342.7,688.0 1342.7,686.5 1342.7,685.0 1342.7,683.5 1342.7,682.0 1342.7,680.5 1342.7,679.0 1342.7,677.5 1342.7,676.0 1342.7,674.5 1342.7,673.0 1342.7,671.5 1342.7,670.0 1342.7,668.5 1342.6,667.0 1342.5,665.5 1342.5,664.0 1342.4,662.5 1342.3,661.0 1342.2,659.5 1342.1,658.0 1342.0,656.5 1341.8,655.0 1341.7,653.5 1341.6,652.0 1341.4,650.5 1341.3,649.0 1341.1,647.5 1340.9,645.9 1340.8,644.4 1340.6,642.9 1340.4,641.4 1340.2,639.9 1339.9,638.4 1339.6,636.9 1339.3,635.4 1339.0,633.9 1338.7,632.4 1338.4,630.9 1338.1,629.4 1337.9,627.9 1337.8,626.4 1337.7,624.9 1337.8,623.4 1337.8,621.9 1337.9,620.4 1338.1,618.9 1338.3,617.4 1338.6,615.9 1338.8,614.4 1339.2,612.9 1339.5,611.4 1339.9,609.9 1340.3,608.4 1340.8,606.9 1341.3,605.4 1341.9,603.9 1342.5,602.4 1343.1,600.9 1343.8,599.4 1344.5,597.9 1345.2,596.4 1345.8,594.9 1346.5,593.4 1347.1,591.9Z" fill="#00BFC4" stroke="#333333" stroke-width="2" stroke-linejoin="round"/>
<line x1="1357.9" y1="591.9" x2="1357.9" y2="624.7" stroke="#333333" stroke-width="1.8"/>
<line x1="1357.9" y1="690.2" x2="1357.9" y2="788.6" stroke="#333333" stroke-width="1.8"/>
<rect x="1353.0" y="624.7" width="9.9" height="65.6" fill="#00BFC4" stroke="#333333" stroke-width="1.8"/>
<line x1="1353.0" y1="657.5" x2="1362.9" y2="657.5" stroke="#333333" stroke-width="3.4"/>
<line x1="99.3" y1="581.3" x2="99.3" y2="798.6" stroke="#000" stroke-width="1.9"/>
<line x1="93.6" y1="788.6" x2="99.3" y2="788.6" stroke="#222" stroke-width="1.6"/>
<text transform="translate(88.3,797.6) scale(0.9,1)" text-anchor="end" font-family="&quot;Liberation Serif&quot;, serif" font-size="26.5" fill="#4D4D4D">1</text>
<line x1="93.6" y1="755.8" x2="99.3" y2="755.8" stroke="#222" stroke-width="1.6"/>
<text transform="translate(88.3,764.8) scale(0.9,1)" text-anchor="end" font-family="&quot;Liberation Serif&quot;, serif" font-size="26.5" fill="#4D4D4D">2</text>
<line x1="93.6" y1="723.0" x2="99.3" y2="723.0" stroke="#222" stroke-width="1.6"/>
<text transform="translate(88.3,732.0) scale(0.9,1)" text-anchor="end" font-family="&quot;Liberation Serif&quot;, serif" font-size="26.5" fill="#4D4D4D">3</text>
<line x1="93.6" y1="690.2" x2="99.3" y2="690.2" stroke="#222" stroke-width="1.6"/>
<text transform="translate(88.3,699.2) scale(0.9,1)" text-anchor="end" font-family="&quot;Liberation Serif&quot;, serif" font-size="26.5" fill="#4D4D4D">4</text>
<line x1="93.6" y1="657.5" x2="99.3" y2="657.5" stroke="#222" stroke-width="1.6"/>
<text transform="translate(88.3,666.5) scale(0.9,1)" text-anchor="end" font-family="&quot;Liberation Serif&quot;, serif" font-size="26.5" fill="#4D4D4D">5</text>
<line x1="93.6" y1="624.7" x2="99.3" y2="624.7" stroke="#222" stroke-width="1.6"/>
<text transform="translate(88.3,633.7) scale(0.9,1)" text-anchor="end" font-family="&quot;Liberation Serif&quot;, serif" font-size="26.5" fill="#4D4D4D">6</text>
<line x1="93.6" y1="591.9" x2="99.3" y2="591.9" stroke="#222" stroke-width="1.6"/>
<text transform="translate(88.3,600.9) scale(0.9,1)" text-anchor="end" font-family="&quot;Liberation Serif&quot;, serif" font-size="26.5" fill="#4D4D4D">7</text>
<line x1="98.4" y1="797.9" x2="309.2" y2="797.9" stroke="#000" stroke-width="2"/>
<line x1="319.7" y1="797.9" x2="530.5" y2="797.9" stroke="#000" stroke-width="2"/>
<line x1="541.0" y1="797.9" x2="751.8" y2="797.9" stroke="#000" stroke-width="2"/>
<line x1="762.3" y1="797.9" x2="973.1" y2="797.9" stroke="#000" stroke-width="2"/>
<line x1="983.6" y1="797.9" x2="1194.4" y2="797.9" stroke="#000" stroke-width="2"/>
<line x1="1204.9" y1="797.9" x2="1415.7" y2="797.9" stroke="#000" stroke-width="2"/>
<text transform="translate(63.5,463) rotate(-90)" text-anchor="middle" font-family="&quot;Liberation Serif&quot;, serif" font-size="32" fill="#000">Agreement</text>
<text x="425" y="864.5" font-family="&quot;Liberation Serif&quot;, serif" font-size="32" fill="#000">Condition</text>
<rect x="570.3" y="838" width="31.6" height="31.1" fill="#F8766D" stroke="#222" stroke-width="1.7"/>
<rect x="573.3" y="845.5" width="25.1" height="16.1" fill="#F8766D" stroke="#222" stroke-width="1.6"/>
<line x1="573.3" y1="853.3" x2="598.4" y2="853.3" stroke="#222" stroke-width="1.8"/>
<line x1="585.9" y1="838" x2="585.9" y2="845.5" stroke="#222" stroke-width="1.5"/>
<line x1="585.9" y1="861.6" x2="585.9" y2="869.1" stroke="#222" stroke-width="1.5"/>
<text x="619.5" y="864.3" font-family="&quot;Liberation Serif&quot;, serif" font-size="32" fill="#000">High specificity</text>
<rect x="841.2" y="838" width="31.6" height="31.1" fill="#00BFC4" stroke="#222" stroke-width="1.7"/>
<rect x="844.2" y="845.5" width="25.1" height="16.1" fill="#00BFC4" stroke="#222" stroke-width="1.6"/>
<line x1="844.2" y1="853.3" x2="869.3" y2="853.3" stroke="#222" stroke-width="1.8"/>
<line x1="856.8" y1="838" x2="856.8" y2="845.5" stroke="#222" stroke-width="1.5"/>
<line x1="856.8" y1="861.6" x2="856.8" y2="869.1" stroke="#222" stroke-width="1.5"/>
<text x="890.4" y="864.3" font-family="&quot;Liberation Serif&quot;, serif" font-size="32" fill="#000">Low specificity</text>
<text x="17.6" y="898" font-family="&quot;Liberation Sans&quot;, sans-serif" font-weight="bold" font-size="34">B</text>
<rect x="158.3" y="914.7" width="998.8" height="752.5" fill="#fff" stroke="#666" stroke-width="1.3"/>
<line x1="153.2" y1="1633.0" x2="158.3" y2="1633.0" stroke="#333" stroke-width="1.3"/>
<text transform="translate(147,1643.3) scale(0.935,1)" text-anchor="end" font-family="&quot;Liberation Serif&quot;, serif" font-size="31" fill="#4D4D4D">1</text>
<line x1="153.2" y1="1518.9" x2="158.3" y2="1518.9" stroke="#333" stroke-width="1.3"/>
<text transform="translate(147,1529.2) scale(0.935,1)" text-anchor="end" font-family="&quot;Liberation Serif&quot;, serif" font-size="31" fill="#4D4D4D">2</text>
<line x1="153.2" y1="1404.9" x2="158.3" y2="1404.9" stroke="#333" stroke-width="1.3"/>
<text transform="translate(147,1415.2) scale(0.935,1)" text-anchor="end" font-family="&quot;Liberation Serif&quot;, serif" font-size="31" fill="#4D4D4D">3</text>
<line x1="153.2" y1="1290.8" x2="158.3" y2="1290.8" stroke="#333" stroke-width="1.3"/>
<text transform="translate(147,1301.1) scale(0.935,1)" text-anchor="end" font-family="&quot;Liberation Serif&quot;, serif" font-size="31" fill="#4D4D4D">4</text>
<line x1="153.2" y1="1176.7" x2="158.3" y2="1176.7" stroke="#333" stroke-width="1.3"/>
<text transform="translate(147,1187.0) scale(0.935,1)" text-anchor="end" font-family="&quot;Liberation Serif&quot;, serif" font-size="31" fill="#4D4D4D">5</text>
<line x1="153.2" y1="1062.7" x2="158.3" y2="1062.7" stroke="#333" stroke-width="1.3"/>
<text transform="translate(147,1073.0) scale(0.935,1)" text-anchor="end" font-family="&quot;Liberation Serif&quot;, serif" font-size="31" fill="#4D4D4D">6</text>
<line x1="153.2" y1="948.6" x2="158.3" y2="948.6" stroke="#333" stroke-width="1.3"/>
<text transform="translate(147,958.9) scale(0.935,1)" text-anchor="end" font-family="&quot;Liberation Serif&quot;, serif" font-size="31" fill="#4D4D4D">7</text>
<rect x="226.1" y="1340.9" width="135.9" height="325.7" fill="#F8766D"/>
<rect x="362.0" y="1349.7" width="136.3" height="316.9" fill="#00BA38"/>
<rect x="498.3" y="1386.2" width="136.6" height="280.4" fill="#619CFF"/>
<rect x="681.1" y="1280.9" width="135.9" height="385.7" fill="#F8766D"/>
<rect x="817.0" y="1305.1" width="136.3" height="361.5" fill="#00BA38"/>
<rect x="953.3" y="1280.9" width="136.2" height="385.7" fill="#619CFF"/>
<path d="M278.8,1323.9 H308.8 M293.8,1323.9 V1356.0 M278.8,1356.0 H308.8" stroke="#000" stroke-width="1.8" fill="none"/>
<path d="M415.3,1333.0 H445.3 M430.3,1333.0 V1365.1 M415.3,1365.1 H445.3" stroke="#000" stroke-width="1.8" fill="none"/>
<path d="M551.6,1370.8 H581.6 M566.6,1370.8 V1400.7 M551.6,1400.7 H581.6" stroke="#000" stroke-width="1.8" fill="none"/>
<path d="M733.7,1263.6 H763.7 M748.7,1263.6 V1297.0 M733.7,1297.0 H763.7" stroke="#000" stroke-width="1.8" fill="none"/>
<path d="M870.0,1288.8 H900.0 M885.0,1288.8 V1320.9 M870.0,1320.9 H900.0" stroke="#000" stroke-width="1.8" fill="none"/>
<path d="M1006.2,1262.3 H1036.2 M1021.2,1262.3 V1297.9 M1006.2,1297.9 H1036.2" stroke="#000" stroke-width="1.8" fill="none"/>
<line x1="430.4" y1="1667.2" x2="430.4" y2="1673" stroke="#333" stroke-width="1.3"/>
<text x="430.4" y="1698" text-anchor="middle" font-family="&quot;Liberation Serif&quot;, serif" font-size="30" fill="#1a1a1a">High specificity</text>
<line x1="884.9" y1="1667.2" x2="884.9" y2="1673" stroke="#333" stroke-width="1.3"/>
<text x="884.9" y="1698" text-anchor="middle" font-family="&quot;Liberation Serif&quot;, serif" font-size="30" fill="#1a1a1a">Low specificity</text>
<text x="652" y="1734" text-anchor="middle" font-family="&quot;Liberation Serif&quot;, serif" font-size="32" fill="#000">Specificity</text>
<text transform="translate(121,1291) rotate(-90)" text-anchor="middle" font-family="&quot;Liberation Serif&quot;, serif" font-size="30" fill="#000">Agreement</text>
<text x="1189" y="1246" font-family="&quot;Liberation Serif&quot;, serif" font-size="29" fill="#000">Discipline</text>
<rect x="1189.5" y="1264.8" width="30.4" height="29" fill="#F8766D"/>
<text x="1236" y="1289.8" font-family="&quot;Liberation Serif&quot;, serif" font-size="30" fill="#000">Neuroscientists</text>
<rect x="1189.5" y="1297.2" width="30.4" height="29" fill="#00BA38"/>
<text x="1236" y="1322.2" font-family="&quot;Liberation Serif&quot;, serif" font-size="30" fill="#000">Philosophers</text>
<rect x="1189.5" y="1329.6" width="30.4" height="29" fill="#619CFF"/>
<text x="1236" y="1354.6" font-family="&quot;Liberation Serif&quot;, serif" font-size="30" fill="#000">Psychologists</text>
</svg></body></html>
